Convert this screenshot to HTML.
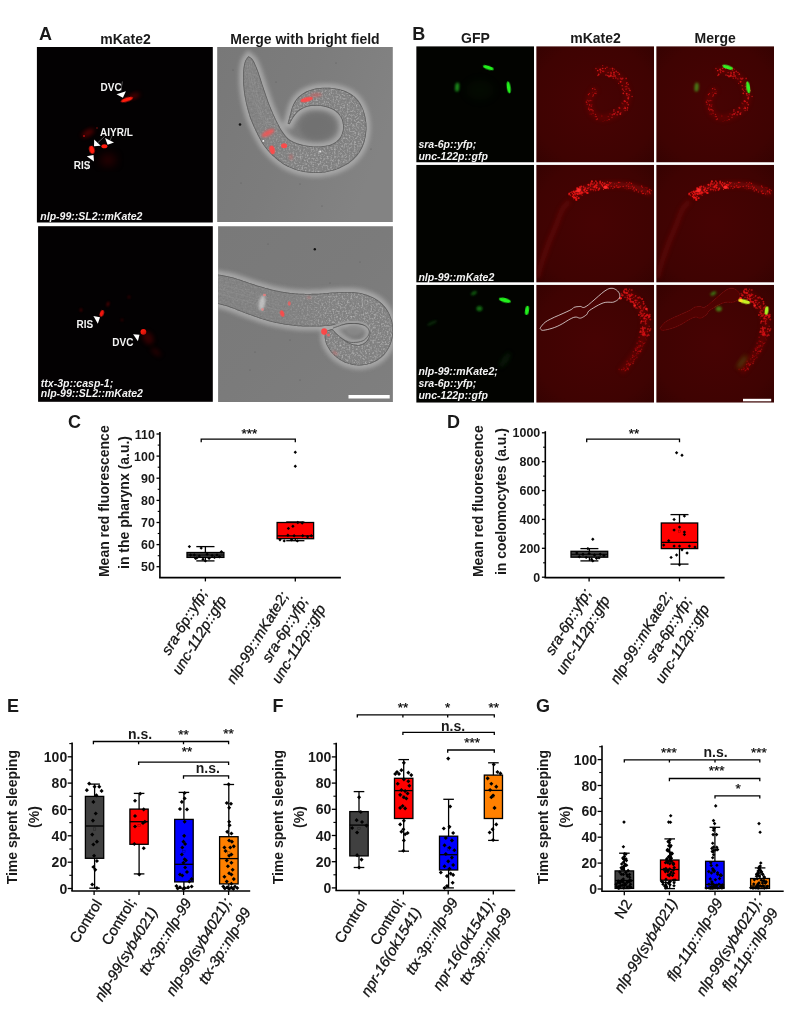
<!DOCTYPE html>
<html><head><meta charset="utf-8"><title>Figure</title>
<style>
html,body{margin:0;padding:0;background:#fff;}
body{width:812px;height:1010px;overflow:hidden;font-family:"Liberation Sans", Arial, sans-serif;}
svg{display:block;font-family:"Liberation Sans", Arial, sans-serif;}
</style></head><body>
<svg width="812" height="1010" viewBox="0 0 812 1010">
<defs>
<filter id="b05" x="-50%" y="-50%" width="200%" height="200%"><feGaussianBlur stdDeviation="0.5"/></filter>
<filter id="b08" x="-50%" y="-50%" width="200%" height="200%"><feGaussianBlur stdDeviation="0.8"/></filter>
<filter id="b1" x="-50%" y="-50%" width="200%" height="200%"><feGaussianBlur stdDeviation="1.1"/></filter>
<filter id="b2" x="-50%" y="-50%" width="200%" height="200%"><feGaussianBlur stdDeviation="2"/></filter>
<filter id="b4" x="-50%" y="-50%" width="200%" height="200%"><feGaussianBlur stdDeviation="4"/></filter>
<filter id="grain" x="0" y="0" width="100%" height="100%">
 <feTurbulence type="fractalNoise" baseFrequency="0.55" numOctaves="2" seed="3" result="n"/>
 <feColorMatrix in="n" type="matrix" values="0 0 0 0 1  0 0 0 0 1  0 0 0 0 1  2.2 0 0 0 -1.0" result="m"/>
 <feGaussianBlur in="m" stdDeviation="0.45"/>
</filter>
<filter id="grainD" x="0" y="0" width="100%" height="100%">
 <feTurbulence type="fractalNoise" baseFrequency="0.5" numOctaves="2" seed="11" result="n"/>
 <feColorMatrix in="n" type="matrix" values="0 0 0 0 0  0 0 0 0 0  0 0 0 0 0  0 2.2 0 0 -1.0" result="m"/>
 <feGaussianBlur in="m" stdDeviation="0.45"/>
</filter>
<linearGradient id="bfA" x1="0" y1="0" x2="1" y2="0.4"><stop offset="0" stop-color="#787878"/><stop offset="0.5" stop-color="#7c7c7c"/><stop offset="1" stop-color="#838383"/></linearGradient>
<linearGradient id="bfB" x1="0" y1="0" x2="1" y2="1"><stop offset="0" stop-color="#797979"/><stop offset="0.5" stop-color="#7b7b7b"/><stop offset="1" stop-color="#7f7f7f"/></linearGradient>
<radialGradient id="redbg" cx="50%" cy="50%" r="75%"><stop offset="0" stop-color="#470303"/><stop offset="0.7" stop-color="#3f0302"/><stop offset="1" stop-color="#330201"/></radialGradient>
<linearGradient id="mg1" gradientUnits="userSpaceOnUse" x1="255" y1="0" x2="300" y2="0"><stop offset="0" stop-color="#fff" stop-opacity="0.3"/><stop offset="1" stop-color="#fff" stop-opacity="1"/></linearGradient>
<mask id="mk1" maskUnits="userSpaceOnUse" x="217" y="47" width="177" height="177"><rect x="217" y="47" width="177" height="177" fill="url(#mg1)"/></mask>
<linearGradient id="mg2" gradientUnits="userSpaceOnUse" x1="285" y1="0" x2="335" y2="0"><stop offset="0" stop-color="#fff" stop-opacity="0.3"/><stop offset="1" stop-color="#fff" stop-opacity="1"/></linearGradient>
<mask id="mk2" maskUnits="userSpaceOnUse" x="217" y="226" width="177" height="177"><rect x="217" y="226" width="177" height="177" fill="url(#mg2)"/></mask>
</defs>
<text x="39.1" y="40.0" font-size="18" font-weight="bold" font-style="normal" text-anchor="start" fill="#1a1a1a" >A</text>
<text x="412.2" y="40.0" font-size="18" font-weight="bold" font-style="normal" text-anchor="start" fill="#1a1a1a" >B</text>
<text x="125.5" y="43.8" font-size="14" font-weight="bold" font-style="normal" text-anchor="middle" fill="#1a1a1a" >mKate2</text>
<text x="305.0" y="43.8" font-size="14" font-weight="bold" font-style="normal" text-anchor="middle" fill="#1a1a1a" >Merge with bright field</text>
<text x="475.5" y="42.8" font-size="14" font-weight="bold" font-style="normal" text-anchor="middle" fill="#1a1a1a" >GFP</text>
<text x="595.5" y="42.8" font-size="14" font-weight="bold" font-style="normal" text-anchor="middle" fill="#1a1a1a" >mKate2</text>
<text x="715.2" y="42.8" font-size="14" font-weight="bold" font-style="normal" text-anchor="middle" fill="#1a1a1a" >Merge</text>
<rect x="36.9" y="47" width="175.9" height="175.5" fill="#030102"/>
<ellipse cx="88.0" cy="133.0" rx="7" ry="3" transform="rotate(-30 88.0 133.0)" fill="#a00000" opacity="0.5" filter="url(#b2)"/>
<ellipse cx="84.0" cy="136.0" rx="1" ry="1" transform="rotate(0 84.0 136.0)" fill="#d01010" opacity="0.8" filter="url(#b05)"/>
<ellipse cx="97.0" cy="128.0" rx="0.8" ry="0.8" transform="rotate(0 97.0 128.0)" fill="#c01010" opacity="0.7" filter="url(#b05)"/>
<ellipse cx="134.0" cy="96.0" rx="6" ry="2.5" transform="rotate(-20 134.0 96.0)" fill="#8a0000" opacity="0.55" filter="url(#b2)"/>
<ellipse cx="108.0" cy="160.0" rx="8" ry="6" transform="rotate(0 108.0 160.0)" fill="#500000" opacity="0.5" filter="url(#b4)"/>
<ellipse cx="126.9" cy="99.6" rx="6.4" ry="2.0" transform="rotate(-18 126.9 99.6)" fill="#ff1a10" opacity="1" filter="url(#b05)"/>
<ellipse cx="104.4" cy="146.3" rx="3.0" ry="2.0" transform="rotate(0 104.4 146.3)" fill="#ff1a10" opacity="1" filter="url(#b05)"/>
<ellipse cx="91.9" cy="149.8" rx="2.6" ry="4.0" transform="rotate(-15 91.9 149.8)" fill="#ff1a10" opacity="1" filter="url(#b05)"/>
<path d="M122.4 81.5L120.9 90.8" stroke="#cfcfcf" stroke-width="0.4" fill="none"/>
<path d="M104.5 136.5L98.0 142.5" stroke="#cfcfcf" stroke-width="0.4" fill="none"/>
<path d="M112.0 136.0L110.0 140.5" stroke="#cfcfcf" stroke-width="0.4" fill="none"/>
<path d="M89.5 161.0L86.5 170.0" stroke="#cfcfcf" stroke-width="0.4" fill="none"/>
<path d="M116.5 94.3L125.9 91.3L122.9 97.8Z" fill="#fff"/>
<path d="M94.2 139.4L100.7 145.8L94.0 146.3Z" fill="#fff"/>
<path d="M105.1 137.9L114.0 142.5L107.6 144.8Z" fill="#fff"/>
<path d="M86.8 156.2L93.5 155.0L94.0 161.6Z" fill="#fff"/>
<text x="100.5" y="90.9" font-size="10" font-weight="bold" font-style="normal" text-anchor="start" fill="#f4f4f4" >DVC</text>
<text x="100.0" y="135.7" font-size="10" font-weight="bold" font-style="normal" text-anchor="start" fill="#f4f4f4" >AIYR/L</text>
<text x="73.7" y="168.9" font-size="10" font-weight="bold" font-style="normal" text-anchor="start" fill="#f4f4f4" >RIS</text>
<text x="40.3" y="220.0" font-size="10.5" font-weight="bold" font-style="italic" text-anchor="start" fill="#f4f4f4" >nlp-99::SL2::mKate2</text>
<rect x="38.1" y="226.2" width="174.7" height="175.6" fill="#030102"/>
<ellipse cx="101.8" cy="313.4" rx="1.9" ry="3.3" transform="rotate(20 101.8 313.4)" fill="#f01810" opacity="1" filter="url(#b05)"/>
<ellipse cx="143.4" cy="331.8" rx="2.9" ry="2.9" transform="rotate(0 143.4 331.8)" fill="#ff1a10" opacity="1" filter="url(#b05)"/>
<ellipse cx="108.0" cy="304.0" rx="1.2" ry="2.5" transform="rotate(20 108.0 304.0)" fill="#700000" opacity="0.8" filter="url(#b08)"/>
<ellipse cx="81.0" cy="310.0" rx="1.2" ry="1.8" transform="rotate(0 81.0 310.0)" fill="#600000" opacity="0.8" filter="url(#b08)"/>
<ellipse cx="129.0" cy="297.0" rx="1.5" ry="1.5" transform="rotate(0 129.0 297.0)" fill="#400000" opacity="0.8" filter="url(#b08)"/>
<ellipse cx="122.0" cy="320.0" rx="1.2" ry="1.2" transform="rotate(0 122.0 320.0)" fill="#500000" opacity="0.8" filter="url(#b08)"/>
<ellipse cx="148.0" cy="338.0" rx="5" ry="7" transform="rotate(-30 148.0 338.0)" fill="#600000" opacity="0.5" filter="url(#b2)"/>
<ellipse cx="156.0" cy="352.0" rx="6" ry="3" transform="rotate(40 156.0 352.0)" fill="#400000" opacity="0.5" filter="url(#b2)"/>
<path d="M93.4 316.1L100.0 317.2L97.8 323.7Z" fill="#fff"/>
<path d="M133.1 334.3L139.5 334.7L137.9 341.3Z" fill="#fff"/>
<text x="76.6" y="327.5" font-size="10" font-weight="bold" font-style="normal" text-anchor="start" fill="#f4f4f4" >RIS</text>
<text x="112.3" y="345.7" font-size="10" font-weight="bold" font-style="normal" text-anchor="start" fill="#f4f4f4" >DVC</text>
<text x="40.8" y="387.3" font-size="10.5" font-weight="bold" font-style="italic" text-anchor="start" fill="#f4f4f4" >ttx-3p::casp-1;</text>
<text x="40.8" y="397.4" font-size="10.5" font-weight="bold" font-style="italic" text-anchor="start" fill="#f4f4f4" >nlp-99::SL2::mKate2</text>
<svg x="217.2" y="47" width="175.6" height="175" viewBox="217.2 47 175.6 175" overflow="hidden">
<rect x="217" y="47" width="176.5" height="176" fill="url(#bfA)"/>
<path d="M248.5 56.1L248.2 56.5L247.8 56.9L247.4 57.4L246.9 58.0L246.4 58.7L246.0 59.4L245.5 60.2L245.1 61.1L244.8 62.0L244.5 63.0L244.3 64.0L244.0 65.1L243.8 66.3L243.6 67.5L243.4 68.9L243.3 70.3L243.2 71.9L243.1 73.6L243.1 75.4L243.0 77.2L243.0 79.2L243.1 81.1L243.2 83.1L243.3 85.1L243.5 87.1L243.7 89.1L243.9 91.2L244.2 93.3L244.5 95.4L244.9 97.5L245.3 99.6L245.7 101.7L246.2 103.8L246.7 105.9L247.2 108.0L247.8 110.2L248.4 112.3L249.0 114.3L249.6 116.4L250.3 118.4L251.0 120.3L251.8 122.2L252.6 124.1L253.4 126.0L254.2 127.8L255.1 129.6L255.9 131.4L256.8 133.1L257.6 134.9L258.5 136.5L259.4 138.2L260.3 139.8L261.2 141.4L262.1 143.0L263.1 144.5L264.2 146.1L265.3 147.6L266.5 149.0L267.7 150.4L268.9 151.8L270.2 153.2L271.5 154.6L272.9 155.9L274.3 157.1L275.8 158.4L277.3 159.7L278.8 160.9L280.4 162.1L282.0 163.3L283.7 164.4L285.5 165.4L287.3 166.4L289.2 167.3L291.2 168.1L293.2 168.9L295.4 169.7L297.5 170.4L299.7 171.0L301.8 171.5L303.9 171.9L306.0 172.3L308.1 172.6L310.1 172.8L312.2 173.0L314.3 173.0L316.4 173.1L318.4 173.0L320.5 172.9L322.6 172.6L324.7 172.4L326.8 172.0L329.0 171.6L331.0 171.1L333.1 170.5L335.2 169.9L337.1 169.2L339.1 168.4L341.1 167.5L343.0 166.6L344.9 165.6L346.8 164.5L348.6 163.4L350.3 162.1L351.9 160.8L353.5 159.5L354.9 158.0L356.3 156.5L357.7 154.9L358.9 153.2L360.1 151.5L361.1 149.7L362.1 147.9L362.9 146.0L363.7 144.0L364.4 141.9L364.9 139.8L365.4 137.7L365.8 135.5L366.1 133.4L366.3 131.3L366.5 129.2L366.5 127.1L366.4 124.9L366.3 122.8L366.0 120.7L365.7 118.6L365.3 116.6L364.9 114.7L364.3 112.8L363.7 110.9L363.0 109.0L362.2 107.2L361.3 105.5L360.4 103.8L359.4 102.3L358.4 100.8L357.3 99.5L356.2 98.2L355.0 97.1L353.7 96.0L352.4 95.1L351.1 94.1L349.7 93.3L348.2 92.5L346.8 91.8L345.2 91.1L343.7 90.5L342.1 90.0L340.4 89.5L338.7 89.1L337.0 88.7L335.3 88.4L333.5 88.2L331.7 88.0L329.8 87.8L327.9 87.7L326.0 87.7L324.1 87.7L322.3 87.7L320.5 87.9L318.8 88.1L317.1 88.3L315.4 88.6L313.7 89.0L312.1 89.5L310.5 89.9L309.0 90.5L307.6 91.0L306.2 91.6L304.9 92.3L303.7 93.0L302.5 93.7L301.4 94.5L300.3 95.4L299.3 96.2L298.4 97.1L297.5 98.0L296.6 99.0L295.9 100.0L295.2 101.1L294.5 102.1L293.9 103.2L293.3 104.3L292.8 105.4L292.3 106.5L291.9 107.7L291.6 108.8L291.2 110.0L290.9 111.2L290.6 112.4L290.4 113.5L290.0 114.7L289.7 115.8L289.4 117.1L289.0 118.4L288.7 119.7L288.3 120.9L288.1 121.9L287.8 122.8L287.6 123.5L289.5 124.3L289.8 123.7L290.2 122.9L290.7 122.0L291.2 121.0L291.8 119.9L292.4 118.9L293.1 117.8L293.7 116.9L294.4 116.0L295.1 115.1L295.9 114.1L296.7 113.2L297.5 112.3L298.3 111.5L299.2 110.7L300.2 110.0L301.2 109.4L302.2 108.8L303.3 108.3L304.4 107.8L305.6 107.3L306.8 106.9L308.1 106.6L309.4 106.3L310.9 106.1L312.5 106.0L314.1 105.9L315.8 105.9L317.5 105.9L319.2 106.0L320.8 106.1L322.4 106.3L323.9 106.6L325.4 106.9L326.8 107.3L328.3 107.7L329.6 108.2L331.0 108.8L332.3 109.4L333.5 110.0L334.6 110.8L335.7 111.6L336.7 112.4L337.7 113.3L338.6 114.3L339.4 115.3L340.2 116.3L340.8 117.4L341.4 118.6L341.9 119.8L342.3 121.0L342.6 122.3L342.8 123.7L343.0 125.0L343.1 126.3L343.1 127.6L343.0 128.9L342.8 130.2L342.5 131.6L342.1 132.9L341.7 134.2L341.2 135.5L340.6 136.7L339.9 137.8L339.2 138.8L338.3 139.7L337.4 140.6L336.4 141.5L335.3 142.3L334.1 143.0L332.9 143.6L331.6 144.2L330.2 144.7L328.7 145.2L327.2 145.5L325.5 145.8L323.9 146.0L322.1 146.2L320.4 146.4L318.7 146.4L316.9 146.5L315.1 146.4L313.2 146.4L311.3 146.2L309.4 146.0L307.5 145.8L305.7 145.5L303.9 145.1L302.2 144.7L300.4 144.3L298.7 143.8L297.0 143.2L295.3 142.6L293.8 142.0L292.3 141.3L291.0 140.5L289.8 139.8L288.7 139.0L287.7 138.1L286.9 137.2L286.0 136.3L285.2 135.3L284.4 134.3L283.6 133.1L282.7 132.0L281.9 130.8L281.1 129.5L280.3 128.2L279.6 126.8L278.8 125.3L278.0 123.7L277.1 122.0L276.2 120.2L275.3 118.3L274.4 116.3L273.4 114.2L272.5 112.0L271.5 109.8L270.6 107.6L269.7 105.4L268.9 103.2L268.0 100.9L267.2 98.5L266.4 96.2L265.6 93.8L264.8 91.5L264.0 89.2L263.3 86.9L262.5 84.7L261.8 82.5L261.1 80.3L260.4 78.1L259.7 76.0L259.0 74.0L258.4 72.1L257.7 70.3L257.1 68.7L256.5 67.2L255.9 65.8L255.3 64.5L254.8 63.2L254.2 62.1L253.7 61.1L253.1 60.2L252.5 59.3L251.8 58.6L251.2 58.0L250.5 57.5L249.9 57.1L249.3 56.7L248.8 56.4L248.5 56.1Z" fill="none" stroke="#acacac" stroke-width="8" filter="url(#b2)" opacity="0.9"/>
<path d="M248.5 56.1L248.2 56.5L247.8 56.9L247.4 57.4L246.9 58.0L246.4 58.7L246.0 59.4L245.5 60.2L245.1 61.1L244.8 62.0L244.5 63.0L244.3 64.0L244.0 65.1L243.8 66.3L243.6 67.5L243.4 68.9L243.3 70.3L243.2 71.9L243.1 73.6L243.1 75.4L243.0 77.2L243.0 79.2L243.1 81.1L243.2 83.1L243.3 85.1L243.5 87.1L243.7 89.1L243.9 91.2L244.2 93.3L244.5 95.4L244.9 97.5L245.3 99.6L245.7 101.7L246.2 103.8L246.7 105.9L247.2 108.0L247.8 110.2L248.4 112.3L249.0 114.3L249.6 116.4L250.3 118.4L251.0 120.3L251.8 122.2L252.6 124.1L253.4 126.0L254.2 127.8L255.1 129.6L255.9 131.4L256.8 133.1L257.6 134.9L258.5 136.5L259.4 138.2L260.3 139.8L261.2 141.4L262.1 143.0L263.1 144.5L264.2 146.1L265.3 147.6L266.5 149.0L267.7 150.4L268.9 151.8L270.2 153.2L271.5 154.6L272.9 155.9L274.3 157.1L275.8 158.4L277.3 159.7L278.8 160.9L280.4 162.1L282.0 163.3L283.7 164.4L285.5 165.4L287.3 166.4L289.2 167.3L291.2 168.1L293.2 168.9L295.4 169.7L297.5 170.4L299.7 171.0L301.8 171.5L303.9 171.9L306.0 172.3L308.1 172.6L310.1 172.8L312.2 173.0L314.3 173.0L316.4 173.1L318.4 173.0L320.5 172.9L322.6 172.6L324.7 172.4L326.8 172.0L329.0 171.6L331.0 171.1L333.1 170.5L335.2 169.9L337.1 169.2L339.1 168.4L341.1 167.5L343.0 166.6L344.9 165.6L346.8 164.5L348.6 163.4L350.3 162.1L351.9 160.8L353.5 159.5L354.9 158.0L356.3 156.5L357.7 154.9L358.9 153.2L360.1 151.5L361.1 149.7L362.1 147.9L362.9 146.0L363.7 144.0L364.4 141.9L364.9 139.8L365.4 137.7L365.8 135.5L366.1 133.4L366.3 131.3L366.5 129.2L366.5 127.1L366.4 124.9L366.3 122.8L366.0 120.7L365.7 118.6L365.3 116.6L364.9 114.7L364.3 112.8L363.7 110.9L363.0 109.0L362.2 107.2L361.3 105.5L360.4 103.8L359.4 102.3L358.4 100.8L357.3 99.5L356.2 98.2L355.0 97.1L353.7 96.0L352.4 95.1L351.1 94.1L349.7 93.3L348.2 92.5L346.8 91.8L345.2 91.1L343.7 90.5L342.1 90.0L340.4 89.5L338.7 89.1L337.0 88.7L335.3 88.4L333.5 88.2L331.7 88.0L329.8 87.8L327.9 87.7L326.0 87.7L324.1 87.7L322.3 87.7L320.5 87.9L318.8 88.1L317.1 88.3L315.4 88.6L313.7 89.0L312.1 89.5L310.5 89.9L309.0 90.5L307.6 91.0L306.2 91.6L304.9 92.3L303.7 93.0L302.5 93.7L301.4 94.5L300.3 95.4L299.3 96.2L298.4 97.1L297.5 98.0L296.6 99.0L295.9 100.0L295.2 101.1L294.5 102.1L293.9 103.2L293.3 104.3L292.8 105.4L292.3 106.5L291.9 107.7L291.6 108.8L291.2 110.0L290.9 111.2L290.6 112.4L290.4 113.5L290.0 114.7L289.7 115.8L289.4 117.1L289.0 118.4L288.7 119.7L288.3 120.9L288.1 121.9L287.8 122.8L287.6 123.5L289.5 124.3L289.8 123.7L290.2 122.9L290.7 122.0L291.2 121.0L291.8 119.9L292.4 118.9L293.1 117.8L293.7 116.9L294.4 116.0L295.1 115.1L295.9 114.1L296.7 113.2L297.5 112.3L298.3 111.5L299.2 110.7L300.2 110.0L301.2 109.4L302.2 108.8L303.3 108.3L304.4 107.8L305.6 107.3L306.8 106.9L308.1 106.6L309.4 106.3L310.9 106.1L312.5 106.0L314.1 105.9L315.8 105.9L317.5 105.9L319.2 106.0L320.8 106.1L322.4 106.3L323.9 106.6L325.4 106.9L326.8 107.3L328.3 107.7L329.6 108.2L331.0 108.8L332.3 109.4L333.5 110.0L334.6 110.8L335.7 111.6L336.7 112.4L337.7 113.3L338.6 114.3L339.4 115.3L340.2 116.3L340.8 117.4L341.4 118.6L341.9 119.8L342.3 121.0L342.6 122.3L342.8 123.7L343.0 125.0L343.1 126.3L343.1 127.6L343.0 128.9L342.8 130.2L342.5 131.6L342.1 132.9L341.7 134.2L341.2 135.5L340.6 136.7L339.9 137.8L339.2 138.8L338.3 139.7L337.4 140.6L336.4 141.5L335.3 142.3L334.1 143.0L332.9 143.6L331.6 144.2L330.2 144.7L328.7 145.2L327.2 145.5L325.5 145.8L323.9 146.0L322.1 146.2L320.4 146.4L318.7 146.4L316.9 146.5L315.1 146.4L313.2 146.4L311.3 146.2L309.4 146.0L307.5 145.8L305.7 145.5L303.9 145.1L302.2 144.7L300.4 144.3L298.7 143.8L297.0 143.2L295.3 142.6L293.8 142.0L292.3 141.3L291.0 140.5L289.8 139.8L288.7 139.0L287.7 138.1L286.9 137.2L286.0 136.3L285.2 135.3L284.4 134.3L283.6 133.1L282.7 132.0L281.9 130.8L281.1 129.5L280.3 128.2L279.6 126.8L278.8 125.3L278.0 123.7L277.1 122.0L276.2 120.2L275.3 118.3L274.4 116.3L273.4 114.2L272.5 112.0L271.5 109.8L270.6 107.6L269.7 105.4L268.9 103.2L268.0 100.9L267.2 98.5L266.4 96.2L265.6 93.8L264.8 91.5L264.0 89.2L263.3 86.9L262.5 84.7L261.8 82.5L261.1 80.3L260.4 78.1L259.7 76.0L259.0 74.0L258.4 72.1L257.7 70.3L257.1 68.7L256.5 67.2L255.9 65.8L255.3 64.5L254.8 63.2L254.2 62.1L253.7 61.1L253.1 60.2L252.5 59.3L251.8 58.6L251.2 58.0L250.5 57.5L249.9 57.1L249.3 56.7L248.8 56.4L248.5 56.1Z" fill="#838383"/>
<clipPath id="cw1"><path d="M248.5 56.1L248.2 56.5L247.8 56.9L247.4 57.4L246.9 58.0L246.4 58.7L246.0 59.4L245.5 60.2L245.1 61.1L244.8 62.0L244.5 63.0L244.3 64.0L244.0 65.1L243.8 66.3L243.6 67.5L243.4 68.9L243.3 70.3L243.2 71.9L243.1 73.6L243.1 75.4L243.0 77.2L243.0 79.2L243.1 81.1L243.2 83.1L243.3 85.1L243.5 87.1L243.7 89.1L243.9 91.2L244.2 93.3L244.5 95.4L244.9 97.5L245.3 99.6L245.7 101.7L246.2 103.8L246.7 105.9L247.2 108.0L247.8 110.2L248.4 112.3L249.0 114.3L249.6 116.4L250.3 118.4L251.0 120.3L251.8 122.2L252.6 124.1L253.4 126.0L254.2 127.8L255.1 129.6L255.9 131.4L256.8 133.1L257.6 134.9L258.5 136.5L259.4 138.2L260.3 139.8L261.2 141.4L262.1 143.0L263.1 144.5L264.2 146.1L265.3 147.6L266.5 149.0L267.7 150.4L268.9 151.8L270.2 153.2L271.5 154.6L272.9 155.9L274.3 157.1L275.8 158.4L277.3 159.7L278.8 160.9L280.4 162.1L282.0 163.3L283.7 164.4L285.5 165.4L287.3 166.4L289.2 167.3L291.2 168.1L293.2 168.9L295.4 169.7L297.5 170.4L299.7 171.0L301.8 171.5L303.9 171.9L306.0 172.3L308.1 172.6L310.1 172.8L312.2 173.0L314.3 173.0L316.4 173.1L318.4 173.0L320.5 172.9L322.6 172.6L324.7 172.4L326.8 172.0L329.0 171.6L331.0 171.1L333.1 170.5L335.2 169.9L337.1 169.2L339.1 168.4L341.1 167.5L343.0 166.6L344.9 165.6L346.8 164.5L348.6 163.4L350.3 162.1L351.9 160.8L353.5 159.5L354.9 158.0L356.3 156.5L357.7 154.9L358.9 153.2L360.1 151.5L361.1 149.7L362.1 147.9L362.9 146.0L363.7 144.0L364.4 141.9L364.9 139.8L365.4 137.7L365.8 135.5L366.1 133.4L366.3 131.3L366.5 129.2L366.5 127.1L366.4 124.9L366.3 122.8L366.0 120.7L365.7 118.6L365.3 116.6L364.9 114.7L364.3 112.8L363.7 110.9L363.0 109.0L362.2 107.2L361.3 105.5L360.4 103.8L359.4 102.3L358.4 100.8L357.3 99.5L356.2 98.2L355.0 97.1L353.7 96.0L352.4 95.1L351.1 94.1L349.7 93.3L348.2 92.5L346.8 91.8L345.2 91.1L343.7 90.5L342.1 90.0L340.4 89.5L338.7 89.1L337.0 88.7L335.3 88.4L333.5 88.2L331.7 88.0L329.8 87.8L327.9 87.7L326.0 87.7L324.1 87.7L322.3 87.7L320.5 87.9L318.8 88.1L317.1 88.3L315.4 88.6L313.7 89.0L312.1 89.5L310.5 89.9L309.0 90.5L307.6 91.0L306.2 91.6L304.9 92.3L303.7 93.0L302.5 93.7L301.4 94.5L300.3 95.4L299.3 96.2L298.4 97.1L297.5 98.0L296.6 99.0L295.9 100.0L295.2 101.1L294.5 102.1L293.9 103.2L293.3 104.3L292.8 105.4L292.3 106.5L291.9 107.7L291.6 108.8L291.2 110.0L290.9 111.2L290.6 112.4L290.4 113.5L290.0 114.7L289.7 115.8L289.4 117.1L289.0 118.4L288.7 119.7L288.3 120.9L288.1 121.9L287.8 122.8L287.6 123.5L289.5 124.3L289.8 123.7L290.2 122.9L290.7 122.0L291.2 121.0L291.8 119.9L292.4 118.9L293.1 117.8L293.7 116.9L294.4 116.0L295.1 115.1L295.9 114.1L296.7 113.2L297.5 112.3L298.3 111.5L299.2 110.7L300.2 110.0L301.2 109.4L302.2 108.8L303.3 108.3L304.4 107.8L305.6 107.3L306.8 106.9L308.1 106.6L309.4 106.3L310.9 106.1L312.5 106.0L314.1 105.9L315.8 105.9L317.5 105.9L319.2 106.0L320.8 106.1L322.4 106.3L323.9 106.6L325.4 106.9L326.8 107.3L328.3 107.7L329.6 108.2L331.0 108.8L332.3 109.4L333.5 110.0L334.6 110.8L335.7 111.6L336.7 112.4L337.7 113.3L338.6 114.3L339.4 115.3L340.2 116.3L340.8 117.4L341.4 118.6L341.9 119.8L342.3 121.0L342.6 122.3L342.8 123.7L343.0 125.0L343.1 126.3L343.1 127.6L343.0 128.9L342.8 130.2L342.5 131.6L342.1 132.9L341.7 134.2L341.2 135.5L340.6 136.7L339.9 137.8L339.2 138.8L338.3 139.7L337.4 140.6L336.4 141.5L335.3 142.3L334.1 143.0L332.9 143.6L331.6 144.2L330.2 144.7L328.7 145.2L327.2 145.5L325.5 145.8L323.9 146.0L322.1 146.2L320.4 146.4L318.7 146.4L316.9 146.5L315.1 146.4L313.2 146.4L311.3 146.2L309.4 146.0L307.5 145.8L305.7 145.5L303.9 145.1L302.2 144.7L300.4 144.3L298.7 143.8L297.0 143.2L295.3 142.6L293.8 142.0L292.3 141.3L291.0 140.5L289.8 139.8L288.7 139.0L287.7 138.1L286.9 137.2L286.0 136.3L285.2 135.3L284.4 134.3L283.6 133.1L282.7 132.0L281.9 130.8L281.1 129.5L280.3 128.2L279.6 126.8L278.8 125.3L278.0 123.7L277.1 122.0L276.2 120.2L275.3 118.3L274.4 116.3L273.4 114.2L272.5 112.0L271.5 109.8L270.6 107.6L269.7 105.4L268.9 103.2L268.0 100.9L267.2 98.5L266.4 96.2L265.6 93.8L264.8 91.5L264.0 89.2L263.3 86.9L262.5 84.7L261.8 82.5L261.1 80.3L260.4 78.1L259.7 76.0L259.0 74.0L258.4 72.1L257.7 70.3L257.1 68.7L256.5 67.2L255.9 65.8L255.3 64.5L254.8 63.2L254.2 62.1L253.7 61.1L253.1 60.2L252.5 59.3L251.8 58.6L251.2 58.0L250.5 57.5L249.9 57.1L249.3 56.7L248.8 56.4L248.5 56.1Z"/></clipPath>
<g clip-path="url(#cw1)">
<g mask="url(#mk1)"><rect x="217.3" y="47" width="175.7" height="175.5" filter="url(#grain)" opacity="0.42"/></g>
<path d="M246.8 61.1L246.9 62.1L247.1 63.3L247.3 64.8L247.5 66.5L247.7 68.3L247.9 70.2L248.2 72.1L248.5 74.0L248.8 75.9L249.2 77.9L249.5 79.9L249.9 82.0L250.3 84.1L250.8 86.3L251.3 88.5L251.8 90.6L252.4 92.9L253.0 95.2L253.7 97.5L254.3 99.9L255.0 102.2L255.8 104.6L256.6 106.9L257.4 109.1L258.2 111.4L259.2 113.8L260.3 116.2L261.4 118.6L262.4 120.8L263.4 122.8L264.2 124.5L264.7 125.7" fill="none" stroke="#9a9a9a" stroke-width="0.7" opacity="0.5" filter="url(#b05)"/>
<path d="M249.0 61.1L249.1 62.1L249.3 63.3L249.5 64.8L249.7 66.5L249.9 68.3L250.1 70.2L250.4 72.1L250.7 74.0L251.0 75.9L251.4 77.9L251.7 79.9L252.1 82.0L252.5 84.1L253.0 86.3L253.5 88.5L254.0 90.6L254.6 92.9L255.2 95.2L255.9 97.5L256.5 99.9L257.2 102.2L258.0 104.6L258.8 106.9L259.6 109.1L260.4 111.4L261.4 113.8L262.5 116.2L263.6 118.6L264.6 120.8L265.6 122.8L266.4 124.5L266.9 125.7" fill="none" stroke="#9a9a9a" stroke-width="0.7" opacity="0.5" filter="url(#b05)"/>
<path d="M251.2 61.1L251.3 62.1L251.5 63.3L251.7 64.8L251.9 66.5L252.1 68.3L252.3 70.2L252.6 72.1L252.9 74.0L253.2 75.9L253.6 77.9L253.9 79.9L254.3 82.0L254.7 84.1L255.2 86.3L255.7 88.5L256.2 90.6L256.8 92.9L257.4 95.2L258.1 97.5L258.7 99.9L259.4 102.2L260.2 104.6L261.0 106.9L261.8 109.1L262.6 111.4L263.6 113.8L264.7 116.2L265.8 118.6L266.8 120.8L267.8 122.8L268.6 124.5L269.1 125.7" fill="none" stroke="#9a9a9a" stroke-width="0.7" opacity="0.5" filter="url(#b05)"/>
<rect x="217.3" y="47" width="175.7" height="175.5" filter="url(#grainD)" opacity="0.07"/>
<path d="M248.5 56.1L248.2 56.5L247.8 56.9L247.4 57.4L246.9 58.0L246.4 58.7L246.0 59.4L245.5 60.2L245.1 61.1L244.8 62.0L244.5 63.0L244.3 64.0L244.0 65.1L243.8 66.3L243.6 67.5L243.4 68.9L243.3 70.3L243.2 71.9L243.1 73.6L243.1 75.4L243.0 77.2L243.0 79.2L243.1 81.1L243.2 83.1L243.3 85.1L243.5 87.1L243.7 89.1L243.9 91.2L244.2 93.3L244.5 95.4L244.9 97.5L245.3 99.6L245.7 101.7L246.2 103.8L246.7 105.9L247.2 108.0L247.8 110.2L248.4 112.3L249.0 114.3L249.6 116.4L250.3 118.4L251.0 120.3L251.8 122.2L252.6 124.1L253.4 126.0L254.2 127.8L255.1 129.6L255.9 131.4L256.8 133.1L257.6 134.9L258.5 136.5L259.4 138.2L260.3 139.8L261.2 141.4L262.1 143.0L263.1 144.5L264.2 146.1L265.3 147.6L266.5 149.0L267.7 150.4L268.9 151.8L270.2 153.2L271.5 154.6L272.9 155.9L274.3 157.1L275.8 158.4L277.3 159.7L278.8 160.9L280.4 162.1L282.0 163.3L283.7 164.4L285.5 165.4L287.3 166.4L289.2 167.3L291.2 168.1L293.2 168.9L295.4 169.7L297.5 170.4L299.7 171.0L301.8 171.5L303.9 171.9L306.0 172.3L308.1 172.6L310.1 172.8L312.2 173.0L314.3 173.0L316.4 173.1L318.4 173.0L320.5 172.9L322.6 172.6L324.7 172.4L326.8 172.0L329.0 171.6L331.0 171.1L333.1 170.5L335.2 169.9L337.1 169.2L339.1 168.4L341.1 167.5L343.0 166.6L344.9 165.6L346.8 164.5L348.6 163.4L350.3 162.1L351.9 160.8L353.5 159.5L354.9 158.0L356.3 156.5L357.7 154.9L358.9 153.2L360.1 151.5L361.1 149.7L362.1 147.9L362.9 146.0L363.7 144.0L364.4 141.9L364.9 139.8L365.4 137.7L365.8 135.5L366.1 133.4L366.3 131.3L366.5 129.2L366.5 127.1L366.4 124.9L366.3 122.8L366.0 120.7L365.7 118.6L365.3 116.6L364.9 114.7L364.3 112.8L363.7 110.9L363.0 109.0L362.2 107.2L361.3 105.5L360.4 103.8L359.4 102.3L358.4 100.8L357.3 99.5L356.2 98.2L355.0 97.1L353.7 96.0L352.4 95.1L351.1 94.1L349.7 93.3L348.2 92.5L346.8 91.8L345.2 91.1L343.7 90.5L342.1 90.0L340.4 89.5L338.7 89.1L337.0 88.7L335.3 88.4L333.5 88.2L331.7 88.0L329.8 87.8L327.9 87.7L326.0 87.7L324.1 87.7L322.3 87.7L320.5 87.9L318.8 88.1L317.1 88.3L315.4 88.6L313.7 89.0L312.1 89.5L310.5 89.9L309.0 90.5L307.6 91.0L306.2 91.6L304.9 92.3L303.7 93.0L302.5 93.7L301.4 94.5L300.3 95.4L299.3 96.2L298.4 97.1L297.5 98.0L296.6 99.0L295.9 100.0L295.2 101.1L294.5 102.1L293.9 103.2L293.3 104.3L292.8 105.4L292.3 106.5L291.9 107.7L291.6 108.8L291.2 110.0L290.9 111.2L290.6 112.4L290.4 113.5L290.0 114.7L289.7 115.8L289.4 117.1L289.0 118.4L288.7 119.7L288.3 120.9L288.1 121.9L287.8 122.8L287.6 123.5L289.5 124.3L289.8 123.7L290.2 122.9L290.7 122.0L291.2 121.0L291.8 119.9L292.4 118.9L293.1 117.8L293.7 116.9L294.4 116.0L295.1 115.1L295.9 114.1L296.7 113.2L297.5 112.3L298.3 111.5L299.2 110.7L300.2 110.0L301.2 109.4L302.2 108.8L303.3 108.3L304.4 107.8L305.6 107.3L306.8 106.9L308.1 106.6L309.4 106.3L310.9 106.1L312.5 106.0L314.1 105.9L315.8 105.9L317.5 105.9L319.2 106.0L320.8 106.1L322.4 106.3L323.9 106.6L325.4 106.9L326.8 107.3L328.3 107.7L329.6 108.2L331.0 108.8L332.3 109.4L333.5 110.0L334.6 110.8L335.7 111.6L336.7 112.4L337.7 113.3L338.6 114.3L339.4 115.3L340.2 116.3L340.8 117.4L341.4 118.6L341.9 119.8L342.3 121.0L342.6 122.3L342.8 123.7L343.0 125.0L343.1 126.3L343.1 127.6L343.0 128.9L342.8 130.2L342.5 131.6L342.1 132.9L341.7 134.2L341.2 135.5L340.6 136.7L339.9 137.8L339.2 138.8L338.3 139.7L337.4 140.6L336.4 141.5L335.3 142.3L334.1 143.0L332.9 143.6L331.6 144.2L330.2 144.7L328.7 145.2L327.2 145.5L325.5 145.8L323.9 146.0L322.1 146.2L320.4 146.4L318.7 146.4L316.9 146.5L315.1 146.4L313.2 146.4L311.3 146.2L309.4 146.0L307.5 145.8L305.7 145.5L303.9 145.1L302.2 144.7L300.4 144.3L298.7 143.8L297.0 143.2L295.3 142.6L293.8 142.0L292.3 141.3L291.0 140.5L289.8 139.8L288.7 139.0L287.7 138.1L286.9 137.2L286.0 136.3L285.2 135.3L284.4 134.3L283.6 133.1L282.7 132.0L281.9 130.8L281.1 129.5L280.3 128.2L279.6 126.8L278.8 125.3L278.0 123.7L277.1 122.0L276.2 120.2L275.3 118.3L274.4 116.3L273.4 114.2L272.5 112.0L271.5 109.8L270.6 107.6L269.7 105.4L268.9 103.2L268.0 100.9L267.2 98.5L266.4 96.2L265.6 93.8L264.8 91.5L264.0 89.2L263.3 86.9L262.5 84.7L261.8 82.5L261.1 80.3L260.4 78.1L259.7 76.0L259.0 74.0L258.4 72.1L257.7 70.3L257.1 68.7L256.5 67.2L255.9 65.8L255.3 64.5L254.8 63.2L254.2 62.1L253.7 61.1L253.1 60.2L252.5 59.3L251.8 58.6L251.2 58.0L250.5 57.5L249.9 57.1L249.3 56.7L248.8 56.4L248.5 56.1Z" fill="none" stroke="#585858" stroke-width="1.5" filter="url(#b05)" opacity="0.85"/>
</g>
<ellipse cx="317.5" cy="126.5" rx="18" ry="14" transform="rotate(0 317.5 126.5)" fill="#6a6a6a" opacity="0.6" filter="url(#b2)"/>
<ellipse cx="306.7" cy="99.5" rx="6.3" ry="2.3" transform="rotate(-14 306.7 99.5)" fill="#ff4a48" opacity="0.95" filter="url(#b05)"/>
<ellipse cx="316.0" cy="95.0" rx="6" ry="2.2" transform="rotate(-5 316.0 95.0)" fill="#d06060" opacity="0.55" filter="url(#b1)"/>
<ellipse cx="268.0" cy="133.0" rx="7" ry="2.8" transform="rotate(-28 268.0 133.0)" fill="#f85555" opacity="0.85" filter="url(#b08)"/>
<ellipse cx="272.1" cy="149.8" rx="2.7" ry="4.4" transform="rotate(-15 272.1 149.8)" fill="#ff4a48" opacity="0.95" filter="url(#b05)"/>
<ellipse cx="284.1" cy="145.7" rx="3.1" ry="2.5" transform="rotate(0 284.1 145.7)" fill="#ff4a48" opacity="0.95" filter="url(#b05)"/>
<ellipse cx="291.0" cy="157.0" rx="2" ry="3" transform="rotate(0 291.0 157.0)" fill="#d06868" opacity="0.45" filter="url(#b08)"/>
<circle cx="263.3" cy="140.9" r="0.9" fill="#f4f4f4"/>
<circle cx="320.2" cy="151.6" r="1.0" fill="#e8e8e8"/>
<circle cx="240" cy="124.5" r="1.3" fill="#141414"/>
<circle cx="336" cy="63" r="0.6" fill="#555" opacity="0.8"/>
<circle cx="276" cy="82" r="0.6" fill="#555" opacity="0.8"/>
<circle cx="352" cy="96" r="0.6" fill="#555" opacity="0.8"/>
<circle cx="300" cy="184" r="0.6" fill="#555" opacity="0.8"/>
<circle cx="241" cy="183" r="0.6" fill="#555" opacity="0.8"/>
<circle cx="371" cy="149" r="0.6" fill="#555" opacity="0.8"/>
<circle cx="233" cy="70" r="0.6" fill="#555" opacity="0.8"/>
<circle cx="322" cy="206" r="0.6" fill="#555" opacity="0.8"/>
</svg>
<svg x="218.1" y="226.2" width="174.8" height="175.8" viewBox="218.1 226.2 174.8 175.8" overflow="hidden">
<rect x="217.9" y="226" width="176" height="177" fill="url(#bfB)"/>
<path d="M204.4 301.4L205.6 301.7L207.0 301.9L208.6 302.2L210.4 302.5L212.3 302.9L214.2 303.3L216.2 303.7L218.2 304.1L220.2 304.5L222.1 304.9L223.9 305.4L225.4 305.8L226.9 306.3L228.5 306.8L230.1 307.4L231.7 308.0L233.4 308.6L235.2 309.3L237.0 310.1L238.9 310.8L240.8 311.6L242.7 312.3L244.7 313.1L246.7 313.8L248.6 314.4L250.4 315.1L252.3 315.8L254.2 316.4L256.1 317.1L258.0 317.8L259.9 318.4L261.9 319.1L263.9 319.7L265.9 320.3L268.0 320.9L270.1 321.5L272.1 322.0L274.1 322.4L276.1 322.9L278.2 323.3L280.2 323.7L282.2 324.1L284.2 324.4L286.2 324.7L288.3 325.0L290.3 325.3L292.3 325.6L294.4 325.8L296.4 326.0L298.5 326.2L300.6 326.3L302.6 326.4L304.6 326.5L306.6 326.6L308.6 326.6L310.6 326.6L312.6 326.6L314.6 326.6L316.5 326.6L318.5 326.5L320.7 326.4L322.8 326.3L324.9 326.1L327.0 325.9L329.0 325.7L331.0 325.5L332.8 325.3L334.6 325.1L336.4 324.9L338.0 324.8L339.5 324.6L341.0 324.5L342.6 324.4L344.3 324.3L345.8 324.1L347.3 324.0L348.7 323.9L349.9 323.8L351.1 323.7L352.1 323.7L353.0 323.6L353.8 323.6L354.6 323.6L355.3 323.6L356.2 323.7L357.1 323.8L358.0 323.9L358.8 324.1L359.6 324.2L360.4 324.4L361.2 324.6L361.8 324.7L362.5 324.9L363.0 325.1L363.5 325.2L363.9 325.3L364.3 325.4L364.7 325.6L365.2 325.8L365.7 326.1L366.2 326.4L366.7 326.7L367.2 327.1L367.6 327.5L368.0 327.8L368.4 328.2L368.7 328.5L368.9 328.8L369.1 329.1L369.3 329.4L369.4 329.8L369.5 330.3L369.6 330.8L369.7 331.5L369.7 332.1L369.7 332.8L369.6 333.4L369.5 334.1L369.5 334.7L369.4 335.2L369.3 335.7L369.1 336.2L368.9 336.8L368.7 337.4L368.5 337.9L368.2 338.5L367.9 339.0L367.6 339.6L367.2 340.0L366.9 340.5L366.6 340.8L366.4 341.2L366.1 341.4L365.8 341.8L365.4 342.1L364.9 342.5L364.4 342.8L363.8 343.2L363.3 343.5L362.7 343.8L362.1 344.1L361.5 344.3L360.9 344.5L360.4 344.6L360.0 344.7L359.6 344.8L359.1 344.9L358.5 344.9L357.9 344.9L357.2 344.9L356.5 344.8L355.8 344.8L355.1 344.6L354.4 344.5L353.7 344.4L353.0 344.2L352.4 344.1L351.9 343.9L351.4 343.8L350.8 343.5L350.2 343.3L349.7 343.0L349.1 342.8L348.5 342.4L347.9 342.1L347.3 341.8L346.6 341.4L346.0 341.0L345.5 340.7L344.9 340.3L344.3 339.9L343.6 339.4L343.0 338.9L342.4 338.4L341.7 337.9L341.1 337.4L340.5 336.8L339.9 336.3L339.3 335.8L338.8 335.4L338.3 335.1L337.8 334.7L337.2 334.1L336.6 333.6L336.0 332.9L335.3 332.3L334.7 331.6L334.2 330.9L333.6 330.3L333.1 329.7L332.7 329.1L332.3 328.7L324.9 331.5L324.9 331.9L324.8 332.5L324.8 333.2L324.7 334.1L324.7 335.0L324.7 336.1L324.7 337.2L324.8 338.3L325.0 339.6L325.2 340.8L325.5 342.1L326.0 343.3L326.4 344.5L326.9 345.5L327.5 346.6L328.1 347.6L328.7 348.6L329.4 349.7L330.1 350.7L330.8 351.7L331.6 352.7L332.5 353.6L333.4 354.6L334.2 355.4L335.1 356.3L336.0 357.1L337.0 357.8L338.0 358.6L339.0 359.3L340.0 359.9L341.1 360.6L342.3 361.2L343.5 361.8L344.7 362.4L346.0 362.9L347.2 363.3L348.4 363.7L349.7 364.1L350.9 364.4L352.2 364.7L353.6 365.0L355.0 365.2L356.4 365.3L357.9 365.4L359.4 365.5L361.0 365.5L362.6 365.3L364.2 365.1L365.7 364.9L367.2 364.5L368.6 364.1L370.1 363.7L371.6 363.2L373.0 362.6L374.4 362.0L375.9 361.2L377.3 360.4L378.6 359.6L380.0 358.6L381.3 357.5L382.5 356.4L383.7 355.2L384.8 354.0L385.8 352.7L386.7 351.4L387.6 350.1L388.4 348.7L389.2 347.3L389.9 345.9L390.5 344.4L391.1 342.9L391.6 341.3L392.0 339.8L392.4 338.2L392.7 336.7L392.9 335.1L393.1 333.4L393.2 331.8L393.2 330.1L393.2 328.3L393.0 326.6L392.8 324.8L392.5 322.9L392.1 321.1L391.5 319.3L391.0 317.7L390.3 316.0L389.6 314.3L388.8 312.7L387.9 311.1L386.9 309.6L385.9 308.1L384.7 306.6L383.5 305.2L382.1 303.8L380.7 302.4L379.1 301.2L377.6 300.1L375.9 299.0L374.3 298.1L372.6 297.2L370.9 296.4L369.2 295.7L367.5 295.1L365.8 294.5L364.0 293.9L362.3 293.5L360.4 293.0L358.5 292.7L356.5 292.4L354.5 292.2L352.7 292.1L350.8 292.0L349.1 292.0L347.4 292.0L345.7 292.0L344.1 292.0L342.5 292.1L341.0 292.1L339.3 292.2L337.4 292.2L335.4 292.4L333.5 292.5L331.5 292.6L329.6 292.8L327.7 293.0L325.9 293.1L324.1 293.3L322.3 293.4L320.6 293.6L319.0 293.7L317.4 293.7L315.7 293.8L314.0 293.8L312.2 293.8L310.5 293.9L308.8 293.9L307.1 293.9L305.5 293.9L303.8 293.8L302.1 293.8L300.5 293.7L298.9 293.7L297.2 293.5L295.6 293.4L293.9 293.3L292.3 293.1L290.6 292.9L288.9 292.7L287.2 292.5L285.6 292.3L283.9 292.0L282.2 291.7L280.5 291.4L278.9 291.1L277.2 290.8L275.6 290.4L273.9 290.1L272.3 289.7L270.6 289.3L268.9 288.8L267.1 288.3L265.4 287.9L263.6 287.3L261.7 286.8L259.9 286.3L258.0 285.7L256.2 285.2L254.5 284.6L252.8 284.1L251.1 283.5L249.3 282.9L247.5 282.2L245.6 281.6L243.6 280.9L241.7 280.2L239.6 279.5L237.5 278.9L235.4 278.2L233.2 277.6L230.9 277.0L228.6 276.5L226.3 276.0L223.9 275.6L221.7 275.1L219.5 274.8L217.3 274.4L215.4 274.1L213.6 273.8L212.1 273.5L210.8 273.3L209.8 273.1Z" fill="none" stroke="#acacac" stroke-width="8" filter="url(#b2)" opacity="0.9"/>
<path d="M204.4 301.4L205.6 301.7L207.0 301.9L208.6 302.2L210.4 302.5L212.3 302.9L214.2 303.3L216.2 303.7L218.2 304.1L220.2 304.5L222.1 304.9L223.9 305.4L225.4 305.8L226.9 306.3L228.5 306.8L230.1 307.4L231.7 308.0L233.4 308.6L235.2 309.3L237.0 310.1L238.9 310.8L240.8 311.6L242.7 312.3L244.7 313.1L246.7 313.8L248.6 314.4L250.4 315.1L252.3 315.8L254.2 316.4L256.1 317.1L258.0 317.8L259.9 318.4L261.9 319.1L263.9 319.7L265.9 320.3L268.0 320.9L270.1 321.5L272.1 322.0L274.1 322.4L276.1 322.9L278.2 323.3L280.2 323.7L282.2 324.1L284.2 324.4L286.2 324.7L288.3 325.0L290.3 325.3L292.3 325.6L294.4 325.8L296.4 326.0L298.5 326.2L300.6 326.3L302.6 326.4L304.6 326.5L306.6 326.6L308.6 326.6L310.6 326.6L312.6 326.6L314.6 326.6L316.5 326.6L318.5 326.5L320.7 326.4L322.8 326.3L324.9 326.1L327.0 325.9L329.0 325.7L331.0 325.5L332.8 325.3L334.6 325.1L336.4 324.9L338.0 324.8L339.5 324.6L341.0 324.5L342.6 324.4L344.3 324.3L345.8 324.1L347.3 324.0L348.7 323.9L349.9 323.8L351.1 323.7L352.1 323.7L353.0 323.6L353.8 323.6L354.6 323.6L355.3 323.6L356.2 323.7L357.1 323.8L358.0 323.9L358.8 324.1L359.6 324.2L360.4 324.4L361.2 324.6L361.8 324.7L362.5 324.9L363.0 325.1L363.5 325.2L363.9 325.3L364.3 325.4L364.7 325.6L365.2 325.8L365.7 326.1L366.2 326.4L366.7 326.7L367.2 327.1L367.6 327.5L368.0 327.8L368.4 328.2L368.7 328.5L368.9 328.8L369.1 329.1L369.3 329.4L369.4 329.8L369.5 330.3L369.6 330.8L369.7 331.5L369.7 332.1L369.7 332.8L369.6 333.4L369.5 334.1L369.5 334.7L369.4 335.2L369.3 335.7L369.1 336.2L368.9 336.8L368.7 337.4L368.5 337.9L368.2 338.5L367.9 339.0L367.6 339.6L367.2 340.0L366.9 340.5L366.6 340.8L366.4 341.2L366.1 341.4L365.8 341.8L365.4 342.1L364.9 342.5L364.4 342.8L363.8 343.2L363.3 343.5L362.7 343.8L362.1 344.1L361.5 344.3L360.9 344.5L360.4 344.6L360.0 344.7L359.6 344.8L359.1 344.9L358.5 344.9L357.9 344.9L357.2 344.9L356.5 344.8L355.8 344.8L355.1 344.6L354.4 344.5L353.7 344.4L353.0 344.2L352.4 344.1L351.9 343.9L351.4 343.8L350.8 343.5L350.2 343.3L349.7 343.0L349.1 342.8L348.5 342.4L347.9 342.1L347.3 341.8L346.6 341.4L346.0 341.0L345.5 340.7L344.9 340.3L344.3 339.9L343.6 339.4L343.0 338.9L342.4 338.4L341.7 337.9L341.1 337.4L340.5 336.8L339.9 336.3L339.3 335.8L338.8 335.4L338.3 335.1L337.8 334.7L337.2 334.1L336.6 333.6L336.0 332.9L335.3 332.3L334.7 331.6L334.2 330.9L333.6 330.3L333.1 329.7L332.7 329.1L332.3 328.7L324.9 331.5L324.9 331.9L324.8 332.5L324.8 333.2L324.7 334.1L324.7 335.0L324.7 336.1L324.7 337.2L324.8 338.3L325.0 339.6L325.2 340.8L325.5 342.1L326.0 343.3L326.4 344.5L326.9 345.5L327.5 346.6L328.1 347.6L328.7 348.6L329.4 349.7L330.1 350.7L330.8 351.7L331.6 352.7L332.5 353.6L333.4 354.6L334.2 355.4L335.1 356.3L336.0 357.1L337.0 357.8L338.0 358.6L339.0 359.3L340.0 359.9L341.1 360.6L342.3 361.2L343.5 361.8L344.7 362.4L346.0 362.9L347.2 363.3L348.4 363.7L349.7 364.1L350.9 364.4L352.2 364.7L353.6 365.0L355.0 365.2L356.4 365.3L357.9 365.4L359.4 365.5L361.0 365.5L362.6 365.3L364.2 365.1L365.7 364.9L367.2 364.5L368.6 364.1L370.1 363.7L371.6 363.2L373.0 362.6L374.4 362.0L375.9 361.2L377.3 360.4L378.6 359.6L380.0 358.6L381.3 357.5L382.5 356.4L383.7 355.2L384.8 354.0L385.8 352.7L386.7 351.4L387.6 350.1L388.4 348.7L389.2 347.3L389.9 345.9L390.5 344.4L391.1 342.9L391.6 341.3L392.0 339.8L392.4 338.2L392.7 336.7L392.9 335.1L393.1 333.4L393.2 331.8L393.2 330.1L393.2 328.3L393.0 326.6L392.8 324.8L392.5 322.9L392.1 321.1L391.5 319.3L391.0 317.7L390.3 316.0L389.6 314.3L388.8 312.7L387.9 311.1L386.9 309.6L385.9 308.1L384.7 306.6L383.5 305.2L382.1 303.8L380.7 302.4L379.1 301.2L377.6 300.1L375.9 299.0L374.3 298.1L372.6 297.2L370.9 296.4L369.2 295.7L367.5 295.1L365.8 294.5L364.0 293.9L362.3 293.5L360.4 293.0L358.5 292.7L356.5 292.4L354.5 292.2L352.7 292.1L350.8 292.0L349.1 292.0L347.4 292.0L345.7 292.0L344.1 292.0L342.5 292.1L341.0 292.1L339.3 292.2L337.4 292.2L335.4 292.4L333.5 292.5L331.5 292.6L329.6 292.8L327.7 293.0L325.9 293.1L324.1 293.3L322.3 293.4L320.6 293.6L319.0 293.7L317.4 293.7L315.7 293.8L314.0 293.8L312.2 293.8L310.5 293.9L308.8 293.9L307.1 293.9L305.5 293.9L303.8 293.8L302.1 293.8L300.5 293.7L298.9 293.7L297.2 293.5L295.6 293.4L293.9 293.3L292.3 293.1L290.6 292.9L288.9 292.7L287.2 292.5L285.6 292.3L283.9 292.0L282.2 291.7L280.5 291.4L278.9 291.1L277.2 290.8L275.6 290.4L273.9 290.1L272.3 289.7L270.6 289.3L268.9 288.8L267.1 288.3L265.4 287.9L263.6 287.3L261.7 286.8L259.9 286.3L258.0 285.7L256.2 285.2L254.5 284.6L252.8 284.1L251.1 283.5L249.3 282.9L247.5 282.2L245.6 281.6L243.6 280.9L241.7 280.2L239.6 279.5L237.5 278.9L235.4 278.2L233.2 277.6L230.9 277.0L228.6 276.5L226.3 276.0L223.9 275.6L221.7 275.1L219.5 274.8L217.3 274.4L215.4 274.1L213.6 273.8L212.1 273.5L210.8 273.3L209.8 273.1Z" fill="#838383"/>
<clipPath id="cw2"><path d="M204.4 301.4L205.6 301.7L207.0 301.9L208.6 302.2L210.4 302.5L212.3 302.9L214.2 303.3L216.2 303.7L218.2 304.1L220.2 304.5L222.1 304.9L223.9 305.4L225.4 305.8L226.9 306.3L228.5 306.8L230.1 307.4L231.7 308.0L233.4 308.6L235.2 309.3L237.0 310.1L238.9 310.8L240.8 311.6L242.7 312.3L244.7 313.1L246.7 313.8L248.6 314.4L250.4 315.1L252.3 315.8L254.2 316.4L256.1 317.1L258.0 317.8L259.9 318.4L261.9 319.1L263.9 319.7L265.9 320.3L268.0 320.9L270.1 321.5L272.1 322.0L274.1 322.4L276.1 322.9L278.2 323.3L280.2 323.7L282.2 324.1L284.2 324.4L286.2 324.7L288.3 325.0L290.3 325.3L292.3 325.6L294.4 325.8L296.4 326.0L298.5 326.2L300.6 326.3L302.6 326.4L304.6 326.5L306.6 326.6L308.6 326.6L310.6 326.6L312.6 326.6L314.6 326.6L316.5 326.6L318.5 326.5L320.7 326.4L322.8 326.3L324.9 326.1L327.0 325.9L329.0 325.7L331.0 325.5L332.8 325.3L334.6 325.1L336.4 324.9L338.0 324.8L339.5 324.6L341.0 324.5L342.6 324.4L344.3 324.3L345.8 324.1L347.3 324.0L348.7 323.9L349.9 323.8L351.1 323.7L352.1 323.7L353.0 323.6L353.8 323.6L354.6 323.6L355.3 323.6L356.2 323.7L357.1 323.8L358.0 323.9L358.8 324.1L359.6 324.2L360.4 324.4L361.2 324.6L361.8 324.7L362.5 324.9L363.0 325.1L363.5 325.2L363.9 325.3L364.3 325.4L364.7 325.6L365.2 325.8L365.7 326.1L366.2 326.4L366.7 326.7L367.2 327.1L367.6 327.5L368.0 327.8L368.4 328.2L368.7 328.5L368.9 328.8L369.1 329.1L369.3 329.4L369.4 329.8L369.5 330.3L369.6 330.8L369.7 331.5L369.7 332.1L369.7 332.8L369.6 333.4L369.5 334.1L369.5 334.7L369.4 335.2L369.3 335.7L369.1 336.2L368.9 336.8L368.7 337.4L368.5 337.9L368.2 338.5L367.9 339.0L367.6 339.6L367.2 340.0L366.9 340.5L366.6 340.8L366.4 341.2L366.1 341.4L365.8 341.8L365.4 342.1L364.9 342.5L364.4 342.8L363.8 343.2L363.3 343.5L362.7 343.8L362.1 344.1L361.5 344.3L360.9 344.5L360.4 344.6L360.0 344.7L359.6 344.8L359.1 344.9L358.5 344.9L357.9 344.9L357.2 344.9L356.5 344.8L355.8 344.8L355.1 344.6L354.4 344.5L353.7 344.4L353.0 344.2L352.4 344.1L351.9 343.9L351.4 343.8L350.8 343.5L350.2 343.3L349.7 343.0L349.1 342.8L348.5 342.4L347.9 342.1L347.3 341.8L346.6 341.4L346.0 341.0L345.5 340.7L344.9 340.3L344.3 339.9L343.6 339.4L343.0 338.9L342.4 338.4L341.7 337.9L341.1 337.4L340.5 336.8L339.9 336.3L339.3 335.8L338.8 335.4L338.3 335.1L337.8 334.7L337.2 334.1L336.6 333.6L336.0 332.9L335.3 332.3L334.7 331.6L334.2 330.9L333.6 330.3L333.1 329.7L332.7 329.1L332.3 328.7L324.9 331.5L324.9 331.9L324.8 332.5L324.8 333.2L324.7 334.1L324.7 335.0L324.7 336.1L324.7 337.2L324.8 338.3L325.0 339.6L325.2 340.8L325.5 342.1L326.0 343.3L326.4 344.5L326.9 345.5L327.5 346.6L328.1 347.6L328.7 348.6L329.4 349.7L330.1 350.7L330.8 351.7L331.6 352.7L332.5 353.6L333.4 354.6L334.2 355.4L335.1 356.3L336.0 357.1L337.0 357.8L338.0 358.6L339.0 359.3L340.0 359.9L341.1 360.6L342.3 361.2L343.5 361.8L344.7 362.4L346.0 362.9L347.2 363.3L348.4 363.7L349.7 364.1L350.9 364.4L352.2 364.7L353.6 365.0L355.0 365.2L356.4 365.3L357.9 365.4L359.4 365.5L361.0 365.5L362.6 365.3L364.2 365.1L365.7 364.9L367.2 364.5L368.6 364.1L370.1 363.7L371.6 363.2L373.0 362.6L374.4 362.0L375.9 361.2L377.3 360.4L378.6 359.6L380.0 358.6L381.3 357.5L382.5 356.4L383.7 355.2L384.8 354.0L385.8 352.7L386.7 351.4L387.6 350.1L388.4 348.7L389.2 347.3L389.9 345.9L390.5 344.4L391.1 342.9L391.6 341.3L392.0 339.8L392.4 338.2L392.7 336.7L392.9 335.1L393.1 333.4L393.2 331.8L393.2 330.1L393.2 328.3L393.0 326.6L392.8 324.8L392.5 322.9L392.1 321.1L391.5 319.3L391.0 317.7L390.3 316.0L389.6 314.3L388.8 312.7L387.9 311.1L386.9 309.6L385.9 308.1L384.7 306.6L383.5 305.2L382.1 303.8L380.7 302.4L379.1 301.2L377.6 300.1L375.9 299.0L374.3 298.1L372.6 297.2L370.9 296.4L369.2 295.7L367.5 295.1L365.8 294.5L364.0 293.9L362.3 293.5L360.4 293.0L358.5 292.7L356.5 292.4L354.5 292.2L352.7 292.1L350.8 292.0L349.1 292.0L347.4 292.0L345.7 292.0L344.1 292.0L342.5 292.1L341.0 292.1L339.3 292.2L337.4 292.2L335.4 292.4L333.5 292.5L331.5 292.6L329.6 292.8L327.7 293.0L325.9 293.1L324.1 293.3L322.3 293.4L320.6 293.6L319.0 293.7L317.4 293.7L315.7 293.8L314.0 293.8L312.2 293.8L310.5 293.9L308.8 293.9L307.1 293.9L305.5 293.9L303.8 293.8L302.1 293.8L300.5 293.7L298.9 293.7L297.2 293.5L295.6 293.4L293.9 293.3L292.3 293.1L290.6 292.9L288.9 292.7L287.2 292.5L285.6 292.3L283.9 292.0L282.2 291.7L280.5 291.4L278.9 291.1L277.2 290.8L275.6 290.4L273.9 290.1L272.3 289.7L270.6 289.3L268.9 288.8L267.1 288.3L265.4 287.9L263.6 287.3L261.7 286.8L259.9 286.3L258.0 285.7L256.2 285.2L254.5 284.6L252.8 284.1L251.1 283.5L249.3 282.9L247.5 282.2L245.6 281.6L243.6 280.9L241.7 280.2L239.6 279.5L237.5 278.9L235.4 278.2L233.2 277.6L230.9 277.0L228.6 276.5L226.3 276.0L223.9 275.6L221.7 275.1L219.5 274.8L217.3 274.4L215.4 274.1L213.6 273.8L212.1 273.5L210.8 273.3L209.8 273.1Z"/></clipPath>
<g clip-path="url(#cw2)">
<g mask="url(#mk2)"><rect x="217.9" y="226" width="175.1" height="176" filter="url(#grain)" opacity="0.42"/></g>
<path d="M216.0 283.4L217.7 283.8L220.0 284.4L222.7 285.0L225.7 285.7L228.9 286.5L232.1 287.3L235.2 288.1L238.2 288.9L240.9 289.7L243.7 290.5L246.5 291.4L249.3 292.3L252.0 293.1L254.8 294.0L257.6 294.8L260.3 295.6L263.3 296.4L266.4 297.2L269.6 298.0L272.8 298.8L275.8 299.5L278.5 300.1L280.8 300.7L282.5 301.1" fill="none" stroke="#9a9a9a" stroke-width="0.7" opacity="0.5" filter="url(#b05)"/>
<path d="M216.0 288.4L217.7 288.8L220.0 289.4L222.7 290.0L225.7 290.7L228.9 291.5L232.1 292.3L235.2 293.1L238.2 293.9L240.9 294.7L243.7 295.5L246.5 296.4L249.3 297.3L252.0 298.1L254.8 299.0L257.6 299.8L260.3 300.6L263.3 301.4L266.4 302.2L269.6 303.0L272.8 303.8L275.8 304.5L278.5 305.1L280.8 305.7L282.5 306.1" fill="none" stroke="#9a9a9a" stroke-width="0.7" opacity="0.5" filter="url(#b05)"/>
<path d="M216.0 293.4L217.7 293.8L220.0 294.4L222.7 295.0L225.7 295.7L228.9 296.5L232.1 297.3L235.2 298.1L238.2 298.9L240.9 299.7L243.7 300.5L246.5 301.4L249.3 302.3L252.0 303.1L254.8 304.0L257.6 304.8L260.3 305.6L263.3 306.4L266.4 307.2L269.6 308.0L272.8 308.8L275.8 309.5L278.5 310.1L280.8 310.7L282.5 311.1" fill="none" stroke="#9a9a9a" stroke-width="0.7" opacity="0.5" filter="url(#b05)"/>
<rect x="217.9" y="226" width="175.1" height="176" filter="url(#grainD)" opacity="0.07"/>
<path d="M204.4 301.4L205.6 301.7L207.0 301.9L208.6 302.2L210.4 302.5L212.3 302.9L214.2 303.3L216.2 303.7L218.2 304.1L220.2 304.5L222.1 304.9L223.9 305.4L225.4 305.8L226.9 306.3L228.5 306.8L230.1 307.4L231.7 308.0L233.4 308.6L235.2 309.3L237.0 310.1L238.9 310.8L240.8 311.6L242.7 312.3L244.7 313.1L246.7 313.8L248.6 314.4L250.4 315.1L252.3 315.8L254.2 316.4L256.1 317.1L258.0 317.8L259.9 318.4L261.9 319.1L263.9 319.7L265.9 320.3L268.0 320.9L270.1 321.5L272.1 322.0L274.1 322.4L276.1 322.9L278.2 323.3L280.2 323.7L282.2 324.1L284.2 324.4L286.2 324.7L288.3 325.0L290.3 325.3L292.3 325.6L294.4 325.8L296.4 326.0L298.5 326.2L300.6 326.3L302.6 326.4L304.6 326.5L306.6 326.6L308.6 326.6L310.6 326.6L312.6 326.6L314.6 326.6L316.5 326.6L318.5 326.5L320.7 326.4L322.8 326.3L324.9 326.1L327.0 325.9L329.0 325.7L331.0 325.5L332.8 325.3L334.6 325.1L336.4 324.9L338.0 324.8L339.5 324.6L341.0 324.5L342.6 324.4L344.3 324.3L345.8 324.1L347.3 324.0L348.7 323.9L349.9 323.8L351.1 323.7L352.1 323.7L353.0 323.6L353.8 323.6L354.6 323.6L355.3 323.6L356.2 323.7L357.1 323.8L358.0 323.9L358.8 324.1L359.6 324.2L360.4 324.4L361.2 324.6L361.8 324.7L362.5 324.9L363.0 325.1L363.5 325.2L363.9 325.3L364.3 325.4L364.7 325.6L365.2 325.8L365.7 326.1L366.2 326.4L366.7 326.7L367.2 327.1L367.6 327.5L368.0 327.8L368.4 328.2L368.7 328.5L368.9 328.8L369.1 329.1L369.3 329.4L369.4 329.8L369.5 330.3L369.6 330.8L369.7 331.5L369.7 332.1L369.7 332.8L369.6 333.4L369.5 334.1L369.5 334.7L369.4 335.2L369.3 335.7L369.1 336.2L368.9 336.8L368.7 337.4L368.5 337.9L368.2 338.5L367.9 339.0L367.6 339.6L367.2 340.0L366.9 340.5L366.6 340.8L366.4 341.2L366.1 341.4L365.8 341.8L365.4 342.1L364.9 342.5L364.4 342.8L363.8 343.2L363.3 343.5L362.7 343.8L362.1 344.1L361.5 344.3L360.9 344.5L360.4 344.6L360.0 344.7L359.6 344.8L359.1 344.9L358.5 344.9L357.9 344.9L357.2 344.9L356.5 344.8L355.8 344.8L355.1 344.6L354.4 344.5L353.7 344.4L353.0 344.2L352.4 344.1L351.9 343.9L351.4 343.8L350.8 343.5L350.2 343.3L349.7 343.0L349.1 342.8L348.5 342.4L347.9 342.1L347.3 341.8L346.6 341.4L346.0 341.0L345.5 340.7L344.9 340.3L344.3 339.9L343.6 339.4L343.0 338.9L342.4 338.4L341.7 337.9L341.1 337.4L340.5 336.8L339.9 336.3L339.3 335.8L338.8 335.4L338.3 335.1L337.8 334.7L337.2 334.1L336.6 333.6L336.0 332.9L335.3 332.3L334.7 331.6L334.2 330.9L333.6 330.3L333.1 329.7L332.7 329.1L332.3 328.7L324.9 331.5L324.9 331.9L324.8 332.5L324.8 333.2L324.7 334.1L324.7 335.0L324.7 336.1L324.7 337.2L324.8 338.3L325.0 339.6L325.2 340.8L325.5 342.1L326.0 343.3L326.4 344.5L326.9 345.5L327.5 346.6L328.1 347.6L328.7 348.6L329.4 349.7L330.1 350.7L330.8 351.7L331.6 352.7L332.5 353.6L333.4 354.6L334.2 355.4L335.1 356.3L336.0 357.1L337.0 357.8L338.0 358.6L339.0 359.3L340.0 359.9L341.1 360.6L342.3 361.2L343.5 361.8L344.7 362.4L346.0 362.9L347.2 363.3L348.4 363.7L349.7 364.1L350.9 364.4L352.2 364.7L353.6 365.0L355.0 365.2L356.4 365.3L357.9 365.4L359.4 365.5L361.0 365.5L362.6 365.3L364.2 365.1L365.7 364.9L367.2 364.5L368.6 364.1L370.1 363.7L371.6 363.2L373.0 362.6L374.4 362.0L375.9 361.2L377.3 360.4L378.6 359.6L380.0 358.6L381.3 357.5L382.5 356.4L383.7 355.2L384.8 354.0L385.8 352.7L386.7 351.4L387.6 350.1L388.4 348.7L389.2 347.3L389.9 345.9L390.5 344.4L391.1 342.9L391.6 341.3L392.0 339.8L392.4 338.2L392.7 336.7L392.9 335.1L393.1 333.4L393.2 331.8L393.2 330.1L393.2 328.3L393.0 326.6L392.8 324.8L392.5 322.9L392.1 321.1L391.5 319.3L391.0 317.7L390.3 316.0L389.6 314.3L388.8 312.7L387.9 311.1L386.9 309.6L385.9 308.1L384.7 306.6L383.5 305.2L382.1 303.8L380.7 302.4L379.1 301.2L377.6 300.1L375.9 299.0L374.3 298.1L372.6 297.2L370.9 296.4L369.2 295.7L367.5 295.1L365.8 294.5L364.0 293.9L362.3 293.5L360.4 293.0L358.5 292.7L356.5 292.4L354.5 292.2L352.7 292.1L350.8 292.0L349.1 292.0L347.4 292.0L345.7 292.0L344.1 292.0L342.5 292.1L341.0 292.1L339.3 292.2L337.4 292.2L335.4 292.4L333.5 292.5L331.5 292.6L329.6 292.8L327.7 293.0L325.9 293.1L324.1 293.3L322.3 293.4L320.6 293.6L319.0 293.7L317.4 293.7L315.7 293.8L314.0 293.8L312.2 293.8L310.5 293.9L308.8 293.9L307.1 293.9L305.5 293.9L303.8 293.8L302.1 293.8L300.5 293.7L298.9 293.7L297.2 293.5L295.6 293.4L293.9 293.3L292.3 293.1L290.6 292.9L288.9 292.7L287.2 292.5L285.6 292.3L283.9 292.0L282.2 291.7L280.5 291.4L278.9 291.1L277.2 290.8L275.6 290.4L273.9 290.1L272.3 289.7L270.6 289.3L268.9 288.8L267.1 288.3L265.4 287.9L263.6 287.3L261.7 286.8L259.9 286.3L258.0 285.7L256.2 285.2L254.5 284.6L252.8 284.1L251.1 283.5L249.3 282.9L247.5 282.2L245.6 281.6L243.6 280.9L241.7 280.2L239.6 279.5L237.5 278.9L235.4 278.2L233.2 277.6L230.9 277.0L228.6 276.5L226.3 276.0L223.9 275.6L221.7 275.1L219.5 274.8L217.3 274.4L215.4 274.1L213.6 273.8L212.1 273.5L210.8 273.3L209.8 273.1Z" fill="none" stroke="#585858" stroke-width="1.5" filter="url(#b05)" opacity="0.85"/>
</g>
<path d="M333.0 326.5L334.2 326.1L335.7 325.6L337.5 324.9L339.5 324.2L341.6 323.5L343.8 322.9L345.9 322.4L347.9 322.1L349.9 321.9L352.0 321.9L354.1 321.9L356.2 322.0L358.3 322.2L360.2 322.5L361.9 322.9L363.4 323.4L364.7 324.0L365.9 324.7L366.9 325.6L367.8 326.5L368.5 327.5L369.0 328.5L369.3 329.5L369.4 330.5L369.3 331.5L368.9 332.7L368.4 333.9L367.6 335.0L366.7 336.2L365.7 337.3L364.6 338.2L363.4 338.9L362.1 339.5L360.5 340.0L358.8 340.4L357.0 340.7L355.2 340.8L353.4 340.9L351.7 340.9L350.1 340.7L348.6 340.3L347.1 339.7L345.5 339.0L344.1 338.2L342.7 337.3L341.5 336.5L340.5 335.8L339.7 335.4" fill="none" stroke="#9c9c9c" stroke-width="2.2" filter="url(#b05)"/>
<path d="M333.0 326.5L334.2 326.1L335.7 325.6L337.5 324.9L339.5 324.2L341.6 323.5L343.8 322.9L345.9 322.4L347.9 322.1L349.9 321.9L352.0 321.9L354.1 321.9L356.2 322.0L358.3 322.2L360.2 322.5L361.9 322.9L363.4 323.4L364.7 324.0L365.9 324.7L366.9 325.6L367.8 326.5L368.5 327.5L369.0 328.5L369.3 329.5L369.4 330.5L369.3 331.5L368.9 332.7L368.4 333.9L367.6 335.0L366.7 336.2L365.7 337.3L364.6 338.2L363.4 338.9L362.1 339.5L360.5 340.0L358.8 340.4L357.0 340.7L355.2 340.8L353.4 340.9L351.7 340.9L350.1 340.7L348.6 340.3L347.1 339.7L345.5 339.0L344.1 338.2L342.7 337.3L341.5 336.5L340.5 335.8L339.7 335.4" fill="none" stroke="#555" stroke-width="0.8" transform="translate(0,1.6)" filter="url(#b05)"/>
<ellipse cx="354.0" cy="330.5" rx="8" ry="5" transform="rotate(0 354.0 330.5)" fill="#8c8c8c" opacity="0.7" filter="url(#b1)"/>
<ellipse cx="282.2" cy="313.6" rx="2.0" ry="3.3" transform="rotate(-20 282.2 313.6)" fill="#ff4a48" opacity="0.95" filter="url(#b05)"/>
<ellipse cx="324.2" cy="331.6" rx="3.0" ry="3.3" transform="rotate(0 324.2 331.6)" fill="#ff4545" opacity="0.95" filter="url(#b05)"/>
<ellipse cx="328.5" cy="335.0" rx="1.6" ry="1.6" transform="rotate(0 328.5 335.0)" fill="#f06060" opacity="0.8" filter="url(#b05)"/>
<ellipse cx="289.3" cy="303.5" rx="1.5" ry="2.2" transform="rotate(0 289.3 303.5)" fill="#f06060" opacity="0.8" filter="url(#b05)"/>
<ellipse cx="262.0" cy="303.0" rx="3.2" ry="7.5" transform="rotate(10 262.0 303.0)" fill="#d0d0d0" opacity="0.75" filter="url(#b1)"/>
<ellipse cx="264.5" cy="295.0" rx="1.6" ry="1.3" transform="rotate(0 264.5 295.0)" fill="#f08080" opacity="0.8" filter="url(#b05)"/>
<ellipse cx="262.5" cy="309.5" rx="1.4" ry="1.4" transform="rotate(0 262.5 309.5)" fill="#f08888" opacity="0.7" filter="url(#b05)"/>
<ellipse cx="309.0" cy="297.5" rx="2" ry="1" transform="rotate(10 309.0 297.5)" fill="#e07878" opacity="0.6" filter="url(#b08)"/>
<ellipse cx="335.0" cy="353.0" rx="3" ry="1.2" transform="rotate(40 335.0 353.0)" fill="#d87070" opacity="0.6" filter="url(#b08)"/>
<circle cx="314.8" cy="249.3" r="1.2" fill="#111"/>
<circle cx="268" cy="244" r="0.6" fill="#555" opacity="0.8"/>
<circle cx="330" cy="283" r="0.6" fill="#555" opacity="0.8"/>
<circle cx="238" cy="310" r="0.6" fill="#555" opacity="0.8"/>
<circle cx="290" cy="340" r="0.6" fill="#555" opacity="0.8"/>
<circle cx="255" cy="352" r="0.6" fill="#555" opacity="0.8"/>
<circle cx="300" cy="380" r="0.6" fill="#555" opacity="0.8"/>
<circle cx="360" cy="262" r="0.6" fill="#555" opacity="0.8"/>
<circle cx="250" cy="370" r="0.6" fill="#555" opacity="0.8"/>
<rect x="348.5" y="395" width="41.2" height="3.5" fill="#fff"/>
</svg>
<svg x="416.2" y="46.2" width="117.8" height="116.3" viewBox="416.2 46.2 117.8 116.3" overflow="hidden">
<rect x="416.2" y="46.2" width="117.8" height="116.3" fill="#020300"/>
<ellipse cx="488.3" cy="67.7" rx="5.6" ry="1.9" transform="rotate(18 488.3 67.7)" fill="#22f01e" opacity="1" filter="url(#b05)"/>
<ellipse cx="508.7" cy="87.4" rx="1.9" ry="6.2" transform="rotate(-8 508.7 87.4)" fill="#22f01e" opacity="1" filter="url(#b05)"/>
<ellipse cx="457.2" cy="87.2" rx="2.2" ry="4.6" transform="rotate(5 457.2 87.2)" fill="#1c9a1c" opacity="0.85" filter="url(#b08)"/>
<ellipse cx="480.0" cy="90.0" rx="14" ry="10" transform="rotate(0 480.0 90.0)" fill="#0a3008" opacity="0.15" filter="url(#b4)"/>
</svg>
<text x="418.4" y="148.2" font-size="10.5" font-weight="bold" font-style="italic" text-anchor="start" fill="#f4f4f4" >sra-6p::yfp;</text>
<text x="418.4" y="159.6" font-size="10.5" font-weight="bold" font-style="italic" text-anchor="start" fill="#f4f4f4" >unc-122p::gfp</text>
<svg x="536.2" y="46.2" width="117.8" height="116.3" viewBox="536.2 46.2 117.8 116.3" overflow="hidden">
<rect x="536.2" y="46.2" width="117.8" height="116.3" fill="url(#redbg)"/>
<path d="M596.6 71.0L597.3 70.9L598.1 70.8L599.2 70.7L600.3 70.6L601.5 70.5L602.7 70.4L603.9 70.4L605.0 70.5L606.0 70.6L607.0 70.8L608.1 71.1L609.1 71.3L610.1 71.7L611.0 72.1L612.0 72.5L613.0 73.0L614.0 73.6L615.0 74.2L616.0 74.9L616.9 75.7L617.9 76.4L618.8 77.3L619.7 78.1L620.5 79.0L621.3 79.9L622.0 80.8L622.7 81.8L623.3 82.8L624.0 83.8L624.5 84.9L625.0 85.9L625.5 87.0L625.9 88.1L626.3 89.2L626.6 90.3L626.9 91.4L627.2 92.6L627.4 93.7L627.5 94.9L627.5 96.0L627.5 97.1L627.4 98.3L627.2 99.5L627.0 100.7L626.7 101.8L626.3 102.9L625.9 104.0L625.5 105.0L625.0 105.9L624.4 106.8L623.8 107.7L623.1 108.5L622.4 109.3L621.6 110.1L620.8 110.8L620.0 111.5L619.1 112.2L618.2 112.8L617.2 113.4L616.2 114.0L615.1 114.6L614.1 115.1L613.0 115.6L612.0 116.0L611.0 116.4L610.0 116.8L609.0 117.1L608.0 117.4L607.0 117.6L606.0 117.8L605.0 117.9L604.0 118.0L603.0 118.0L602.0 118.0L601.1 117.9L600.1 117.8L599.1 117.5L598.2 117.3L597.3 116.9L596.5 116.5L595.7 116.0L594.9 115.4L594.1 114.7L593.4 113.9L592.7 113.1L592.1 112.3L591.5 111.4L591.0 110.5L590.6 109.5L590.2 108.5L589.8 107.4L589.5 106.3L589.3 105.2L589.1 104.1L589.0 103.0L589.0 102.0L589.0 101.0L589.1 100.1L589.3 99.2L589.6 98.4L589.9 97.5L590.2 96.7L590.6 95.8L591.0 95.0L591.5 94.1L592.2 93.2L592.9 92.2L593.6 91.3L594.4 90.4L595.0 89.7L595.6 89.0L596.0 88.5" fill="none" stroke="#8a0606" stroke-width="6" filter="url(#b2)" opacity="0.35"/>
<g filter="url(#b05)">
<circle cx="614.0" cy="72.5" r="0.92" fill="#dc1618" opacity="0.90"/>
<circle cx="623.0" cy="103.8" r="0.62" fill="#dc1618" opacity="0.50"/>
<circle cx="623.3" cy="93.3" r="0.88" fill="#dc1618" opacity="0.87"/>
<circle cx="601.0" cy="70.4" r="0.70" fill="#dc1618" opacity="0.67"/>
<circle cx="626.1" cy="89.1" r="0.97" fill="#dc1618" opacity="0.50"/>
<circle cx="607.0" cy="67.2" r="0.78" fill="#dc1618" opacity="0.63"/>
<circle cx="627.6" cy="108.1" r="0.91" fill="#dc1618" opacity="0.53"/>
<circle cx="619.3" cy="74.2" r="0.88" fill="#dc1618" opacity="0.80"/>
<circle cx="613.9" cy="109.9" r="0.78" fill="#dc1618" opacity="0.65"/>
<circle cx="623.4" cy="90.6" r="0.68" fill="#dc1618" opacity="0.68"/>
<circle cx="629.1" cy="94.7" r="0.92" fill="#dc1618" opacity="0.56"/>
<circle cx="627.2" cy="110.0" r="0.76" fill="#dc1618" opacity="0.73"/>
<circle cx="625.2" cy="86.7" r="0.59" fill="#dc1618" opacity="0.64"/>
<circle cx="627.6" cy="88.0" r="0.55" fill="#dc1618" opacity="0.52"/>
<circle cx="613.0" cy="76.3" r="0.84" fill="#dc1618" opacity="0.86"/>
<circle cx="621.9" cy="79.1" r="0.80" fill="#dc1618" opacity="0.85"/>
<circle cx="624.9" cy="107.1" r="0.62" fill="#dc1618" opacity="0.72"/>
<circle cx="624.5" cy="100.8" r="0.92" fill="#dc1618" opacity="0.52"/>
<circle cx="620.4" cy="81.7" r="0.70" fill="#dc1618" opacity="0.85"/>
<circle cx="610.0" cy="76.2" r="0.63" fill="#dc1618" opacity="0.88"/>
<circle cx="619.3" cy="107.8" r="0.95" fill="#dc1618" opacity="0.64"/>
<circle cx="610.9" cy="75.6" r="0.79" fill="#dc1618" opacity="0.84"/>
<circle cx="628.2" cy="84.3" r="0.86" fill="#dc1618" opacity="0.65"/>
<circle cx="607.8" cy="75.6" r="0.82" fill="#dc1618" opacity="0.84"/>
<circle cx="617.2" cy="114.7" r="0.91" fill="#dc1618" opacity="0.55"/>
<circle cx="612.3" cy="68.2" r="0.72" fill="#dc1618" opacity="0.55"/>
<circle cx="608.1" cy="72.7" r="0.66" fill="#dc1618" opacity="0.70"/>
<circle cx="617.9" cy="78.9" r="0.60" fill="#dc1618" opacity="0.80"/>
<circle cx="600.4" cy="71.9" r="0.53" fill="#dc1618" opacity="0.87"/>
<circle cx="627.1" cy="95.5" r="0.59" fill="#dc1618" opacity="0.78"/>
<circle cx="618.6" cy="83.4" r="0.62" fill="#dc1618" opacity="0.56"/>
<circle cx="622.2" cy="85.8" r="0.79" fill="#dc1618" opacity="0.72"/>
<circle cx="602.6" cy="71.2" r="0.66" fill="#dc1618" opacity="0.78"/>
<circle cx="619.9" cy="108.3" r="0.66" fill="#dc1618" opacity="0.58"/>
<circle cx="603.9" cy="68.2" r="0.54" fill="#dc1618" opacity="0.52"/>
<circle cx="627.1" cy="102.7" r="0.85" fill="#dc1618" opacity="0.69"/>
<circle cx="623.7" cy="108.8" r="0.52" fill="#dc1618" opacity="0.67"/>
<circle cx="622.8" cy="78.3" r="0.71" fill="#dc1618" opacity="0.82"/>
<circle cx="628.5" cy="97.2" r="0.98" fill="#dc1618" opacity="0.53"/>
<circle cx="627.5" cy="107.4" r="0.61" fill="#dc1618" opacity="0.68"/>
<circle cx="612.3" cy="114.7" r="0.84" fill="#dc1618" opacity="0.59"/>
<circle cx="625.2" cy="108.3" r="0.98" fill="#dc1618" opacity="0.90"/>
<circle cx="595.9" cy="68.5" r="0.86" fill="#dc1618" opacity="0.53"/>
<circle cx="616.3" cy="71.4" r="0.87" fill="#dc1618" opacity="0.68"/>
<circle cx="606.0" cy="75.1" r="0.84" fill="#dc1618" opacity="0.65"/>
<circle cx="615.5" cy="112.9" r="0.66" fill="#dc1618" opacity="0.60"/>
<circle cx="610.6" cy="75.4" r="0.84" fill="#dc1618" opacity="0.79"/>
<circle cx="611.0" cy="76.4" r="0.81" fill="#dc1618" opacity="0.61"/>
<circle cx="613.9" cy="74.6" r="0.99" fill="#dc1618" opacity="0.58"/>
<circle cx="624.7" cy="91.6" r="0.51" fill="#dc1618" opacity="0.70"/>
<circle cx="600.1" cy="69.6" r="1.00" fill="#dc1618" opacity="0.88"/>
<circle cx="612.6" cy="68.8" r="0.95" fill="#dc1618" opacity="0.64"/>
<circle cx="611.0" cy="72.4" r="0.92" fill="#dc1618" opacity="0.62"/>
<circle cx="628.2" cy="98.5" r="0.90" fill="#dc1618" opacity="0.84"/>
<circle cx="622.0" cy="103.0" r="0.54" fill="#dc1618" opacity="0.86"/>
<circle cx="618.0" cy="72.6" r="0.77" fill="#dc1618" opacity="0.69"/>
<circle cx="628.9" cy="88.4" r="0.82" fill="#dc1618" opacity="0.50"/>
<circle cx="603.6" cy="71.3" r="0.91" fill="#dc1618" opacity="0.64"/>
<circle cx="630.1" cy="90.5" r="0.84" fill="#dc1618" opacity="0.76"/>
<circle cx="614.6" cy="69.1" r="0.63" fill="#dc1618" opacity="0.58"/>
<circle cx="615.0" cy="76.1" r="0.91" fill="#dc1618" opacity="0.58"/>
<circle cx="600.7" cy="72.8" r="0.82" fill="#dc1618" opacity="0.50"/>
<circle cx="626.8" cy="93.8" r="0.90" fill="#dc1618" opacity="0.86"/>
<circle cx="602.5" cy="68.5" r="0.77" fill="#dc1618" opacity="0.86"/>
<circle cx="626.7" cy="86.4" r="0.90" fill="#dc1618" opacity="0.50"/>
<circle cx="629.4" cy="90.1" r="0.69" fill="#dc1618" opacity="0.80"/>
<circle cx="613.2" cy="78.2" r="0.60" fill="#dc1618" opacity="0.90"/>
<circle cx="620.3" cy="114.0" r="0.98" fill="#dc1618" opacity="0.86"/>
<circle cx="620.7" cy="78.5" r="0.91" fill="#dc1618" opacity="0.64"/>
<circle cx="609.0" cy="76.5" r="0.88" fill="#dc1618" opacity="0.89"/>
<circle cx="615.9" cy="78.0" r="0.69" fill="#dc1618" opacity="0.90"/>
<circle cx="626.9" cy="82.7" r="0.82" fill="#dc1618" opacity="0.81"/>
<circle cx="615.0" cy="76.0" r="0.69" fill="#dc1618" opacity="0.69"/>
<circle cx="626.2" cy="78.4" r="0.89" fill="#dc1618" opacity="0.63"/>
<circle cx="624.5" cy="101.2" r="1.00" fill="#dc1618" opacity="0.65"/>
<circle cx="632.1" cy="96.5" r="0.65" fill="#dc1618" opacity="0.83"/>
<circle cx="628.3" cy="104.6" r="0.91" fill="#dc1618" opacity="0.69"/>
<circle cx="602.7" cy="65.6" r="0.67" fill="#dc1618" opacity="0.64"/>
<circle cx="618.0" cy="111.9" r="0.93" fill="#dc1618" opacity="0.80"/>
<circle cx="626.3" cy="93.4" r="0.56" fill="#dc1618" opacity="0.86"/>
<circle cx="613.9" cy="111.2" r="0.65" fill="#dc1618" opacity="0.75"/>
<circle cx="611.2" cy="73.7" r="0.81" fill="#dc1618" opacity="0.76"/>
<circle cx="625.1" cy="110.6" r="0.61" fill="#dc1618" opacity="0.77"/>
<circle cx="622.6" cy="89.2" r="0.92" fill="#dc1618" opacity="0.61"/>
<circle cx="620.7" cy="81.7" r="0.94" fill="#dc1618" opacity="0.76"/>
<circle cx="597.9" cy="75.6" r="0.74" fill="#dc1618" opacity="0.71"/>
<circle cx="620.9" cy="112.6" r="0.68" fill="#dc1618" opacity="0.64"/>
<circle cx="625.5" cy="101.3" r="0.61" fill="#dc1618" opacity="0.81"/>
<circle cx="598.7" cy="74.5" r="0.89" fill="#dc1618" opacity="0.86"/>
<circle cx="605.5" cy="68.5" r="0.64" fill="#dc1618" opacity="0.78"/>
<circle cx="626.4" cy="83.7" r="0.58" fill="#dc1618" opacity="0.75"/>
<circle cx="612.8" cy="70.4" r="0.56" fill="#dc1618" opacity="0.66"/>
<circle cx="610.1" cy="68.8" r="0.54" fill="#dc1618" opacity="0.59"/>
<circle cx="614.1" cy="114.0" r="0.89" fill="#dc1618" opacity="0.87"/>
<circle cx="597.7" cy="70.5" r="0.84" fill="#dc1618" opacity="0.85"/>
<circle cx="592.8" cy="88.6" r="0.53" fill="#d01416" opacity="0.48"/>
<circle cx="591.9" cy="100.8" r="0.57" fill="#d01416" opacity="0.46"/>
<circle cx="587.1" cy="104.2" r="0.64" fill="#d01416" opacity="0.76"/>
<circle cx="591.9" cy="104.7" r="0.54" fill="#d01416" opacity="0.75"/>
<circle cx="589.7" cy="105.2" r="0.88" fill="#d01416" opacity="0.46"/>
<circle cx="596.5" cy="116.6" r="0.59" fill="#d01416" opacity="0.72"/>
<circle cx="588.8" cy="100.9" r="0.76" fill="#d01416" opacity="0.60"/>
<circle cx="595.3" cy="116.6" r="0.68" fill="#d01416" opacity="0.63"/>
<circle cx="593.0" cy="113.2" r="0.70" fill="#d01416" opacity="0.58"/>
<circle cx="612.0" cy="117.5" r="0.65" fill="#d01416" opacity="0.68"/>
<circle cx="589.0" cy="108.1" r="0.49" fill="#d01416" opacity="0.72"/>
<circle cx="610.0" cy="113.9" r="0.63" fill="#d01416" opacity="0.47"/>
<circle cx="592.6" cy="88.5" r="0.53" fill="#d01416" opacity="0.77"/>
<circle cx="586.3" cy="102.1" r="0.81" fill="#d01416" opacity="0.67"/>
<circle cx="601.9" cy="116.5" r="0.50" fill="#d01416" opacity="0.49"/>
<circle cx="589.5" cy="104.6" r="0.69" fill="#d01416" opacity="0.65"/>
<circle cx="590.7" cy="100.4" r="0.74" fill="#d01416" opacity="0.57"/>
<circle cx="589.2" cy="93.4" r="0.50" fill="#d01416" opacity="0.51"/>
<circle cx="595.5" cy="114.4" r="0.76" fill="#d01416" opacity="0.60"/>
<circle cx="597.3" cy="118.9" r="0.76" fill="#d01416" opacity="0.80"/>
<circle cx="588.8" cy="107.1" r="0.57" fill="#d01416" opacity="0.48"/>
<circle cx="591.5" cy="109.6" r="0.86" fill="#d01416" opacity="0.63"/>
<circle cx="603.0" cy="121.5" r="0.46" fill="#d01416" opacity="0.51"/>
<circle cx="590.8" cy="109.7" r="0.64" fill="#d01416" opacity="0.53"/>
<circle cx="592.5" cy="88.8" r="0.75" fill="#d01416" opacity="0.50"/>
<circle cx="596.2" cy="91.8" r="0.52" fill="#d01416" opacity="0.54"/>
<circle cx="592.3" cy="92.4" r="0.45" fill="#d01416" opacity="0.67"/>
<circle cx="593.3" cy="110.7" r="0.51" fill="#d01416" opacity="0.56"/>
<circle cx="596.3" cy="93.6" r="0.72" fill="#d01416" opacity="0.48"/>
<circle cx="595.2" cy="93.4" r="0.61" fill="#d01416" opacity="0.75"/>
<circle cx="588.5" cy="109.5" r="0.61" fill="#d01416" opacity="0.73"/>
<circle cx="592.3" cy="109.9" r="0.54" fill="#d01416" opacity="0.59"/>
<circle cx="594.9" cy="93.1" r="0.69" fill="#d01416" opacity="0.69"/>
<circle cx="609.1" cy="119.5" r="0.68" fill="#d01416" opacity="0.79"/>
<circle cx="604.8" cy="120.6" r="0.45" fill="#d01416" opacity="0.56"/>
<circle cx="588.5" cy="94.6" r="0.81" fill="#d01416" opacity="0.74"/>
<circle cx="608.1" cy="116.6" r="0.59" fill="#d01416" opacity="0.55"/>
<circle cx="595.0" cy="89.4" r="0.60" fill="#d01416" opacity="0.79"/>
<circle cx="592.9" cy="96.2" r="0.74" fill="#d01416" opacity="0.56"/>
<circle cx="596.3" cy="119.6" r="0.59" fill="#d01416" opacity="0.76"/>
<circle cx="594.2" cy="88.0" r="0.60" fill="#d01416" opacity="0.50"/>
<circle cx="589.6" cy="110.6" r="0.63" fill="#d01416" opacity="0.52"/>
<circle cx="601.9" cy="115.2" r="0.47" fill="#d01416" opacity="0.78"/>
<circle cx="590.0" cy="109.3" r="0.79" fill="#d01416" opacity="0.64"/>
<circle cx="590.1" cy="114.0" r="0.50" fill="#d01416" opacity="0.61"/>
<circle cx="589.4" cy="93.4" r="0.54" fill="#d01416" opacity="0.49"/>
<circle cx="589.6" cy="100.8" r="0.47" fill="#d01416" opacity="0.69"/>
<circle cx="593.3" cy="95.1" r="0.76" fill="#d01416" opacity="0.78"/>
<circle cx="607.1" cy="120.2" r="0.55" fill="#d01416" opacity="0.61"/>
<circle cx="586.9" cy="102.4" r="0.52" fill="#d01416" opacity="0.72"/>
<circle cx="588.4" cy="108.3" r="0.60" fill="#d01416" opacity="0.58"/>
<circle cx="591.3" cy="106.2" r="0.65" fill="#d01416" opacity="0.73"/>
<circle cx="591.6" cy="114.0" r="0.55" fill="#d01416" opacity="0.63"/>
<circle cx="587.2" cy="100.2" r="0.72" fill="#d01416" opacity="0.53"/>
<circle cx="592.9" cy="111.0" r="0.71" fill="#d01416" opacity="0.52"/>
</g>
</svg>
<svg x="656.2" y="46.2" width="117.8" height="116.3" viewBox="656.2 46.2 117.8 116.3" overflow="hidden">
<rect x="656.2" y="46.2" width="117.8" height="116.3" fill="url(#redbg)"/>
<path d="M716.6 71.0L717.3 70.9L718.1 70.8L719.2 70.7L720.3 70.6L721.5 70.5L722.7 70.4L723.9 70.4L725.0 70.5L726.0 70.6L727.0 70.8L728.1 71.1L729.1 71.3L730.1 71.7L731.0 72.1L732.0 72.5L733.0 73.0L734.0 73.6L735.0 74.2L736.0 74.9L736.9 75.7L737.9 76.4L738.8 77.3L739.7 78.1L740.5 79.0L741.3 79.9L742.0 80.8L742.7 81.8L743.3 82.8L744.0 83.8L744.5 84.9L745.0 85.9L745.5 87.0L745.9 88.1L746.3 89.2L746.6 90.3L746.9 91.4L747.2 92.6L747.4 93.7L747.5 94.9L747.5 96.0L747.5 97.1L747.4 98.3L747.2 99.5L747.0 100.7L746.7 101.8L746.3 102.9L745.9 104.0L745.5 105.0L745.0 105.9L744.4 106.8L743.8 107.7L743.1 108.5L742.4 109.3L741.6 110.1L740.8 110.8L740.0 111.5L739.1 112.2L738.2 112.8L737.2 113.4L736.2 114.0L735.1 114.6L734.1 115.1L733.0 115.6L732.0 116.0L731.0 116.4L730.0 116.8L729.0 117.1L728.0 117.4L727.0 117.6L726.0 117.8L725.0 117.9L724.0 118.0L723.0 118.0L722.0 118.0L721.1 117.9L720.1 117.8L719.1 117.5L718.2 117.3L717.3 116.9L716.5 116.5L715.7 116.0L714.9 115.4L714.1 114.7L713.4 113.9L712.7 113.1L712.1 112.3L711.5 111.4L711.0 110.5L710.6 109.5L710.2 108.5L709.8 107.4L709.5 106.3L709.3 105.2L709.1 104.1L709.0 103.0L709.0 102.0L709.0 101.0L709.1 100.1L709.3 99.2L709.6 98.4L709.9 97.5L710.2 96.7L710.6 95.8L711.0 95.0L711.5 94.1L712.2 93.2L712.9 92.2L713.6 91.3L714.4 90.4L715.0 89.7L715.6 89.0L716.0 88.5" fill="none" stroke="#8a0606" stroke-width="6" filter="url(#b2)" opacity="0.35"/>
<g filter="url(#b05)">
<circle cx="734.0" cy="72.5" r="0.92" fill="#dc1618" opacity="0.90"/>
<circle cx="743.0" cy="103.8" r="0.62" fill="#dc1618" opacity="0.50"/>
<circle cx="743.3" cy="93.3" r="0.88" fill="#dc1618" opacity="0.87"/>
<circle cx="721.0" cy="70.4" r="0.70" fill="#dc1618" opacity="0.67"/>
<circle cx="746.1" cy="89.1" r="0.97" fill="#dc1618" opacity="0.50"/>
<circle cx="727.0" cy="67.2" r="0.78" fill="#dc1618" opacity="0.63"/>
<circle cx="747.6" cy="108.1" r="0.91" fill="#dc1618" opacity="0.53"/>
<circle cx="739.3" cy="74.2" r="0.88" fill="#dc1618" opacity="0.80"/>
<circle cx="733.9" cy="109.9" r="0.78" fill="#dc1618" opacity="0.65"/>
<circle cx="743.4" cy="90.6" r="0.68" fill="#dc1618" opacity="0.68"/>
<circle cx="749.1" cy="94.7" r="0.92" fill="#dc1618" opacity="0.56"/>
<circle cx="747.2" cy="110.0" r="0.76" fill="#dc1618" opacity="0.73"/>
<circle cx="745.2" cy="86.7" r="0.59" fill="#dc1618" opacity="0.64"/>
<circle cx="747.6" cy="88.0" r="0.55" fill="#dc1618" opacity="0.52"/>
<circle cx="733.0" cy="76.3" r="0.84" fill="#dc1618" opacity="0.86"/>
<circle cx="741.9" cy="79.1" r="0.80" fill="#dc1618" opacity="0.85"/>
<circle cx="744.9" cy="107.1" r="0.62" fill="#dc1618" opacity="0.72"/>
<circle cx="744.5" cy="100.8" r="0.92" fill="#dc1618" opacity="0.52"/>
<circle cx="740.4" cy="81.7" r="0.70" fill="#dc1618" opacity="0.85"/>
<circle cx="730.0" cy="76.2" r="0.63" fill="#dc1618" opacity="0.88"/>
<circle cx="739.3" cy="107.8" r="0.95" fill="#dc1618" opacity="0.64"/>
<circle cx="730.9" cy="75.6" r="0.79" fill="#dc1618" opacity="0.84"/>
<circle cx="748.2" cy="84.3" r="0.86" fill="#dc1618" opacity="0.65"/>
<circle cx="727.8" cy="75.6" r="0.82" fill="#dc1618" opacity="0.84"/>
<circle cx="737.2" cy="114.7" r="0.91" fill="#dc1618" opacity="0.55"/>
<circle cx="732.3" cy="68.2" r="0.72" fill="#dc1618" opacity="0.55"/>
<circle cx="728.1" cy="72.7" r="0.66" fill="#dc1618" opacity="0.70"/>
<circle cx="737.9" cy="78.9" r="0.60" fill="#dc1618" opacity="0.80"/>
<circle cx="720.4" cy="71.9" r="0.53" fill="#dc1618" opacity="0.87"/>
<circle cx="747.1" cy="95.5" r="0.59" fill="#dc1618" opacity="0.78"/>
<circle cx="738.6" cy="83.4" r="0.62" fill="#dc1618" opacity="0.56"/>
<circle cx="742.2" cy="85.8" r="0.79" fill="#dc1618" opacity="0.72"/>
<circle cx="722.6" cy="71.2" r="0.66" fill="#dc1618" opacity="0.78"/>
<circle cx="739.9" cy="108.3" r="0.66" fill="#dc1618" opacity="0.58"/>
<circle cx="723.9" cy="68.2" r="0.54" fill="#dc1618" opacity="0.52"/>
<circle cx="747.1" cy="102.7" r="0.85" fill="#dc1618" opacity="0.69"/>
<circle cx="743.7" cy="108.8" r="0.52" fill="#dc1618" opacity="0.67"/>
<circle cx="742.8" cy="78.3" r="0.71" fill="#dc1618" opacity="0.82"/>
<circle cx="748.5" cy="97.2" r="0.98" fill="#dc1618" opacity="0.53"/>
<circle cx="747.5" cy="107.4" r="0.61" fill="#dc1618" opacity="0.68"/>
<circle cx="732.3" cy="114.7" r="0.84" fill="#dc1618" opacity="0.59"/>
<circle cx="745.2" cy="108.3" r="0.98" fill="#dc1618" opacity="0.90"/>
<circle cx="715.9" cy="68.5" r="0.86" fill="#dc1618" opacity="0.53"/>
<circle cx="736.3" cy="71.4" r="0.87" fill="#dc1618" opacity="0.68"/>
<circle cx="726.0" cy="75.1" r="0.84" fill="#dc1618" opacity="0.65"/>
<circle cx="735.5" cy="112.9" r="0.66" fill="#dc1618" opacity="0.60"/>
<circle cx="730.6" cy="75.4" r="0.84" fill="#dc1618" opacity="0.79"/>
<circle cx="731.0" cy="76.4" r="0.81" fill="#dc1618" opacity="0.61"/>
<circle cx="733.9" cy="74.6" r="0.99" fill="#dc1618" opacity="0.58"/>
<circle cx="744.7" cy="91.6" r="0.51" fill="#dc1618" opacity="0.70"/>
<circle cx="720.1" cy="69.6" r="1.00" fill="#dc1618" opacity="0.88"/>
<circle cx="732.6" cy="68.8" r="0.95" fill="#dc1618" opacity="0.64"/>
<circle cx="731.0" cy="72.4" r="0.92" fill="#dc1618" opacity="0.62"/>
<circle cx="748.2" cy="98.5" r="0.90" fill="#dc1618" opacity="0.84"/>
<circle cx="742.0" cy="103.0" r="0.54" fill="#dc1618" opacity="0.86"/>
<circle cx="738.0" cy="72.6" r="0.77" fill="#dc1618" opacity="0.69"/>
<circle cx="748.9" cy="88.4" r="0.82" fill="#dc1618" opacity="0.50"/>
<circle cx="723.6" cy="71.3" r="0.91" fill="#dc1618" opacity="0.64"/>
<circle cx="750.1" cy="90.5" r="0.84" fill="#dc1618" opacity="0.76"/>
<circle cx="734.6" cy="69.1" r="0.63" fill="#dc1618" opacity="0.58"/>
<circle cx="735.0" cy="76.1" r="0.91" fill="#dc1618" opacity="0.58"/>
<circle cx="720.7" cy="72.8" r="0.82" fill="#dc1618" opacity="0.50"/>
<circle cx="746.8" cy="93.8" r="0.90" fill="#dc1618" opacity="0.86"/>
<circle cx="722.5" cy="68.5" r="0.77" fill="#dc1618" opacity="0.86"/>
<circle cx="746.7" cy="86.4" r="0.90" fill="#dc1618" opacity="0.50"/>
<circle cx="749.4" cy="90.1" r="0.69" fill="#dc1618" opacity="0.80"/>
<circle cx="733.2" cy="78.2" r="0.60" fill="#dc1618" opacity="0.90"/>
<circle cx="740.3" cy="114.0" r="0.98" fill="#dc1618" opacity="0.86"/>
<circle cx="740.7" cy="78.5" r="0.91" fill="#dc1618" opacity="0.64"/>
<circle cx="729.0" cy="76.5" r="0.88" fill="#dc1618" opacity="0.89"/>
<circle cx="735.9" cy="78.0" r="0.69" fill="#dc1618" opacity="0.90"/>
<circle cx="746.9" cy="82.7" r="0.82" fill="#dc1618" opacity="0.81"/>
<circle cx="735.0" cy="76.0" r="0.69" fill="#dc1618" opacity="0.69"/>
<circle cx="746.2" cy="78.4" r="0.89" fill="#dc1618" opacity="0.63"/>
<circle cx="744.5" cy="101.2" r="1.00" fill="#dc1618" opacity="0.65"/>
<circle cx="752.1" cy="96.5" r="0.65" fill="#dc1618" opacity="0.83"/>
<circle cx="748.3" cy="104.6" r="0.91" fill="#dc1618" opacity="0.69"/>
<circle cx="722.7" cy="65.6" r="0.67" fill="#dc1618" opacity="0.64"/>
<circle cx="738.0" cy="111.9" r="0.93" fill="#dc1618" opacity="0.80"/>
<circle cx="746.3" cy="93.4" r="0.56" fill="#dc1618" opacity="0.86"/>
<circle cx="733.9" cy="111.2" r="0.65" fill="#dc1618" opacity="0.75"/>
<circle cx="731.2" cy="73.7" r="0.81" fill="#dc1618" opacity="0.76"/>
<circle cx="745.1" cy="110.6" r="0.61" fill="#dc1618" opacity="0.77"/>
<circle cx="742.6" cy="89.2" r="0.92" fill="#dc1618" opacity="0.61"/>
<circle cx="740.7" cy="81.7" r="0.94" fill="#dc1618" opacity="0.76"/>
<circle cx="717.9" cy="75.6" r="0.74" fill="#dc1618" opacity="0.71"/>
<circle cx="740.9" cy="112.6" r="0.68" fill="#dc1618" opacity="0.64"/>
<circle cx="745.5" cy="101.3" r="0.61" fill="#dc1618" opacity="0.81"/>
<circle cx="718.7" cy="74.5" r="0.89" fill="#dc1618" opacity="0.86"/>
<circle cx="725.5" cy="68.5" r="0.64" fill="#dc1618" opacity="0.78"/>
<circle cx="746.4" cy="83.7" r="0.58" fill="#dc1618" opacity="0.75"/>
<circle cx="732.8" cy="70.4" r="0.56" fill="#dc1618" opacity="0.66"/>
<circle cx="730.1" cy="68.8" r="0.54" fill="#dc1618" opacity="0.59"/>
<circle cx="734.1" cy="114.0" r="0.89" fill="#dc1618" opacity="0.87"/>
<circle cx="717.7" cy="70.5" r="0.84" fill="#dc1618" opacity="0.85"/>
<circle cx="712.8" cy="88.6" r="0.53" fill="#d01416" opacity="0.48"/>
<circle cx="711.9" cy="100.8" r="0.57" fill="#d01416" opacity="0.46"/>
<circle cx="707.1" cy="104.2" r="0.64" fill="#d01416" opacity="0.76"/>
<circle cx="711.9" cy="104.7" r="0.54" fill="#d01416" opacity="0.75"/>
<circle cx="709.7" cy="105.2" r="0.88" fill="#d01416" opacity="0.46"/>
<circle cx="716.5" cy="116.6" r="0.59" fill="#d01416" opacity="0.72"/>
<circle cx="708.8" cy="100.9" r="0.76" fill="#d01416" opacity="0.60"/>
<circle cx="715.3" cy="116.6" r="0.68" fill="#d01416" opacity="0.63"/>
<circle cx="713.0" cy="113.2" r="0.70" fill="#d01416" opacity="0.58"/>
<circle cx="732.0" cy="117.5" r="0.65" fill="#d01416" opacity="0.68"/>
<circle cx="709.0" cy="108.1" r="0.49" fill="#d01416" opacity="0.72"/>
<circle cx="730.0" cy="113.9" r="0.63" fill="#d01416" opacity="0.47"/>
<circle cx="712.6" cy="88.5" r="0.53" fill="#d01416" opacity="0.77"/>
<circle cx="706.3" cy="102.1" r="0.81" fill="#d01416" opacity="0.67"/>
<circle cx="721.9" cy="116.5" r="0.50" fill="#d01416" opacity="0.49"/>
<circle cx="709.5" cy="104.6" r="0.69" fill="#d01416" opacity="0.65"/>
<circle cx="710.7" cy="100.4" r="0.74" fill="#d01416" opacity="0.57"/>
<circle cx="709.2" cy="93.4" r="0.50" fill="#d01416" opacity="0.51"/>
<circle cx="715.5" cy="114.4" r="0.76" fill="#d01416" opacity="0.60"/>
<circle cx="717.3" cy="118.9" r="0.76" fill="#d01416" opacity="0.80"/>
<circle cx="708.8" cy="107.1" r="0.57" fill="#d01416" opacity="0.48"/>
<circle cx="711.5" cy="109.6" r="0.86" fill="#d01416" opacity="0.63"/>
<circle cx="723.0" cy="121.5" r="0.46" fill="#d01416" opacity="0.51"/>
<circle cx="710.8" cy="109.7" r="0.64" fill="#d01416" opacity="0.53"/>
<circle cx="712.5" cy="88.8" r="0.75" fill="#d01416" opacity="0.50"/>
<circle cx="716.2" cy="91.8" r="0.52" fill="#d01416" opacity="0.54"/>
<circle cx="712.3" cy="92.4" r="0.45" fill="#d01416" opacity="0.67"/>
<circle cx="713.3" cy="110.7" r="0.51" fill="#d01416" opacity="0.56"/>
<circle cx="716.3" cy="93.6" r="0.72" fill="#d01416" opacity="0.48"/>
<circle cx="715.2" cy="93.4" r="0.61" fill="#d01416" opacity="0.75"/>
<circle cx="708.5" cy="109.5" r="0.61" fill="#d01416" opacity="0.73"/>
<circle cx="712.3" cy="109.9" r="0.54" fill="#d01416" opacity="0.59"/>
<circle cx="714.9" cy="93.1" r="0.69" fill="#d01416" opacity="0.69"/>
<circle cx="729.1" cy="119.5" r="0.68" fill="#d01416" opacity="0.79"/>
<circle cx="724.8" cy="120.6" r="0.45" fill="#d01416" opacity="0.56"/>
<circle cx="708.5" cy="94.6" r="0.81" fill="#d01416" opacity="0.74"/>
<circle cx="728.1" cy="116.6" r="0.59" fill="#d01416" opacity="0.55"/>
<circle cx="715.0" cy="89.4" r="0.60" fill="#d01416" opacity="0.79"/>
<circle cx="712.9" cy="96.2" r="0.74" fill="#d01416" opacity="0.56"/>
<circle cx="716.3" cy="119.6" r="0.59" fill="#d01416" opacity="0.76"/>
<circle cx="714.2" cy="88.0" r="0.60" fill="#d01416" opacity="0.50"/>
<circle cx="709.6" cy="110.6" r="0.63" fill="#d01416" opacity="0.52"/>
<circle cx="721.9" cy="115.2" r="0.47" fill="#d01416" opacity="0.78"/>
<circle cx="710.0" cy="109.3" r="0.79" fill="#d01416" opacity="0.64"/>
<circle cx="710.1" cy="114.0" r="0.50" fill="#d01416" opacity="0.61"/>
<circle cx="709.4" cy="93.4" r="0.54" fill="#d01416" opacity="0.49"/>
<circle cx="709.6" cy="100.8" r="0.47" fill="#d01416" opacity="0.69"/>
<circle cx="713.3" cy="95.1" r="0.76" fill="#d01416" opacity="0.78"/>
<circle cx="727.1" cy="120.2" r="0.55" fill="#d01416" opacity="0.61"/>
<circle cx="706.9" cy="102.4" r="0.52" fill="#d01416" opacity="0.72"/>
<circle cx="708.4" cy="108.3" r="0.60" fill="#d01416" opacity="0.58"/>
<circle cx="711.3" cy="106.2" r="0.65" fill="#d01416" opacity="0.73"/>
<circle cx="711.6" cy="114.0" r="0.55" fill="#d01416" opacity="0.63"/>
<circle cx="707.2" cy="100.2" r="0.72" fill="#d01416" opacity="0.53"/>
<circle cx="712.9" cy="111.0" r="0.71" fill="#d01416" opacity="0.52"/>
</g>
<ellipse cx="727.7" cy="67.2" rx="5.4" ry="1.9" transform="rotate(18 727.7 67.2)" fill="#35f020" opacity="1" filter="url(#b05)"/>
<ellipse cx="748.2" cy="87.4" rx="1.9" ry="6.2" transform="rotate(-8 748.2 87.4)" fill="#35f020" opacity="1" filter="url(#b05)"/>
<ellipse cx="696.6" cy="87.2" rx="2.2" ry="4.6" transform="rotate(5 696.6 87.2)" fill="#4a8a18" opacity="0.85" filter="url(#b08)"/>
</svg>
<svg x="416.2" y="164.7" width="117.8" height="117.9" viewBox="416.2 164.7 117.8 117.9" overflow="hidden">
<rect x="416.2" y="164.7" width="117.8" height="117.9" fill="#020300"/>
</svg>
<text x="418.4" y="280.7" font-size="10.5" font-weight="bold" font-style="italic" text-anchor="start" fill="#f4f4f4" >nlp-99::mKate2</text>
<svg x="536.2" y="164.7" width="117.8" height="117.9" viewBox="536.2 164.7 117.8 117.9" overflow="hidden">
<rect x="536.2" y="164.7" width="117.8" height="117.9" fill="url(#redbg)"/>
<path d="M572.2 197.2L572.6 196.8L573.1 196.2L573.8 195.6L574.5 194.8L575.4 194.1L576.3 193.3L577.4 192.5L578.7 191.8L580.2 191.1L581.8 190.4L583.7 189.6L585.6 188.9L587.7 188.2L589.7 187.5L591.7 186.9L593.6 186.4L595.5 186.0L597.3 185.7L599.1 185.4L600.9 185.2L602.7 185.0L604.6 184.8L606.5 184.7L608.5 184.7L610.6 184.6L612.9 184.6L615.2 184.6L617.6 184.6L619.9 184.7L622.2 184.8L624.4 185.0L626.4 185.2L628.3 185.5L630.1 185.9L631.9 186.3L633.5 186.8L635.2 187.3L636.7 187.8L638.3 188.3L639.8 188.8L641.4 189.4L643.0 190.0L644.6 190.7L646.2 191.4L647.6 192.1L648.9 192.7L650.0 193.2L650.8 193.6" fill="none" stroke="#b00a0a" stroke-width="5" filter="url(#b2)" opacity="0.45"/>
<g filter="url(#b05)">
<circle cx="572.3" cy="196.4" r="0.53" fill="#f01818" opacity="0.93"/>
<circle cx="588.4" cy="184.7" r="0.94" fill="#f01818" opacity="0.81"/>
<circle cx="572.3" cy="193.6" r="0.62" fill="#f01818" opacity="0.78"/>
<circle cx="570.6" cy="192.5" r="0.62" fill="#f01818" opacity="0.66"/>
<circle cx="579.9" cy="192.5" r="0.75" fill="#f01818" opacity="0.81"/>
<circle cx="576.2" cy="199.9" r="0.62" fill="#f01818" opacity="0.88"/>
<circle cx="579.6" cy="186.9" r="0.89" fill="#f01818" opacity="0.62"/>
<circle cx="601.7" cy="184.3" r="0.99" fill="#f01818" opacity="0.73"/>
<circle cx="575.6" cy="191.5" r="0.89" fill="#f01818" opacity="0.88"/>
<circle cx="579.0" cy="198.2" r="0.68" fill="#f01818" opacity="0.60"/>
<circle cx="593.7" cy="190.7" r="0.60" fill="#f01818" opacity="0.53"/>
<circle cx="602.4" cy="185.6" r="0.74" fill="#f01818" opacity="0.91"/>
<circle cx="595.0" cy="189.2" r="0.62" fill="#f01818" opacity="0.67"/>
<circle cx="582.4" cy="192.8" r="0.56" fill="#f01818" opacity="0.94"/>
<circle cx="576.2" cy="198.6" r="1.09" fill="#f01818" opacity="0.59"/>
<circle cx="572.9" cy="196.5" r="0.72" fill="#f01818" opacity="0.78"/>
<circle cx="594.4" cy="187.3" r="0.98" fill="#f01818" opacity="0.78"/>
<circle cx="587.7" cy="193.0" r="0.96" fill="#f01818" opacity="0.94"/>
<circle cx="578.2" cy="189.0" r="0.77" fill="#f01818" opacity="0.95"/>
<circle cx="571.8" cy="192.1" r="0.87" fill="#f01818" opacity="0.61"/>
<circle cx="578.7" cy="197.9" r="0.83" fill="#f01818" opacity="0.76"/>
<circle cx="587.9" cy="188.4" r="0.81" fill="#f01818" opacity="0.83"/>
<circle cx="583.9" cy="187.4" r="0.72" fill="#f01818" opacity="0.75"/>
<circle cx="581.6" cy="193.8" r="0.85" fill="#f01818" opacity="0.59"/>
<circle cx="605.6" cy="186.2" r="0.65" fill="#f01818" opacity="0.90"/>
<circle cx="575.0" cy="193.7" r="0.65" fill="#f01818" opacity="0.86"/>
<circle cx="598.4" cy="189.9" r="1.00" fill="#f01818" opacity="0.64"/>
<circle cx="588.4" cy="184.7" r="0.74" fill="#f01818" opacity="0.87"/>
<circle cx="581.6" cy="192.3" r="0.68" fill="#f01818" opacity="0.93"/>
<circle cx="574.7" cy="197.5" r="0.87" fill="#f01818" opacity="0.73"/>
<circle cx="585.7" cy="188.7" r="0.75" fill="#f01818" opacity="0.55"/>
<circle cx="572.4" cy="193.2" r="0.50" fill="#f01818" opacity="0.68"/>
<circle cx="600.6" cy="182.9" r="0.68" fill="#f01818" opacity="0.90"/>
<circle cx="573.8" cy="191.7" r="0.96" fill="#f01818" opacity="0.89"/>
<circle cx="594.8" cy="186.6" r="0.83" fill="#f01818" opacity="0.92"/>
<circle cx="595.8" cy="185.4" r="0.97" fill="#f01818" opacity="0.69"/>
<circle cx="575.1" cy="194.5" r="0.99" fill="#f01818" opacity="0.63"/>
<circle cx="597.0" cy="183.1" r="1.05" fill="#f01818" opacity="0.64"/>
<circle cx="574.9" cy="197.6" r="0.80" fill="#f01818" opacity="0.95"/>
<circle cx="575.5" cy="197.7" r="1.06" fill="#f01818" opacity="0.62"/>
<circle cx="604.6" cy="183.6" r="0.98" fill="#f01818" opacity="0.71"/>
<circle cx="586.8" cy="190.6" r="0.91" fill="#f01818" opacity="0.94"/>
<circle cx="592.7" cy="184.3" r="1.02" fill="#f01818" opacity="0.55"/>
<circle cx="590.7" cy="186.4" r="0.62" fill="#f01818" opacity="0.62"/>
<circle cx="574.3" cy="197.5" r="0.94" fill="#f01818" opacity="0.72"/>
<circle cx="580.4" cy="187.8" r="1.07" fill="#f01818" opacity="0.74"/>
<circle cx="578.5" cy="191.6" r="0.77" fill="#f01818" opacity="0.58"/>
<circle cx="590.3" cy="185.0" r="0.89" fill="#f01818" opacity="0.72"/>
<circle cx="576.5" cy="191.5" r="0.69" fill="#f01818" opacity="0.64"/>
<circle cx="585.1" cy="191.8" r="0.89" fill="#f01818" opacity="0.91"/>
<circle cx="603.5" cy="189.5" r="0.56" fill="#f01818" opacity="0.86"/>
<circle cx="577.6" cy="193.9" r="0.81" fill="#f01818" opacity="0.67"/>
<circle cx="606.5" cy="185.0" r="0.91" fill="#f01818" opacity="0.73"/>
<circle cx="570.5" cy="195.6" r="0.68" fill="#f01818" opacity="0.55"/>
<circle cx="577.3" cy="188.6" r="1.01" fill="#f01818" opacity="0.90"/>
<circle cx="589.0" cy="187.4" r="0.58" fill="#f01818" opacity="0.65"/>
<circle cx="581.6" cy="192.1" r="1.09" fill="#f01818" opacity="0.63"/>
<circle cx="573.5" cy="197.7" r="0.59" fill="#f01818" opacity="0.93"/>
<circle cx="599.5" cy="188.2" r="0.77" fill="#f01818" opacity="0.60"/>
<circle cx="584.4" cy="189.7" r="0.98" fill="#f01818" opacity="0.73"/>
<circle cx="577.0" cy="196.6" r="0.90" fill="#f01818" opacity="0.60"/>
<circle cx="573.5" cy="194.9" r="0.56" fill="#f01818" opacity="0.72"/>
<circle cx="585.6" cy="187.9" r="0.54" fill="#f01818" opacity="0.91"/>
<circle cx="594.3" cy="186.8" r="0.51" fill="#f01818" opacity="0.54"/>
<circle cx="579.7" cy="191.7" r="0.75" fill="#f01818" opacity="0.74"/>
<circle cx="576.6" cy="190.9" r="0.60" fill="#f01818" opacity="0.65"/>
<circle cx="591.9" cy="181.4" r="1.08" fill="#f01818" opacity="0.89"/>
<circle cx="596.6" cy="187.7" r="1.01" fill="#f01818" opacity="0.94"/>
<circle cx="586.9" cy="192.7" r="0.93" fill="#f01818" opacity="0.90"/>
<circle cx="578.1" cy="198.5" r="0.64" fill="#f01818" opacity="0.61"/>
<circle cx="570.1" cy="194.8" r="0.56" fill="#f01818" opacity="0.91"/>
<circle cx="594.2" cy="183.0" r="0.67" fill="#f01818" opacity="0.82"/>
<circle cx="574.3" cy="192.5" r="0.66" fill="#f01818" opacity="0.90"/>
<circle cx="579.5" cy="193.6" r="0.84" fill="#f01818" opacity="0.94"/>
<circle cx="569.2" cy="193.4" r="0.86" fill="#f01818" opacity="0.88"/>
<circle cx="581.1" cy="186.3" r="0.91" fill="#f01818" opacity="0.85"/>
<circle cx="584.1" cy="189.5" r="0.50" fill="#f01818" opacity="0.74"/>
<circle cx="576.5" cy="200.0" r="1.08" fill="#f01818" opacity="0.64"/>
<circle cx="583.1" cy="186.7" r="0.61" fill="#f01818" opacity="0.73"/>
<circle cx="573.9" cy="190.8" r="0.66" fill="#f01818" opacity="0.54"/>
<circle cx="578.1" cy="194.0" r="1.04" fill="#f01818" opacity="0.69"/>
<circle cx="584.1" cy="190.5" r="0.80" fill="#f01818" opacity="0.80"/>
<circle cx="582.9" cy="192.7" r="0.70" fill="#f01818" opacity="0.93"/>
<circle cx="591.2" cy="184.2" r="0.59" fill="#f01818" opacity="0.77"/>
<circle cx="574.1" cy="197.3" r="0.76" fill="#f01818" opacity="0.63"/>
<circle cx="596.3" cy="181.4" r="0.53" fill="#f01818" opacity="0.54"/>
<circle cx="572.3" cy="191.7" r="0.55" fill="#f01818" opacity="0.55"/>
<circle cx="573.1" cy="194.9" r="0.70" fill="#f01818" opacity="0.87"/>
<circle cx="581.9" cy="193.5" r="0.60" fill="#f01818" opacity="0.71"/>
<circle cx="607.1" cy="184.8" r="0.78" fill="#f01818" opacity="0.82"/>
<circle cx="576.5" cy="193.4" r="0.53" fill="#f01818" opacity="0.76"/>
<circle cx="582.1" cy="195.4" r="0.63" fill="#f01818" opacity="0.55"/>
<circle cx="607.4" cy="181.8" r="0.57" fill="#f01818" opacity="0.75"/>
<circle cx="593.2" cy="186.9" r="0.71" fill="#f01818" opacity="0.86"/>
<circle cx="595.9" cy="186.6" r="0.56" fill="#f01818" opacity="0.76"/>
<circle cx="573.5" cy="194.9" r="0.65" fill="#f01818" opacity="0.74"/>
<circle cx="599.2" cy="188.8" r="0.98" fill="#f01818" opacity="0.82"/>
<circle cx="577.1" cy="187.8" r="0.74" fill="#f01818" opacity="0.65"/>
<circle cx="605.0" cy="185.7" r="0.62" fill="#f01818" opacity="0.82"/>
<circle cx="594.8" cy="185.7" r="0.65" fill="#f01818" opacity="0.58"/>
<circle cx="602.6" cy="186.4" r="0.78" fill="#f01818" opacity="0.55"/>
<circle cx="595.8" cy="181.1" r="0.94" fill="#f01818" opacity="0.67"/>
<circle cx="599.8" cy="182.9" r="0.85" fill="#f01818" opacity="0.53"/>
<circle cx="593.0" cy="189.5" r="0.76" fill="#f01818" opacity="0.76"/>
<circle cx="573.3" cy="197.2" r="0.70" fill="#f01818" opacity="0.70"/>
<circle cx="573.5" cy="199.1" r="0.50" fill="#f01818" opacity="0.56"/>
<circle cx="590.8" cy="189.5" r="1.05" fill="#f01818" opacity="0.71"/>
<circle cx="580.3" cy="193.4" r="1.00" fill="#f01818" opacity="0.84"/>
<circle cx="577.3" cy="194.3" r="0.76" fill="#f01818" opacity="0.74"/>
<circle cx="596.5" cy="185.2" r="1.08" fill="#f01818" opacity="0.76"/>
<circle cx="575.3" cy="193.3" r="0.54" fill="#f01818" opacity="0.64"/>
<circle cx="602.6" cy="182.4" r="0.70" fill="#f01818" opacity="0.83"/>
<circle cx="603.6" cy="184.0" r="0.59" fill="#f01818" opacity="0.78"/>
<circle cx="591.0" cy="183.2" r="0.88" fill="#f01818" opacity="0.80"/>
<circle cx="600.1" cy="181.6" r="1.02" fill="#f01818" opacity="0.74"/>
<circle cx="595.7" cy="190.6" r="0.78" fill="#f01818" opacity="0.54"/>
<circle cx="584.7" cy="189.1" r="0.94" fill="#f01818" opacity="0.74"/>
<circle cx="576.2" cy="199.4" r="0.91" fill="#f01818" opacity="0.91"/>
<circle cx="569.1" cy="194.5" r="0.97" fill="#f01818" opacity="0.65"/>
<circle cx="583.8" cy="186.2" r="0.65" fill="#f01818" opacity="0.69"/>
<circle cx="610.5" cy="188.0" r="0.51" fill="#e01616" opacity="0.48"/>
<circle cx="609.7" cy="182.4" r="0.64" fill="#e01616" opacity="0.83"/>
<circle cx="649.6" cy="192.8" r="0.75" fill="#e01616" opacity="0.67"/>
<circle cx="633.6" cy="188.8" r="0.83" fill="#e01616" opacity="0.54"/>
<circle cx="610.3" cy="183.6" r="0.73" fill="#e01616" opacity="0.64"/>
<circle cx="630.9" cy="182.8" r="0.47" fill="#e01616" opacity="0.59"/>
<circle cx="650.3" cy="193.7" r="0.53" fill="#e01616" opacity="0.69"/>
<circle cx="611.1" cy="186.2" r="0.55" fill="#e01616" opacity="0.56"/>
<circle cx="628.6" cy="188.4" r="0.76" fill="#e01616" opacity="0.47"/>
<circle cx="616.9" cy="183.7" r="0.43" fill="#e01616" opacity="0.72"/>
<circle cx="609.1" cy="184.4" r="0.67" fill="#e01616" opacity="0.65"/>
<circle cx="634.2" cy="190.9" r="0.62" fill="#e01616" opacity="0.83"/>
<circle cx="648.9" cy="191.0" r="0.50" fill="#e01616" opacity="0.61"/>
<circle cx="636.4" cy="190.0" r="0.63" fill="#e01616" opacity="0.70"/>
<circle cx="647.6" cy="191.2" r="0.84" fill="#e01616" opacity="0.66"/>
<circle cx="612.8" cy="188.6" r="0.75" fill="#e01616" opacity="0.59"/>
<circle cx="630.1" cy="188.3" r="0.54" fill="#e01616" opacity="0.53"/>
<circle cx="628.8" cy="184.1" r="0.75" fill="#e01616" opacity="0.52"/>
<circle cx="642.1" cy="190.9" r="0.57" fill="#e01616" opacity="0.78"/>
<circle cx="610.1" cy="186.0" r="0.42" fill="#e01616" opacity="0.70"/>
<circle cx="619.1" cy="185.8" r="0.45" fill="#e01616" opacity="0.59"/>
<circle cx="638.3" cy="191.9" r="0.60" fill="#e01616" opacity="0.81"/>
<circle cx="609.0" cy="183.7" r="0.43" fill="#e01616" opacity="0.60"/>
<circle cx="642.6" cy="193.5" r="0.79" fill="#e01616" opacity="0.76"/>
<circle cx="610.6" cy="182.9" r="0.76" fill="#e01616" opacity="0.51"/>
<circle cx="608.1" cy="187.7" r="0.72" fill="#e01616" opacity="0.66"/>
<circle cx="615.9" cy="185.8" r="0.41" fill="#e01616" opacity="0.68"/>
<circle cx="608.0" cy="185.8" r="0.73" fill="#e01616" opacity="0.82"/>
<circle cx="628.6" cy="186.4" r="0.80" fill="#e01616" opacity="0.64"/>
<circle cx="642.7" cy="187.3" r="0.58" fill="#e01616" opacity="0.55"/>
<circle cx="649.7" cy="189.6" r="0.79" fill="#e01616" opacity="0.72"/>
<circle cx="647.1" cy="192.5" r="0.46" fill="#e01616" opacity="0.67"/>
<circle cx="643.6" cy="193.4" r="0.53" fill="#e01616" opacity="0.83"/>
<circle cx="641.1" cy="190.9" r="0.47" fill="#e01616" opacity="0.77"/>
<circle cx="631.4" cy="183.6" r="0.77" fill="#e01616" opacity="0.73"/>
<circle cx="646.9" cy="187.9" r="0.64" fill="#e01616" opacity="0.65"/>
<circle cx="633.5" cy="187.7" r="0.82" fill="#e01616" opacity="0.57"/>
<circle cx="641.7" cy="192.7" r="0.56" fill="#e01616" opacity="0.51"/>
<circle cx="627.6" cy="184.9" r="0.44" fill="#e01616" opacity="0.84"/>
<circle cx="608.6" cy="185.1" r="0.65" fill="#e01616" opacity="0.57"/>
<circle cx="611.6" cy="182.7" r="0.59" fill="#e01616" opacity="0.47"/>
<circle cx="613.3" cy="186.3" r="0.44" fill="#e01616" opacity="0.70"/>
<circle cx="626.9" cy="189.0" r="0.45" fill="#e01616" opacity="0.75"/>
<circle cx="651.2" cy="190.6" r="0.58" fill="#e01616" opacity="0.76"/>
<circle cx="611.5" cy="186.3" r="0.72" fill="#e01616" opacity="0.54"/>
<circle cx="631.0" cy="186.4" r="0.48" fill="#e01616" opacity="0.71"/>
<circle cx="632.6" cy="186.3" r="0.76" fill="#e01616" opacity="0.54"/>
<circle cx="649.5" cy="191.8" r="0.78" fill="#e01616" opacity="0.60"/>
<circle cx="614.5" cy="187.2" r="0.85" fill="#e01616" opacity="0.74"/>
<circle cx="620.5" cy="182.7" r="0.45" fill="#e01616" opacity="0.54"/>
<circle cx="631.5" cy="187.9" r="0.42" fill="#e01616" opacity="0.62"/>
<circle cx="626.8" cy="182.7" r="0.60" fill="#e01616" opacity="0.54"/>
<circle cx="608.2" cy="188.4" r="0.74" fill="#e01616" opacity="0.84"/>
<circle cx="619.0" cy="182.4" r="0.72" fill="#e01616" opacity="0.64"/>
<circle cx="645.6" cy="193.9" r="0.72" fill="#e01616" opacity="0.59"/>
<circle cx="616.3" cy="186.0" r="0.62" fill="#e01616" opacity="0.74"/>
<circle cx="623.2" cy="186.5" r="0.71" fill="#e01616" opacity="0.82"/>
<circle cx="641.6" cy="186.2" r="0.84" fill="#e01616" opacity="0.55"/>
<circle cx="609.5" cy="182.7" r="0.43" fill="#e01616" opacity="0.83"/>
<circle cx="618.1" cy="182.3" r="0.44" fill="#e01616" opacity="0.53"/>
<circle cx="618.7" cy="187.4" r="0.82" fill="#e01616" opacity="0.72"/>
<circle cx="647.5" cy="194.1" r="0.41" fill="#e01616" opacity="0.58"/>
<circle cx="618.7" cy="182.5" r="0.82" fill="#e01616" opacity="0.54"/>
<circle cx="641.4" cy="191.5" r="0.70" fill="#e01616" opacity="0.50"/>
<circle cx="616.8" cy="185.5" r="0.75" fill="#e01616" opacity="0.55"/>
<circle cx="614.7" cy="183.8" r="0.66" fill="#e01616" opacity="0.49"/>
<circle cx="620.1" cy="186.7" r="0.68" fill="#e01616" opacity="0.74"/>
<circle cx="608.7" cy="184.3" r="0.47" fill="#e01616" opacity="0.56"/>
<circle cx="626.3" cy="185.9" r="0.67" fill="#e01616" opacity="0.69"/>
<circle cx="632.3" cy="189.5" r="0.41" fill="#e01616" opacity="0.64"/>
<circle cx="630.0" cy="187.9" r="0.50" fill="#e01616" opacity="0.59"/>
<circle cx="629.5" cy="182.3" r="0.53" fill="#e01616" opacity="0.72"/>
<circle cx="607.9" cy="185.0" r="0.81" fill="#e01616" opacity="0.75"/>
<circle cx="635.8" cy="188.5" r="0.45" fill="#e01616" opacity="0.64"/>
<circle cx="642.0" cy="187.8" r="0.48" fill="#e01616" opacity="0.55"/>
<circle cx="645.2" cy="187.8" r="0.49" fill="#e01616" opacity="0.75"/>
<circle cx="625.0" cy="188.3" r="0.47" fill="#e01616" opacity="0.56"/>
<circle cx="617.3" cy="187.2" r="0.79" fill="#e01616" opacity="0.72"/>
<circle cx="636.2" cy="189.8" r="0.72" fill="#e01616" opacity="0.81"/>
<circle cx="634.5" cy="187.1" r="0.62" fill="#e01616" opacity="0.70"/>
</g>
<ellipse cx="578.7" cy="190.3" rx="2.6" ry="2.0" transform="rotate(-30 578.7 190.3)" fill="#ff2a2a" opacity="1" filter="url(#b05)"/>
<ellipse cx="605.5" cy="187.3" rx="2.4" ry="1.6" transform="rotate(0 605.5 187.3)" fill="#ff2a2a" opacity="1" filter="url(#b05)"/>
<path d="M569.8 200.7L569.2 201.4L568.4 202.2L567.5 203.2L566.4 204.3L565.3 205.5L564.2 206.8L563.2 208.2L562.3 209.7L561.5 211.2L560.8 212.9L560.0 214.7L559.3 216.6L558.6 218.5L557.9 220.5L557.2 222.5L556.4 224.6L555.5 226.7L554.6 228.8L553.7 231.0L552.7 233.2L551.8 235.4L550.8 237.7L549.8 240.1L548.9 242.5L547.9 245.0L547.0 247.6L546.0 250.3L545.0 253.1L544.0 255.8L543.1 258.5L542.2 261.0L541.5 263.3L540.8 265.6L540.1 267.8L539.6 270.0L539.0 272.1L538.6 274.0L538.2 275.7L537.9 277.1L537.6 278.2" fill="none" stroke="#7a0a0a" stroke-width="5" filter="url(#b2)" opacity="0.45"/>
</svg>
<svg x="656.2" y="164.7" width="117.8" height="117.9" viewBox="656.2 164.7 117.8 117.9" overflow="hidden">
<rect x="656.2" y="164.7" width="117.8" height="117.9" fill="url(#redbg)"/>
<path d="M692.2 197.2L692.6 196.8L693.1 196.2L693.8 195.6L694.5 194.8L695.4 194.1L696.3 193.3L697.4 192.5L698.7 191.8L700.2 191.1L701.8 190.4L703.7 189.6L705.6 188.9L707.7 188.2L709.7 187.5L711.7 186.9L713.6 186.4L715.5 186.0L717.3 185.7L719.1 185.4L720.9 185.2L722.7 185.0L724.6 184.8L726.5 184.7L728.5 184.7L730.6 184.6L732.9 184.6L735.2 184.6L737.6 184.6L739.9 184.7L742.2 184.8L744.4 185.0L746.4 185.2L748.3 185.5L750.1 185.9L751.9 186.3L753.5 186.8L755.2 187.3L756.7 187.8L758.3 188.3L759.8 188.8L761.4 189.4L763.0 190.0L764.6 190.7L766.2 191.4L767.6 192.1L768.9 192.7L770.0 193.2L770.8 193.6" fill="none" stroke="#b00a0a" stroke-width="5" filter="url(#b2)" opacity="0.45"/>
<g filter="url(#b05)">
<circle cx="692.3" cy="196.4" r="0.53" fill="#f01818" opacity="0.93"/>
<circle cx="708.4" cy="184.7" r="0.94" fill="#f01818" opacity="0.81"/>
<circle cx="692.3" cy="193.6" r="0.62" fill="#f01818" opacity="0.78"/>
<circle cx="690.6" cy="192.5" r="0.62" fill="#f01818" opacity="0.66"/>
<circle cx="699.9" cy="192.5" r="0.75" fill="#f01818" opacity="0.81"/>
<circle cx="696.2" cy="199.9" r="0.62" fill="#f01818" opacity="0.88"/>
<circle cx="699.6" cy="186.9" r="0.89" fill="#f01818" opacity="0.62"/>
<circle cx="721.7" cy="184.3" r="0.99" fill="#f01818" opacity="0.73"/>
<circle cx="695.6" cy="191.5" r="0.89" fill="#f01818" opacity="0.88"/>
<circle cx="699.0" cy="198.2" r="0.68" fill="#f01818" opacity="0.60"/>
<circle cx="713.7" cy="190.7" r="0.60" fill="#f01818" opacity="0.53"/>
<circle cx="722.4" cy="185.6" r="0.74" fill="#f01818" opacity="0.91"/>
<circle cx="715.0" cy="189.2" r="0.62" fill="#f01818" opacity="0.67"/>
<circle cx="702.4" cy="192.8" r="0.56" fill="#f01818" opacity="0.94"/>
<circle cx="696.2" cy="198.6" r="1.09" fill="#f01818" opacity="0.59"/>
<circle cx="692.9" cy="196.5" r="0.72" fill="#f01818" opacity="0.78"/>
<circle cx="714.4" cy="187.3" r="0.98" fill="#f01818" opacity="0.78"/>
<circle cx="707.7" cy="193.0" r="0.96" fill="#f01818" opacity="0.94"/>
<circle cx="698.2" cy="189.0" r="0.77" fill="#f01818" opacity="0.95"/>
<circle cx="691.8" cy="192.1" r="0.87" fill="#f01818" opacity="0.61"/>
<circle cx="698.7" cy="197.9" r="0.83" fill="#f01818" opacity="0.76"/>
<circle cx="707.9" cy="188.4" r="0.81" fill="#f01818" opacity="0.83"/>
<circle cx="703.9" cy="187.4" r="0.72" fill="#f01818" opacity="0.75"/>
<circle cx="701.6" cy="193.8" r="0.85" fill="#f01818" opacity="0.59"/>
<circle cx="725.6" cy="186.2" r="0.65" fill="#f01818" opacity="0.90"/>
<circle cx="695.0" cy="193.7" r="0.65" fill="#f01818" opacity="0.86"/>
<circle cx="718.4" cy="189.9" r="1.00" fill="#f01818" opacity="0.64"/>
<circle cx="708.4" cy="184.7" r="0.74" fill="#f01818" opacity="0.87"/>
<circle cx="701.6" cy="192.3" r="0.68" fill="#f01818" opacity="0.93"/>
<circle cx="694.7" cy="197.5" r="0.87" fill="#f01818" opacity="0.73"/>
<circle cx="705.7" cy="188.7" r="0.75" fill="#f01818" opacity="0.55"/>
<circle cx="692.4" cy="193.2" r="0.50" fill="#f01818" opacity="0.68"/>
<circle cx="720.6" cy="182.9" r="0.68" fill="#f01818" opacity="0.90"/>
<circle cx="693.8" cy="191.7" r="0.96" fill="#f01818" opacity="0.89"/>
<circle cx="714.8" cy="186.6" r="0.83" fill="#f01818" opacity="0.92"/>
<circle cx="715.8" cy="185.4" r="0.97" fill="#f01818" opacity="0.69"/>
<circle cx="695.1" cy="194.5" r="0.99" fill="#f01818" opacity="0.63"/>
<circle cx="717.0" cy="183.1" r="1.05" fill="#f01818" opacity="0.64"/>
<circle cx="694.9" cy="197.6" r="0.80" fill="#f01818" opacity="0.95"/>
<circle cx="695.5" cy="197.7" r="1.06" fill="#f01818" opacity="0.62"/>
<circle cx="724.6" cy="183.6" r="0.98" fill="#f01818" opacity="0.71"/>
<circle cx="706.8" cy="190.6" r="0.91" fill="#f01818" opacity="0.94"/>
<circle cx="712.7" cy="184.3" r="1.02" fill="#f01818" opacity="0.55"/>
<circle cx="710.7" cy="186.4" r="0.62" fill="#f01818" opacity="0.62"/>
<circle cx="694.3" cy="197.5" r="0.94" fill="#f01818" opacity="0.72"/>
<circle cx="700.4" cy="187.8" r="1.07" fill="#f01818" opacity="0.74"/>
<circle cx="698.5" cy="191.6" r="0.77" fill="#f01818" opacity="0.58"/>
<circle cx="710.3" cy="185.0" r="0.89" fill="#f01818" opacity="0.72"/>
<circle cx="696.5" cy="191.5" r="0.69" fill="#f01818" opacity="0.64"/>
<circle cx="705.1" cy="191.8" r="0.89" fill="#f01818" opacity="0.91"/>
<circle cx="723.5" cy="189.5" r="0.56" fill="#f01818" opacity="0.86"/>
<circle cx="697.6" cy="193.9" r="0.81" fill="#f01818" opacity="0.67"/>
<circle cx="726.5" cy="185.0" r="0.91" fill="#f01818" opacity="0.73"/>
<circle cx="690.5" cy="195.6" r="0.68" fill="#f01818" opacity="0.55"/>
<circle cx="697.3" cy="188.6" r="1.01" fill="#f01818" opacity="0.90"/>
<circle cx="709.0" cy="187.4" r="0.58" fill="#f01818" opacity="0.65"/>
<circle cx="701.6" cy="192.1" r="1.09" fill="#f01818" opacity="0.63"/>
<circle cx="693.5" cy="197.7" r="0.59" fill="#f01818" opacity="0.93"/>
<circle cx="719.5" cy="188.2" r="0.77" fill="#f01818" opacity="0.60"/>
<circle cx="704.4" cy="189.7" r="0.98" fill="#f01818" opacity="0.73"/>
<circle cx="697.0" cy="196.6" r="0.90" fill="#f01818" opacity="0.60"/>
<circle cx="693.5" cy="194.9" r="0.56" fill="#f01818" opacity="0.72"/>
<circle cx="705.6" cy="187.9" r="0.54" fill="#f01818" opacity="0.91"/>
<circle cx="714.3" cy="186.8" r="0.51" fill="#f01818" opacity="0.54"/>
<circle cx="699.7" cy="191.7" r="0.75" fill="#f01818" opacity="0.74"/>
<circle cx="696.6" cy="190.9" r="0.60" fill="#f01818" opacity="0.65"/>
<circle cx="711.9" cy="181.4" r="1.08" fill="#f01818" opacity="0.89"/>
<circle cx="716.6" cy="187.7" r="1.01" fill="#f01818" opacity="0.94"/>
<circle cx="706.9" cy="192.7" r="0.93" fill="#f01818" opacity="0.90"/>
<circle cx="698.1" cy="198.5" r="0.64" fill="#f01818" opacity="0.61"/>
<circle cx="690.1" cy="194.8" r="0.56" fill="#f01818" opacity="0.91"/>
<circle cx="714.2" cy="183.0" r="0.67" fill="#f01818" opacity="0.82"/>
<circle cx="694.3" cy="192.5" r="0.66" fill="#f01818" opacity="0.90"/>
<circle cx="699.5" cy="193.6" r="0.84" fill="#f01818" opacity="0.94"/>
<circle cx="689.2" cy="193.4" r="0.86" fill="#f01818" opacity="0.88"/>
<circle cx="701.1" cy="186.3" r="0.91" fill="#f01818" opacity="0.85"/>
<circle cx="704.1" cy="189.5" r="0.50" fill="#f01818" opacity="0.74"/>
<circle cx="696.5" cy="200.0" r="1.08" fill="#f01818" opacity="0.64"/>
<circle cx="703.1" cy="186.7" r="0.61" fill="#f01818" opacity="0.73"/>
<circle cx="693.9" cy="190.8" r="0.66" fill="#f01818" opacity="0.54"/>
<circle cx="698.1" cy="194.0" r="1.04" fill="#f01818" opacity="0.69"/>
<circle cx="704.1" cy="190.5" r="0.80" fill="#f01818" opacity="0.80"/>
<circle cx="702.9" cy="192.7" r="0.70" fill="#f01818" opacity="0.93"/>
<circle cx="711.2" cy="184.2" r="0.59" fill="#f01818" opacity="0.77"/>
<circle cx="694.1" cy="197.3" r="0.76" fill="#f01818" opacity="0.63"/>
<circle cx="716.3" cy="181.4" r="0.53" fill="#f01818" opacity="0.54"/>
<circle cx="692.3" cy="191.7" r="0.55" fill="#f01818" opacity="0.55"/>
<circle cx="693.1" cy="194.9" r="0.70" fill="#f01818" opacity="0.87"/>
<circle cx="701.9" cy="193.5" r="0.60" fill="#f01818" opacity="0.71"/>
<circle cx="727.1" cy="184.8" r="0.78" fill="#f01818" opacity="0.82"/>
<circle cx="696.5" cy="193.4" r="0.53" fill="#f01818" opacity="0.76"/>
<circle cx="702.1" cy="195.4" r="0.63" fill="#f01818" opacity="0.55"/>
<circle cx="727.4" cy="181.8" r="0.57" fill="#f01818" opacity="0.75"/>
<circle cx="713.2" cy="186.9" r="0.71" fill="#f01818" opacity="0.86"/>
<circle cx="715.9" cy="186.6" r="0.56" fill="#f01818" opacity="0.76"/>
<circle cx="693.5" cy="194.9" r="0.65" fill="#f01818" opacity="0.74"/>
<circle cx="719.2" cy="188.8" r="0.98" fill="#f01818" opacity="0.82"/>
<circle cx="697.1" cy="187.8" r="0.74" fill="#f01818" opacity="0.65"/>
<circle cx="725.0" cy="185.7" r="0.62" fill="#f01818" opacity="0.82"/>
<circle cx="714.8" cy="185.7" r="0.65" fill="#f01818" opacity="0.58"/>
<circle cx="722.6" cy="186.4" r="0.78" fill="#f01818" opacity="0.55"/>
<circle cx="715.8" cy="181.1" r="0.94" fill="#f01818" opacity="0.67"/>
<circle cx="719.8" cy="182.9" r="0.85" fill="#f01818" opacity="0.53"/>
<circle cx="713.0" cy="189.5" r="0.76" fill="#f01818" opacity="0.76"/>
<circle cx="693.3" cy="197.2" r="0.70" fill="#f01818" opacity="0.70"/>
<circle cx="693.5" cy="199.1" r="0.50" fill="#f01818" opacity="0.56"/>
<circle cx="710.8" cy="189.5" r="1.05" fill="#f01818" opacity="0.71"/>
<circle cx="700.3" cy="193.4" r="1.00" fill="#f01818" opacity="0.84"/>
<circle cx="697.3" cy="194.3" r="0.76" fill="#f01818" opacity="0.74"/>
<circle cx="716.5" cy="185.2" r="1.08" fill="#f01818" opacity="0.76"/>
<circle cx="695.3" cy="193.3" r="0.54" fill="#f01818" opacity="0.64"/>
<circle cx="722.6" cy="182.4" r="0.70" fill="#f01818" opacity="0.83"/>
<circle cx="723.6" cy="184.0" r="0.59" fill="#f01818" opacity="0.78"/>
<circle cx="711.0" cy="183.2" r="0.88" fill="#f01818" opacity="0.80"/>
<circle cx="720.1" cy="181.6" r="1.02" fill="#f01818" opacity="0.74"/>
<circle cx="715.7" cy="190.6" r="0.78" fill="#f01818" opacity="0.54"/>
<circle cx="704.7" cy="189.1" r="0.94" fill="#f01818" opacity="0.74"/>
<circle cx="696.2" cy="199.4" r="0.91" fill="#f01818" opacity="0.91"/>
<circle cx="689.1" cy="194.5" r="0.97" fill="#f01818" opacity="0.65"/>
<circle cx="703.8" cy="186.2" r="0.65" fill="#f01818" opacity="0.69"/>
<circle cx="730.5" cy="188.0" r="0.51" fill="#e01616" opacity="0.48"/>
<circle cx="729.7" cy="182.4" r="0.64" fill="#e01616" opacity="0.83"/>
<circle cx="769.6" cy="192.8" r="0.75" fill="#e01616" opacity="0.67"/>
<circle cx="753.6" cy="188.8" r="0.83" fill="#e01616" opacity="0.54"/>
<circle cx="730.3" cy="183.6" r="0.73" fill="#e01616" opacity="0.64"/>
<circle cx="750.9" cy="182.8" r="0.47" fill="#e01616" opacity="0.59"/>
<circle cx="770.3" cy="193.7" r="0.53" fill="#e01616" opacity="0.69"/>
<circle cx="731.1" cy="186.2" r="0.55" fill="#e01616" opacity="0.56"/>
<circle cx="748.6" cy="188.4" r="0.76" fill="#e01616" opacity="0.47"/>
<circle cx="736.9" cy="183.7" r="0.43" fill="#e01616" opacity="0.72"/>
<circle cx="729.1" cy="184.4" r="0.67" fill="#e01616" opacity="0.65"/>
<circle cx="754.2" cy="190.9" r="0.62" fill="#e01616" opacity="0.83"/>
<circle cx="768.9" cy="191.0" r="0.50" fill="#e01616" opacity="0.61"/>
<circle cx="756.4" cy="190.0" r="0.63" fill="#e01616" opacity="0.70"/>
<circle cx="767.6" cy="191.2" r="0.84" fill="#e01616" opacity="0.66"/>
<circle cx="732.8" cy="188.6" r="0.75" fill="#e01616" opacity="0.59"/>
<circle cx="750.1" cy="188.3" r="0.54" fill="#e01616" opacity="0.53"/>
<circle cx="748.8" cy="184.1" r="0.75" fill="#e01616" opacity="0.52"/>
<circle cx="762.1" cy="190.9" r="0.57" fill="#e01616" opacity="0.78"/>
<circle cx="730.1" cy="186.0" r="0.42" fill="#e01616" opacity="0.70"/>
<circle cx="739.1" cy="185.8" r="0.45" fill="#e01616" opacity="0.59"/>
<circle cx="758.3" cy="191.9" r="0.60" fill="#e01616" opacity="0.81"/>
<circle cx="729.0" cy="183.7" r="0.43" fill="#e01616" opacity="0.60"/>
<circle cx="762.6" cy="193.5" r="0.79" fill="#e01616" opacity="0.76"/>
<circle cx="730.6" cy="182.9" r="0.76" fill="#e01616" opacity="0.51"/>
<circle cx="728.1" cy="187.7" r="0.72" fill="#e01616" opacity="0.66"/>
<circle cx="735.9" cy="185.8" r="0.41" fill="#e01616" opacity="0.68"/>
<circle cx="728.0" cy="185.8" r="0.73" fill="#e01616" opacity="0.82"/>
<circle cx="748.6" cy="186.4" r="0.80" fill="#e01616" opacity="0.64"/>
<circle cx="762.7" cy="187.3" r="0.58" fill="#e01616" opacity="0.55"/>
<circle cx="769.7" cy="189.6" r="0.79" fill="#e01616" opacity="0.72"/>
<circle cx="767.1" cy="192.5" r="0.46" fill="#e01616" opacity="0.67"/>
<circle cx="763.6" cy="193.4" r="0.53" fill="#e01616" opacity="0.83"/>
<circle cx="761.1" cy="190.9" r="0.47" fill="#e01616" opacity="0.77"/>
<circle cx="751.4" cy="183.6" r="0.77" fill="#e01616" opacity="0.73"/>
<circle cx="766.9" cy="187.9" r="0.64" fill="#e01616" opacity="0.65"/>
<circle cx="753.5" cy="187.7" r="0.82" fill="#e01616" opacity="0.57"/>
<circle cx="761.7" cy="192.7" r="0.56" fill="#e01616" opacity="0.51"/>
<circle cx="747.6" cy="184.9" r="0.44" fill="#e01616" opacity="0.84"/>
<circle cx="728.6" cy="185.1" r="0.65" fill="#e01616" opacity="0.57"/>
<circle cx="731.6" cy="182.7" r="0.59" fill="#e01616" opacity="0.47"/>
<circle cx="733.3" cy="186.3" r="0.44" fill="#e01616" opacity="0.70"/>
<circle cx="746.9" cy="189.0" r="0.45" fill="#e01616" opacity="0.75"/>
<circle cx="771.2" cy="190.6" r="0.58" fill="#e01616" opacity="0.76"/>
<circle cx="731.5" cy="186.3" r="0.72" fill="#e01616" opacity="0.54"/>
<circle cx="751.0" cy="186.4" r="0.48" fill="#e01616" opacity="0.71"/>
<circle cx="752.6" cy="186.3" r="0.76" fill="#e01616" opacity="0.54"/>
<circle cx="769.5" cy="191.8" r="0.78" fill="#e01616" opacity="0.60"/>
<circle cx="734.5" cy="187.2" r="0.85" fill="#e01616" opacity="0.74"/>
<circle cx="740.5" cy="182.7" r="0.45" fill="#e01616" opacity="0.54"/>
<circle cx="751.5" cy="187.9" r="0.42" fill="#e01616" opacity="0.62"/>
<circle cx="746.8" cy="182.7" r="0.60" fill="#e01616" opacity="0.54"/>
<circle cx="728.2" cy="188.4" r="0.74" fill="#e01616" opacity="0.84"/>
<circle cx="739.0" cy="182.4" r="0.72" fill="#e01616" opacity="0.64"/>
<circle cx="765.6" cy="193.9" r="0.72" fill="#e01616" opacity="0.59"/>
<circle cx="736.3" cy="186.0" r="0.62" fill="#e01616" opacity="0.74"/>
<circle cx="743.2" cy="186.5" r="0.71" fill="#e01616" opacity="0.82"/>
<circle cx="761.6" cy="186.2" r="0.84" fill="#e01616" opacity="0.55"/>
<circle cx="729.5" cy="182.7" r="0.43" fill="#e01616" opacity="0.83"/>
<circle cx="738.1" cy="182.3" r="0.44" fill="#e01616" opacity="0.53"/>
<circle cx="738.7" cy="187.4" r="0.82" fill="#e01616" opacity="0.72"/>
<circle cx="767.5" cy="194.1" r="0.41" fill="#e01616" opacity="0.58"/>
<circle cx="738.7" cy="182.5" r="0.82" fill="#e01616" opacity="0.54"/>
<circle cx="761.4" cy="191.5" r="0.70" fill="#e01616" opacity="0.50"/>
<circle cx="736.8" cy="185.5" r="0.75" fill="#e01616" opacity="0.55"/>
<circle cx="734.7" cy="183.8" r="0.66" fill="#e01616" opacity="0.49"/>
<circle cx="740.1" cy="186.7" r="0.68" fill="#e01616" opacity="0.74"/>
<circle cx="728.7" cy="184.3" r="0.47" fill="#e01616" opacity="0.56"/>
<circle cx="746.3" cy="185.9" r="0.67" fill="#e01616" opacity="0.69"/>
<circle cx="752.3" cy="189.5" r="0.41" fill="#e01616" opacity="0.64"/>
<circle cx="750.0" cy="187.9" r="0.50" fill="#e01616" opacity="0.59"/>
<circle cx="749.5" cy="182.3" r="0.53" fill="#e01616" opacity="0.72"/>
<circle cx="727.9" cy="185.0" r="0.81" fill="#e01616" opacity="0.75"/>
<circle cx="755.8" cy="188.5" r="0.45" fill="#e01616" opacity="0.64"/>
<circle cx="762.0" cy="187.8" r="0.48" fill="#e01616" opacity="0.55"/>
<circle cx="765.2" cy="187.8" r="0.49" fill="#e01616" opacity="0.75"/>
<circle cx="745.0" cy="188.3" r="0.47" fill="#e01616" opacity="0.56"/>
<circle cx="737.3" cy="187.2" r="0.79" fill="#e01616" opacity="0.72"/>
<circle cx="756.2" cy="189.8" r="0.72" fill="#e01616" opacity="0.81"/>
<circle cx="754.5" cy="187.1" r="0.62" fill="#e01616" opacity="0.70"/>
</g>
<ellipse cx="698.7" cy="190.3" rx="2.6" ry="2.0" transform="rotate(-30 698.7 190.3)" fill="#ff2a2a" opacity="1" filter="url(#b05)"/>
<ellipse cx="725.5" cy="187.3" rx="2.4" ry="1.6" transform="rotate(0 725.5 187.3)" fill="#ff2a2a" opacity="1" filter="url(#b05)"/>
<path d="M689.8 200.7L689.2 201.4L688.4 202.2L687.5 203.2L686.4 204.3L685.3 205.5L684.2 206.8L683.2 208.2L682.3 209.7L681.5 211.2L680.8 212.9L680.0 214.7L679.3 216.6L678.6 218.5L677.9 220.5L677.2 222.5L676.4 224.6L675.5 226.7L674.6 228.8L673.7 231.0L672.7 233.2L671.8 235.4L670.8 237.7L669.8 240.1L668.9 242.5L667.9 245.0L667.0 247.6L666.0 250.3L665.0 253.1L664.0 255.8L663.1 258.5L662.2 261.0L661.5 263.3L660.8 265.6L660.1 267.8L659.6 270.0L659.0 272.1L658.6 274.0L658.2 275.7L657.9 277.1L657.6 278.2" fill="none" stroke="#7a0a0a" stroke-width="5" filter="url(#b2)" opacity="0.45"/>
</svg>
<svg x="416.2" y="284.7" width="117.8" height="118.0" viewBox="416.2 284.7 117.8 118.0" overflow="hidden">
<rect x="416.2" y="284.7" width="117.8" height="118.0" fill="#020300"/>
<ellipse cx="504.9" cy="300.2" rx="6.2" ry="2.2" transform="rotate(15 504.9 300.2)" fill="#22f01e" opacity="1" filter="url(#b05)"/>
<ellipse cx="527.0" cy="310.4" rx="1.9" ry="4.6" transform="rotate(8 527.0 310.4)" fill="#22f01e" opacity="1" filter="url(#b05)"/>
<ellipse cx="473.9" cy="293.1" rx="3.2" ry="1.7" transform="rotate(-30 473.9 293.1)" fill="#157a15" opacity="0.8" filter="url(#b08)"/>
<ellipse cx="479.4" cy="308.6" rx="3.0" ry="2.6" transform="rotate(0 479.4 308.6)" fill="#168416" opacity="0.8" filter="url(#b08)"/>
<ellipse cx="432.0" cy="323.0" rx="5" ry="1.5" transform="rotate(-25 432.0 323.0)" fill="#0c3a0c" opacity="0.7" filter="url(#b1)"/>
<ellipse cx="505.0" cy="360.0" rx="3" ry="9" transform="rotate(35 505.0 360.0)" fill="#082808" opacity="0.6" filter="url(#b2)"/>
</svg>
<text x="418.4" y="375.3" font-size="10.5" font-weight="bold" font-style="italic" text-anchor="start" fill="#f4f4f4" >nlp-99::mKate2;</text>
<text x="418.4" y="387.0" font-size="10.5" font-weight="bold" font-style="italic" text-anchor="start" fill="#f4f4f4" >sra-6p::yfp;</text>
<text x="418.4" y="398.6" font-size="10.5" font-weight="bold" font-style="italic" text-anchor="start" fill="#f4f4f4" >unc-122p::gfp</text>
<svg x="536.2" y="284.7" width="117.8" height="118.0" viewBox="536.2 284.7 117.8 118.0" overflow="hidden">
<rect x="536.2" y="284.7" width="117.8" height="118.0" fill="url(#redbg)"/>
<path d="M623.5 291.5L624.3 292.0L625.4 292.5L626.8 293.2L628.2 294.0L629.7 294.9L631.3 295.8L632.7 296.9L634.0 298.0L635.2 299.2L636.4 300.6L637.6 302.1L638.7 303.6L639.8 305.2L640.8 306.8L641.7 308.4L642.5 310.0L643.2 311.6L643.8 313.2L644.2 314.8L644.7 316.5L645.0 318.2L645.2 319.8L645.4 321.4L645.5 323.0L645.5 324.6L645.4 326.1L645.2 327.6L644.9 329.1L644.6 330.6L644.2 332.1L643.9 333.6L643.5 335.0L643.2 336.4L642.8 337.9L642.4 339.3L642.0 340.7L641.6 342.0L641.1 343.4L640.6 344.7L640.0 346.0L639.4 347.3L638.7 348.5L638.0 349.7L637.2 350.8L636.4 352.0L635.6 353.2L634.8 354.3L634.0 355.5L633.2 356.7L632.3 357.9L631.4 359.2L630.5 360.4L629.6 361.6L628.7 362.8L627.8 363.9L627.0 365.0L626.2 366.0L625.3 367.1L624.4 368.1L623.6 369.1L622.8 370.0L622.1 370.8L621.5 371.5L621.0 372.0" fill="none" stroke="#8a0606" stroke-width="7" filter="url(#b2)" opacity="0.35"/>
<g filter="url(#b05)">
<circle cx="646.9" cy="315.3" r="0.75" fill="#d81416" opacity="0.81"/>
<circle cx="640.5" cy="308.1" r="0.87" fill="#d81416" opacity="0.77"/>
<circle cx="623.9" cy="290.8" r="0.97" fill="#d81416" opacity="0.53"/>
<circle cx="642.2" cy="334.2" r="0.78" fill="#d81416" opacity="0.58"/>
<circle cx="640.3" cy="298.2" r="0.86" fill="#d81416" opacity="0.47"/>
<circle cx="627.4" cy="299.3" r="0.53" fill="#d81416" opacity="0.59"/>
<circle cx="648.9" cy="335.3" r="1.02" fill="#d81416" opacity="0.49"/>
<circle cx="648.7" cy="315.5" r="0.93" fill="#d81416" opacity="0.66"/>
<circle cx="646.9" cy="315.2" r="1.11" fill="#d81416" opacity="0.62"/>
<circle cx="642.4" cy="328.5" r="0.93" fill="#d81416" opacity="0.59"/>
<circle cx="630.2" cy="299.3" r="0.94" fill="#d81416" opacity="0.79"/>
<circle cx="627.0" cy="299.9" r="0.77" fill="#d81416" opacity="0.74"/>
<circle cx="627.5" cy="295.6" r="1.13" fill="#d81416" opacity="0.56"/>
<circle cx="646.6" cy="319.3" r="1.01" fill="#d81416" opacity="0.50"/>
<circle cx="640.7" cy="306.0" r="0.75" fill="#d81416" opacity="0.74"/>
<circle cx="645.5" cy="334.9" r="0.98" fill="#d81416" opacity="0.55"/>
<circle cx="635.8" cy="295.7" r="0.66" fill="#d81416" opacity="0.85"/>
<circle cx="643.4" cy="329.4" r="0.65" fill="#d81416" opacity="0.73"/>
<circle cx="628.7" cy="298.8" r="0.63" fill="#d81416" opacity="0.76"/>
<circle cx="640.2" cy="318.1" r="0.52" fill="#d81416" opacity="0.69"/>
<circle cx="632.0" cy="298.5" r="0.62" fill="#d81416" opacity="0.75"/>
<circle cx="629.6" cy="289.2" r="0.64" fill="#d81416" opacity="0.62"/>
<circle cx="643.6" cy="307.5" r="0.65" fill="#d81416" opacity="0.51"/>
<circle cx="639.2" cy="306.7" r="0.82" fill="#d81416" opacity="0.79"/>
<circle cx="629.6" cy="294.3" r="0.62" fill="#d81416" opacity="0.65"/>
<circle cx="628.3" cy="291.0" r="0.74" fill="#d81416" opacity="0.70"/>
<circle cx="650.5" cy="328.9" r="1.02" fill="#d81416" opacity="0.59"/>
<circle cx="643.0" cy="313.4" r="0.61" fill="#d81416" opacity="0.70"/>
<circle cx="648.7" cy="315.7" r="0.52" fill="#d81416" opacity="0.78"/>
<circle cx="639.4" cy="306.9" r="0.66" fill="#d81416" opacity="0.75"/>
<circle cx="625.0" cy="292.8" r="0.82" fill="#d81416" opacity="0.68"/>
<circle cx="626.1" cy="289.2" r="0.99" fill="#d81416" opacity="0.77"/>
<circle cx="650.3" cy="319.6" r="1.02" fill="#d81416" opacity="0.68"/>
<circle cx="641.2" cy="310.6" r="1.02" fill="#d81416" opacity="0.50"/>
<circle cx="644.6" cy="313.4" r="0.67" fill="#d81416" opacity="0.82"/>
<circle cx="625.0" cy="297.3" r="0.70" fill="#d81416" opacity="0.79"/>
<circle cx="639.5" cy="297.3" r="1.04" fill="#d81416" opacity="0.51"/>
<circle cx="622.6" cy="295.5" r="1.05" fill="#d81416" opacity="0.77"/>
<circle cx="638.9" cy="314.9" r="1.00" fill="#d81416" opacity="0.76"/>
<circle cx="644.5" cy="316.7" r="0.85" fill="#d81416" opacity="0.57"/>
<circle cx="630.6" cy="301.7" r="0.99" fill="#d81416" opacity="0.67"/>
<circle cx="632.9" cy="302.1" r="1.10" fill="#d81416" opacity="0.58"/>
<circle cx="645.6" cy="306.0" r="0.70" fill="#d81416" opacity="0.62"/>
<circle cx="644.8" cy="328.2" r="1.12" fill="#d81416" opacity="0.61"/>
<circle cx="644.1" cy="317.9" r="0.64" fill="#d81416" opacity="0.78"/>
<circle cx="626.8" cy="290.3" r="0.77" fill="#d81416" opacity="0.50"/>
<circle cx="643.7" cy="331.4" r="0.53" fill="#d81416" opacity="0.79"/>
<circle cx="629.8" cy="296.1" r="1.08" fill="#d81416" opacity="0.81"/>
<circle cx="627.2" cy="297.7" r="1.00" fill="#d81416" opacity="0.47"/>
<circle cx="647.5" cy="331.5" r="1.08" fill="#d81416" opacity="0.53"/>
<circle cx="642.7" cy="334.4" r="1.01" fill="#d81416" opacity="0.83"/>
<circle cx="645.8" cy="316.0" r="1.12" fill="#d81416" opacity="0.82"/>
<circle cx="642.6" cy="327.0" r="0.63" fill="#d81416" opacity="0.83"/>
<circle cx="637.6" cy="308.2" r="0.66" fill="#d81416" opacity="0.55"/>
<circle cx="621.8" cy="295.5" r="0.67" fill="#d81416" opacity="0.77"/>
<circle cx="634.1" cy="307.2" r="0.60" fill="#d81416" opacity="0.60"/>
<circle cx="621.3" cy="293.6" r="0.96" fill="#d81416" opacity="0.51"/>
<circle cx="641.4" cy="313.8" r="0.74" fill="#d81416" opacity="0.83"/>
<circle cx="629.7" cy="299.8" r="0.54" fill="#d81416" opacity="0.74"/>
<circle cx="638.0" cy="303.4" r="0.55" fill="#d81416" opacity="0.66"/>
<circle cx="644.9" cy="318.4" r="1.01" fill="#d81416" opacity="0.71"/>
<circle cx="644.7" cy="306.9" r="0.69" fill="#d81416" opacity="0.65"/>
<circle cx="630.3" cy="301.5" r="0.65" fill="#d81416" opacity="0.60"/>
<circle cx="630.1" cy="296.4" r="1.14" fill="#d81416" opacity="0.55"/>
<circle cx="624.0" cy="291.7" r="0.99" fill="#d81416" opacity="0.72"/>
<circle cx="644.3" cy="332.8" r="0.80" fill="#d81416" opacity="0.75"/>
<circle cx="644.3" cy="333.9" r="1.12" fill="#d81416" opacity="0.47"/>
<circle cx="643.8" cy="321.2" r="0.72" fill="#d81416" opacity="0.78"/>
<circle cx="637.4" cy="304.6" r="0.76" fill="#d81416" opacity="0.63"/>
<circle cx="644.6" cy="307.7" r="0.89" fill="#d81416" opacity="0.53"/>
<circle cx="642.4" cy="310.7" r="1.06" fill="#d81416" opacity="0.49"/>
<circle cx="644.1" cy="334.1" r="0.94" fill="#d81416" opacity="0.64"/>
<circle cx="645.5" cy="320.8" r="0.83" fill="#d81416" opacity="0.48"/>
<circle cx="638.2" cy="297.7" r="1.02" fill="#d81416" opacity="0.72"/>
<circle cx="643.6" cy="335.0" r="1.12" fill="#d81416" opacity="0.78"/>
<circle cx="643.4" cy="308.8" r="0.87" fill="#d81416" opacity="0.48"/>
<circle cx="643.9" cy="318.6" r="1.12" fill="#d81416" opacity="0.52"/>
<circle cx="643.0" cy="328.2" r="1.14" fill="#d81416" opacity="0.66"/>
<circle cx="649.7" cy="314.8" r="1.13" fill="#d81416" opacity="0.65"/>
<circle cx="635.3" cy="300.4" r="0.96" fill="#d81416" opacity="0.83"/>
<circle cx="641.0" cy="316.3" r="0.62" fill="#d81416" opacity="0.84"/>
<circle cx="624.2" cy="292.4" r="0.86" fill="#d81416" opacity="0.57"/>
<circle cx="643.2" cy="301.8" r="0.79" fill="#d81416" opacity="0.65"/>
<circle cx="646.7" cy="321.0" r="0.54" fill="#d81416" opacity="0.63"/>
<circle cx="640.1" cy="332.4" r="0.63" fill="#d81416" opacity="0.82"/>
<circle cx="647.9" cy="329.2" r="0.92" fill="#d81416" opacity="0.64"/>
<circle cx="630.4" cy="300.2" r="0.79" fill="#d81416" opacity="0.71"/>
<circle cx="633.9" cy="297.4" r="0.54" fill="#d81416" opacity="0.57"/>
<circle cx="636.7" cy="300.4" r="0.94" fill="#d81416" opacity="0.55"/>
<circle cx="624.6" cy="292.5" r="0.92" fill="#d81416" opacity="0.70"/>
<circle cx="641.7" cy="321.2" r="0.99" fill="#d81416" opacity="0.83"/>
<circle cx="649.7" cy="316.5" r="1.02" fill="#d81416" opacity="0.73"/>
<circle cx="643.0" cy="330.0" r="0.94" fill="#d81416" opacity="0.76"/>
<circle cx="643.3" cy="331.4" r="1.06" fill="#d81416" opacity="0.65"/>
<circle cx="640.4" cy="312.4" r="1.08" fill="#d81416" opacity="0.74"/>
<circle cx="647.1" cy="310.3" r="0.62" fill="#d81416" opacity="0.49"/>
<circle cx="630.2" cy="299.1" r="0.99" fill="#d81416" opacity="0.76"/>
<circle cx="646.1" cy="308.8" r="1.09" fill="#d81416" opacity="0.67"/>
<circle cx="648.2" cy="334.5" r="0.97" fill="#d81416" opacity="0.47"/>
<circle cx="642.3" cy="315.9" r="0.96" fill="#d81416" opacity="0.71"/>
<circle cx="644.7" cy="318.4" r="0.55" fill="#d81416" opacity="0.82"/>
<circle cx="649.8" cy="330.5" r="0.91" fill="#d81416" opacity="0.85"/>
<circle cx="636.1" cy="307.8" r="1.11" fill="#d81416" opacity="0.55"/>
<circle cx="645.7" cy="323.6" r="1.09" fill="#d81416" opacity="0.55"/>
<circle cx="639.2" cy="302.6" r="0.75" fill="#d81416" opacity="0.67"/>
<circle cx="628.1" cy="298.7" r="0.64" fill="#d81416" opacity="0.74"/>
<circle cx="627.4" cy="293.0" r="0.96" fill="#d81416" opacity="0.79"/>
<circle cx="640.4" cy="314.1" r="0.53" fill="#d81416" opacity="0.81"/>
<circle cx="634.0" cy="303.6" r="1.08" fill="#d81416" opacity="0.68"/>
<circle cx="633.1" cy="301.8" r="0.87" fill="#d81416" opacity="0.85"/>
<circle cx="642.0" cy="315.4" r="0.78" fill="#d81416" opacity="0.75"/>
<circle cx="624.9" cy="288.7" r="0.56" fill="#d81416" opacity="0.61"/>
<circle cx="641.3" cy="321.5" r="0.75" fill="#d81416" opacity="0.83"/>
<circle cx="642.2" cy="332.5" r="1.02" fill="#d81416" opacity="0.70"/>
<circle cx="640.2" cy="331.9" r="0.96" fill="#d81416" opacity="0.50"/>
<circle cx="634.4" cy="306.5" r="0.77" fill="#d81416" opacity="0.56"/>
<circle cx="631.7" cy="301.4" r="0.79" fill="#d81416" opacity="0.63"/>
<circle cx="648.1" cy="328.6" r="0.51" fill="#d81416" opacity="0.59"/>
<circle cx="648.5" cy="317.6" r="0.94" fill="#d81416" opacity="0.74"/>
<circle cx="642.1" cy="299.0" r="1.01" fill="#d81416" opacity="0.84"/>
<circle cx="649.1" cy="316.7" r="1.02" fill="#d81416" opacity="0.80"/>
<circle cx="631.5" cy="294.2" r="0.89" fill="#d81416" opacity="0.52"/>
<circle cx="640.7" cy="331.3" r="1.10" fill="#d81416" opacity="0.75"/>
<circle cx="631.8" cy="301.9" r="0.95" fill="#d81416" opacity="0.55"/>
<circle cx="645.2" cy="321.1" r="0.76" fill="#d81416" opacity="0.57"/>
<circle cx="644.0" cy="333.7" r="1.14" fill="#d81416" opacity="0.66"/>
<circle cx="645.3" cy="322.0" r="0.80" fill="#d81416" opacity="0.55"/>
<circle cx="627.5" cy="297.3" r="0.58" fill="#d81416" opacity="0.81"/>
<circle cx="645.1" cy="331.9" r="0.58" fill="#d81416" opacity="0.56"/>
<circle cx="640.9" cy="328.5" r="0.95" fill="#d81416" opacity="0.53"/>
<circle cx="632.7" cy="294.7" r="0.74" fill="#d81416" opacity="0.75"/>
<circle cx="640.8" cy="322.9" r="0.92" fill="#d81416" opacity="0.58"/>
<circle cx="635.8" cy="302.5" r="0.92" fill="#d81416" opacity="0.66"/>
<circle cx="643.6" cy="303.7" r="0.95" fill="#d81416" opacity="0.77"/>
<circle cx="643.6" cy="301.7" r="0.85" fill="#d81416" opacity="0.55"/>
<circle cx="624.8" cy="289.5" r="0.67" fill="#d81416" opacity="0.77"/>
<circle cx="629.2" cy="298.0" r="0.63" fill="#d81416" opacity="0.77"/>
<circle cx="649.1" cy="326.2" r="0.72" fill="#d81416" opacity="0.58"/>
<circle cx="622.4" cy="294.8" r="1.03" fill="#d81416" opacity="0.49"/>
<circle cx="626.6" cy="292.9" r="0.74" fill="#d81416" opacity="0.50"/>
<circle cx="647.5" cy="315.3" r="0.94" fill="#d81416" opacity="0.49"/>
<circle cx="647.6" cy="310.9" r="0.53" fill="#d81416" opacity="0.50"/>
<circle cx="643.4" cy="314.9" r="1.05" fill="#d81416" opacity="0.56"/>
<circle cx="631.7" cy="290.1" r="1.11" fill="#d81416" opacity="0.54"/>
<circle cx="626.4" cy="292.9" r="1.12" fill="#d81416" opacity="0.83"/>
<circle cx="647.5" cy="335.8" r="0.72" fill="#d81416" opacity="0.76"/>
<circle cx="631.2" cy="295.3" r="0.98" fill="#d81416" opacity="0.82"/>
<circle cx="635.2" cy="296.3" r="0.60" fill="#d81416" opacity="0.72"/>
<circle cx="628.8" cy="294.8" r="0.78" fill="#d81416" opacity="0.72"/>
<circle cx="647.3" cy="314.3" r="0.75" fill="#d81416" opacity="0.55"/>
<circle cx="644.4" cy="343.2" r="0.82" fill="#c01012" opacity="0.51"/>
<circle cx="626.5" cy="369.6" r="0.56" fill="#c01012" opacity="0.47"/>
<circle cx="643.2" cy="335.8" r="0.66" fill="#c01012" opacity="0.45"/>
<circle cx="633.3" cy="351.8" r="0.80" fill="#c01012" opacity="0.42"/>
<circle cx="642.8" cy="345.1" r="0.64" fill="#c01012" opacity="0.43"/>
<circle cx="632.5" cy="357.3" r="0.72" fill="#c01012" opacity="0.59"/>
<circle cx="633.5" cy="361.5" r="0.89" fill="#c01012" opacity="0.43"/>
<circle cx="637.0" cy="346.8" r="0.59" fill="#c01012" opacity="0.35"/>
<circle cx="635.3" cy="348.4" r="0.87" fill="#c01012" opacity="0.37"/>
<circle cx="634.1" cy="359.4" r="0.77" fill="#c01012" opacity="0.49"/>
<circle cx="639.4" cy="345.8" r="0.58" fill="#c01012" opacity="0.58"/>
<circle cx="624.9" cy="370.9" r="0.48" fill="#c01012" opacity="0.55"/>
<circle cx="634.0" cy="356.5" r="0.73" fill="#c01012" opacity="0.52"/>
<circle cx="637.3" cy="349.0" r="0.68" fill="#c01012" opacity="0.40"/>
<circle cx="635.7" cy="350.2" r="0.66" fill="#c01012" opacity="0.49"/>
<circle cx="634.4" cy="359.7" r="0.50" fill="#c01012" opacity="0.34"/>
<circle cx="643.3" cy="343.5" r="0.75" fill="#c01012" opacity="0.43"/>
<circle cx="619.1" cy="369.3" r="0.88" fill="#c01012" opacity="0.33"/>
<circle cx="640.1" cy="341.7" r="0.77" fill="#c01012" opacity="0.36"/>
<circle cx="630.4" cy="364.2" r="0.81" fill="#c01012" opacity="0.59"/>
<circle cx="638.9" cy="347.2" r="0.87" fill="#c01012" opacity="0.47"/>
<circle cx="641.6" cy="349.3" r="0.84" fill="#c01012" opacity="0.47"/>
<circle cx="642.8" cy="334.2" r="0.63" fill="#c01012" opacity="0.60"/>
<circle cx="635.9" cy="355.8" r="0.49" fill="#c01012" opacity="0.53"/>
<circle cx="639.1" cy="337.2" r="0.78" fill="#c01012" opacity="0.59"/>
<circle cx="642.2" cy="346.6" r="0.56" fill="#c01012" opacity="0.48"/>
<circle cx="637.4" cy="347.5" r="0.64" fill="#c01012" opacity="0.57"/>
<circle cx="630.2" cy="364.7" r="0.74" fill="#c01012" opacity="0.39"/>
<circle cx="641.3" cy="351.2" r="0.48" fill="#c01012" opacity="0.34"/>
<circle cx="635.6" cy="358.6" r="0.56" fill="#c01012" opacity="0.37"/>
<circle cx="622.1" cy="369.4" r="0.65" fill="#c01012" opacity="0.36"/>
<circle cx="629.8" cy="363.5" r="0.48" fill="#c01012" opacity="0.51"/>
<circle cx="645.2" cy="342.6" r="0.50" fill="#c01012" opacity="0.38"/>
<circle cx="624.4" cy="368.2" r="0.57" fill="#c01012" opacity="0.58"/>
<circle cx="627.1" cy="361.3" r="0.78" fill="#c01012" opacity="0.48"/>
<circle cx="640.8" cy="334.5" r="0.53" fill="#c01012" opacity="0.46"/>
<circle cx="636.7" cy="347.0" r="0.45" fill="#c01012" opacity="0.44"/>
<circle cx="629.2" cy="365.5" r="0.84" fill="#c01012" opacity="0.51"/>
<circle cx="628.0" cy="368.2" r="0.74" fill="#c01012" opacity="0.48"/>
<circle cx="636.9" cy="357.4" r="0.88" fill="#c01012" opacity="0.37"/>
<circle cx="627.6" cy="368.8" r="0.79" fill="#c01012" opacity="0.39"/>
<circle cx="638.3" cy="341.6" r="0.47" fill="#c01012" opacity="0.35"/>
<circle cx="621.7" cy="369.8" r="0.78" fill="#c01012" opacity="0.41"/>
<circle cx="637.5" cy="351.9" r="0.61" fill="#c01012" opacity="0.53"/>
<circle cx="646.2" cy="339.8" r="0.50" fill="#c01012" opacity="0.48"/>
<circle cx="627.6" cy="368.4" r="0.89" fill="#c01012" opacity="0.43"/>
<circle cx="640.5" cy="345.9" r="0.94" fill="#c01012" opacity="0.55"/>
<circle cx="628.2" cy="369.6" r="0.78" fill="#c01012" opacity="0.58"/>
<circle cx="643.2" cy="344.7" r="0.53" fill="#c01012" opacity="0.41"/>
<circle cx="636.6" cy="348.3" r="0.58" fill="#c01012" opacity="0.46"/>
<circle cx="645.6" cy="338.0" r="0.45" fill="#c01012" opacity="0.54"/>
<circle cx="638.6" cy="353.5" r="0.73" fill="#c01012" opacity="0.36"/>
<circle cx="640.7" cy="344.9" r="0.52" fill="#c01012" opacity="0.36"/>
<circle cx="636.1" cy="355.8" r="0.47" fill="#c01012" opacity="0.43"/>
<circle cx="636.0" cy="350.2" r="0.89" fill="#c01012" opacity="0.59"/>
<circle cx="637.1" cy="343.2" r="0.85" fill="#c01012" opacity="0.38"/>
<circle cx="633.0" cy="363.3" r="0.92" fill="#c01012" opacity="0.55"/>
<circle cx="639.1" cy="351.2" r="0.89" fill="#c01012" opacity="0.56"/>
<circle cx="640.4" cy="350.9" r="0.86" fill="#c01012" opacity="0.57"/>
<circle cx="640.4" cy="351.6" r="0.88" fill="#c01012" opacity="0.59"/>
<circle cx="636.9" cy="353.6" r="0.87" fill="#c01012" opacity="0.42"/>
<circle cx="646.8" cy="336.0" r="0.93" fill="#c01012" opacity="0.40"/>
<circle cx="640.8" cy="341.4" r="0.67" fill="#c01012" opacity="0.60"/>
<circle cx="642.3" cy="342.4" r="0.80" fill="#c01012" opacity="0.33"/>
<circle cx="623.8" cy="367.8" r="0.55" fill="#c01012" opacity="0.45"/>
<circle cx="632.8" cy="355.4" r="0.90" fill="#c01012" opacity="0.47"/>
<circle cx="631.1" cy="362.2" r="0.55" fill="#c01012" opacity="0.51"/>
<circle cx="630.8" cy="358.8" r="0.60" fill="#c01012" opacity="0.48"/>
<circle cx="644.5" cy="335.8" r="0.75" fill="#c01012" opacity="0.42"/>
<circle cx="628.3" cy="363.5" r="0.90" fill="#c01012" opacity="0.54"/>
<circle cx="638.6" cy="345.7" r="0.76" fill="#c01012" opacity="0.36"/>
<circle cx="635.7" cy="349.7" r="0.46" fill="#c01012" opacity="0.40"/>
<circle cx="626.7" cy="364.4" r="0.89" fill="#c01012" opacity="0.49"/>
<circle cx="630.9" cy="359.7" r="0.45" fill="#c01012" opacity="0.53"/>
<circle cx="639.3" cy="341.0" r="0.80" fill="#c01012" opacity="0.46"/>
<circle cx="625.5" cy="370.3" r="0.85" fill="#c01012" opacity="0.51"/>
<circle cx="623.7" cy="369.2" r="0.76" fill="#c01012" opacity="0.52"/>
<circle cx="626.7" cy="366.9" r="0.53" fill="#c01012" opacity="0.56"/>
<circle cx="629.4" cy="364.6" r="0.83" fill="#c01012" opacity="0.47"/>
<circle cx="638.0" cy="351.5" r="0.59" fill="#c01012" opacity="0.42"/>
</g>
<ellipse cx="620.5" cy="298.3" rx="1.4" ry="1.2" transform="rotate(0 620.5 298.3)" fill="#ff2020" opacity="1" filter="url(#b05)"/>
<ellipse cx="634.7" cy="305.5" rx="1.3" ry="1.3" transform="rotate(0 634.7 305.5)" fill="#f02020" opacity="1" filter="url(#b05)"/>
<ellipse cx="646.5" cy="309.0" rx="1.2" ry="1.2" transform="rotate(0 646.5 309.0)" fill="#f02020" opacity="1" filter="url(#b05)"/>
<path d="M540.0 328.2L540.6 327.4L541.3 326.4L542.3 325.1L543.5 323.7L545.2 322.2L547.4 320.7L550.5 319.1L554.4 317.2L558.8 315.3L563.1 313.4L566.9 311.7L569.8 310.3L571.5 309.4L572.5 308.7L573.0 308.2L573.3 307.9L573.6 307.6L574.2 307.3L575.1 307.1L576.1 306.8L577.1 306.7L578.2 306.6L579.2 306.5L580.2 306.4L581.1 306.6L581.7 306.9L582.4 307.3L583.3 307.5L584.5 307.3L586.2 306.4L588.6 304.7L591.6 302.1L595.0 299.2L598.4 296.2L601.5 293.5L604.0 291.5L606.0 290.2L607.5 289.3L608.8 288.7L609.9 288.4L611.0 288.3L612.1 288.3L613.3 288.4L614.5 288.9L615.7 289.5L616.7 290.2L617.6 291.0L618.4 291.8L618.9 292.7L619.4 293.6L619.7 294.6L619.8 295.6L619.8 296.6L619.5 297.5L619.1 298.4L618.4 299.2L617.5 300.0L616.4 300.8L615.2 301.4L613.9 302.0L612.4 302.3L610.8 302.3L609.0 302.2L607.1 302.2L605.2 302.4L603.2 302.9L601.0 303.8L598.5 305.0L596.0 306.4L593.6 307.8L591.4 309.2L589.7 310.3L588.6 311.2L588.0 312.1L587.6 312.8L587.4 313.5L587.0 314.1L586.5 314.8L585.6 315.4L584.7 316.1L583.7 316.7L582.7 317.3L581.6 317.8L580.5 318.1L579.5 318.1L578.5 317.8L577.6 317.4L576.4 317.1L575.1 317.1L573.3 317.5L571.2 318.5L568.6 319.9L565.7 321.7L562.8 323.5L559.9 325.1L557.2 326.4L554.7 327.4L552.1 328.3L549.6 329.0L547.3 329.6L545.2 330.0L543.5 330.3L542.3 330.3L541.5 330.0L540.9 329.5L540.5 329.0L540.2 328.5L540.0 328.2Z" fill="#5a0505" fill-opacity="0.35" stroke="#f2f2f2" stroke-width="0.75"/>
</svg>
<svg x="656.2" y="284.7" width="117.8" height="118.0" viewBox="656.2 284.7 117.8 118.0" overflow="hidden">
<rect x="656.2" y="284.7" width="117.8" height="118.0" fill="url(#redbg)"/>
<path d="M743.5 291.5L744.3 292.0L745.4 292.5L746.8 293.2L748.2 294.0L749.7 294.9L751.3 295.8L752.7 296.9L754.0 298.0L755.2 299.2L756.4 300.6L757.6 302.1L758.7 303.6L759.8 305.2L760.8 306.8L761.7 308.4L762.5 310.0L763.2 311.6L763.8 313.2L764.2 314.8L764.7 316.5L765.0 318.2L765.2 319.8L765.4 321.4L765.5 323.0L765.5 324.6L765.4 326.1L765.2 327.6L764.9 329.1L764.6 330.6L764.2 332.1L763.9 333.6L763.5 335.0L763.2 336.4L762.8 337.9L762.4 339.3L762.0 340.7L761.6 342.0L761.1 343.4L760.6 344.7L760.0 346.0L759.4 347.3L758.7 348.5L758.0 349.7L757.2 350.8L756.4 352.0L755.6 353.2L754.8 354.3L754.0 355.5L753.2 356.7L752.3 357.9L751.4 359.2L750.5 360.4L749.6 361.6L748.7 362.8L747.8 363.9L747.0 365.0L746.2 366.0L745.3 367.1L744.4 368.1L743.6 369.1L742.8 370.0L742.1 370.8L741.5 371.5L741.0 372.0" fill="none" stroke="#8a0606" stroke-width="7" filter="url(#b2)" opacity="0.35"/>
<g filter="url(#b05)">
<circle cx="766.9" cy="315.3" r="0.75" fill="#d81416" opacity="0.81"/>
<circle cx="760.5" cy="308.1" r="0.87" fill="#d81416" opacity="0.77"/>
<circle cx="743.9" cy="290.8" r="0.97" fill="#d81416" opacity="0.53"/>
<circle cx="762.2" cy="334.2" r="0.78" fill="#d81416" opacity="0.58"/>
<circle cx="760.3" cy="298.2" r="0.86" fill="#d81416" opacity="0.47"/>
<circle cx="747.4" cy="299.3" r="0.53" fill="#d81416" opacity="0.59"/>
<circle cx="768.9" cy="335.3" r="1.02" fill="#d81416" opacity="0.49"/>
<circle cx="768.7" cy="315.5" r="0.93" fill="#d81416" opacity="0.66"/>
<circle cx="766.9" cy="315.2" r="1.11" fill="#d81416" opacity="0.62"/>
<circle cx="762.4" cy="328.5" r="0.93" fill="#d81416" opacity="0.59"/>
<circle cx="750.2" cy="299.3" r="0.94" fill="#d81416" opacity="0.79"/>
<circle cx="747.0" cy="299.9" r="0.77" fill="#d81416" opacity="0.74"/>
<circle cx="747.5" cy="295.6" r="1.13" fill="#d81416" opacity="0.56"/>
<circle cx="766.6" cy="319.3" r="1.01" fill="#d81416" opacity="0.50"/>
<circle cx="760.7" cy="306.0" r="0.75" fill="#d81416" opacity="0.74"/>
<circle cx="765.5" cy="334.9" r="0.98" fill="#d81416" opacity="0.55"/>
<circle cx="755.8" cy="295.7" r="0.66" fill="#d81416" opacity="0.85"/>
<circle cx="763.4" cy="329.4" r="0.65" fill="#d81416" opacity="0.73"/>
<circle cx="748.7" cy="298.8" r="0.63" fill="#d81416" opacity="0.76"/>
<circle cx="760.2" cy="318.1" r="0.52" fill="#d81416" opacity="0.69"/>
<circle cx="752.0" cy="298.5" r="0.62" fill="#d81416" opacity="0.75"/>
<circle cx="749.6" cy="289.2" r="0.64" fill="#d81416" opacity="0.62"/>
<circle cx="763.6" cy="307.5" r="0.65" fill="#d81416" opacity="0.51"/>
<circle cx="759.2" cy="306.7" r="0.82" fill="#d81416" opacity="0.79"/>
<circle cx="749.6" cy="294.3" r="0.62" fill="#d81416" opacity="0.65"/>
<circle cx="748.3" cy="291.0" r="0.74" fill="#d81416" opacity="0.70"/>
<circle cx="770.5" cy="328.9" r="1.02" fill="#d81416" opacity="0.59"/>
<circle cx="763.0" cy="313.4" r="0.61" fill="#d81416" opacity="0.70"/>
<circle cx="768.7" cy="315.7" r="0.52" fill="#d81416" opacity="0.78"/>
<circle cx="759.4" cy="306.9" r="0.66" fill="#d81416" opacity="0.75"/>
<circle cx="745.0" cy="292.8" r="0.82" fill="#d81416" opacity="0.68"/>
<circle cx="746.1" cy="289.2" r="0.99" fill="#d81416" opacity="0.77"/>
<circle cx="770.3" cy="319.6" r="1.02" fill="#d81416" opacity="0.68"/>
<circle cx="761.2" cy="310.6" r="1.02" fill="#d81416" opacity="0.50"/>
<circle cx="764.6" cy="313.4" r="0.67" fill="#d81416" opacity="0.82"/>
<circle cx="745.0" cy="297.3" r="0.70" fill="#d81416" opacity="0.79"/>
<circle cx="759.5" cy="297.3" r="1.04" fill="#d81416" opacity="0.51"/>
<circle cx="742.6" cy="295.5" r="1.05" fill="#d81416" opacity="0.77"/>
<circle cx="758.9" cy="314.9" r="1.00" fill="#d81416" opacity="0.76"/>
<circle cx="764.5" cy="316.7" r="0.85" fill="#d81416" opacity="0.57"/>
<circle cx="750.6" cy="301.7" r="0.99" fill="#d81416" opacity="0.67"/>
<circle cx="752.9" cy="302.1" r="1.10" fill="#d81416" opacity="0.58"/>
<circle cx="765.6" cy="306.0" r="0.70" fill="#d81416" opacity="0.62"/>
<circle cx="764.8" cy="328.2" r="1.12" fill="#d81416" opacity="0.61"/>
<circle cx="764.1" cy="317.9" r="0.64" fill="#d81416" opacity="0.78"/>
<circle cx="746.8" cy="290.3" r="0.77" fill="#d81416" opacity="0.50"/>
<circle cx="763.7" cy="331.4" r="0.53" fill="#d81416" opacity="0.79"/>
<circle cx="749.8" cy="296.1" r="1.08" fill="#d81416" opacity="0.81"/>
<circle cx="747.2" cy="297.7" r="1.00" fill="#d81416" opacity="0.47"/>
<circle cx="767.5" cy="331.5" r="1.08" fill="#d81416" opacity="0.53"/>
<circle cx="762.7" cy="334.4" r="1.01" fill="#d81416" opacity="0.83"/>
<circle cx="765.8" cy="316.0" r="1.12" fill="#d81416" opacity="0.82"/>
<circle cx="762.6" cy="327.0" r="0.63" fill="#d81416" opacity="0.83"/>
<circle cx="757.6" cy="308.2" r="0.66" fill="#d81416" opacity="0.55"/>
<circle cx="741.8" cy="295.5" r="0.67" fill="#d81416" opacity="0.77"/>
<circle cx="754.1" cy="307.2" r="0.60" fill="#d81416" opacity="0.60"/>
<circle cx="741.3" cy="293.6" r="0.96" fill="#d81416" opacity="0.51"/>
<circle cx="761.4" cy="313.8" r="0.74" fill="#d81416" opacity="0.83"/>
<circle cx="749.7" cy="299.8" r="0.54" fill="#d81416" opacity="0.74"/>
<circle cx="758.0" cy="303.4" r="0.55" fill="#d81416" opacity="0.66"/>
<circle cx="764.9" cy="318.4" r="1.01" fill="#d81416" opacity="0.71"/>
<circle cx="764.7" cy="306.9" r="0.69" fill="#d81416" opacity="0.65"/>
<circle cx="750.3" cy="301.5" r="0.65" fill="#d81416" opacity="0.60"/>
<circle cx="750.1" cy="296.4" r="1.14" fill="#d81416" opacity="0.55"/>
<circle cx="744.0" cy="291.7" r="0.99" fill="#d81416" opacity="0.72"/>
<circle cx="764.3" cy="332.8" r="0.80" fill="#d81416" opacity="0.75"/>
<circle cx="764.3" cy="333.9" r="1.12" fill="#d81416" opacity="0.47"/>
<circle cx="763.8" cy="321.2" r="0.72" fill="#d81416" opacity="0.78"/>
<circle cx="757.4" cy="304.6" r="0.76" fill="#d81416" opacity="0.63"/>
<circle cx="764.6" cy="307.7" r="0.89" fill="#d81416" opacity="0.53"/>
<circle cx="762.4" cy="310.7" r="1.06" fill="#d81416" opacity="0.49"/>
<circle cx="764.1" cy="334.1" r="0.94" fill="#d81416" opacity="0.64"/>
<circle cx="765.5" cy="320.8" r="0.83" fill="#d81416" opacity="0.48"/>
<circle cx="758.2" cy="297.7" r="1.02" fill="#d81416" opacity="0.72"/>
<circle cx="763.6" cy="335.0" r="1.12" fill="#d81416" opacity="0.78"/>
<circle cx="763.4" cy="308.8" r="0.87" fill="#d81416" opacity="0.48"/>
<circle cx="763.9" cy="318.6" r="1.12" fill="#d81416" opacity="0.52"/>
<circle cx="763.0" cy="328.2" r="1.14" fill="#d81416" opacity="0.66"/>
<circle cx="769.7" cy="314.8" r="1.13" fill="#d81416" opacity="0.65"/>
<circle cx="755.3" cy="300.4" r="0.96" fill="#d81416" opacity="0.83"/>
<circle cx="761.0" cy="316.3" r="0.62" fill="#d81416" opacity="0.84"/>
<circle cx="744.2" cy="292.4" r="0.86" fill="#d81416" opacity="0.57"/>
<circle cx="763.2" cy="301.8" r="0.79" fill="#d81416" opacity="0.65"/>
<circle cx="766.7" cy="321.0" r="0.54" fill="#d81416" opacity="0.63"/>
<circle cx="760.1" cy="332.4" r="0.63" fill="#d81416" opacity="0.82"/>
<circle cx="767.9" cy="329.2" r="0.92" fill="#d81416" opacity="0.64"/>
<circle cx="750.4" cy="300.2" r="0.79" fill="#d81416" opacity="0.71"/>
<circle cx="753.9" cy="297.4" r="0.54" fill="#d81416" opacity="0.57"/>
<circle cx="756.7" cy="300.4" r="0.94" fill="#d81416" opacity="0.55"/>
<circle cx="744.6" cy="292.5" r="0.92" fill="#d81416" opacity="0.70"/>
<circle cx="761.7" cy="321.2" r="0.99" fill="#d81416" opacity="0.83"/>
<circle cx="769.7" cy="316.5" r="1.02" fill="#d81416" opacity="0.73"/>
<circle cx="763.0" cy="330.0" r="0.94" fill="#d81416" opacity="0.76"/>
<circle cx="763.3" cy="331.4" r="1.06" fill="#d81416" opacity="0.65"/>
<circle cx="760.4" cy="312.4" r="1.08" fill="#d81416" opacity="0.74"/>
<circle cx="767.1" cy="310.3" r="0.62" fill="#d81416" opacity="0.49"/>
<circle cx="750.2" cy="299.1" r="0.99" fill="#d81416" opacity="0.76"/>
<circle cx="766.1" cy="308.8" r="1.09" fill="#d81416" opacity="0.67"/>
<circle cx="768.2" cy="334.5" r="0.97" fill="#d81416" opacity="0.47"/>
<circle cx="762.3" cy="315.9" r="0.96" fill="#d81416" opacity="0.71"/>
<circle cx="764.7" cy="318.4" r="0.55" fill="#d81416" opacity="0.82"/>
<circle cx="769.8" cy="330.5" r="0.91" fill="#d81416" opacity="0.85"/>
<circle cx="756.1" cy="307.8" r="1.11" fill="#d81416" opacity="0.55"/>
<circle cx="765.7" cy="323.6" r="1.09" fill="#d81416" opacity="0.55"/>
<circle cx="759.2" cy="302.6" r="0.75" fill="#d81416" opacity="0.67"/>
<circle cx="748.1" cy="298.7" r="0.64" fill="#d81416" opacity="0.74"/>
<circle cx="747.4" cy="293.0" r="0.96" fill="#d81416" opacity="0.79"/>
<circle cx="760.4" cy="314.1" r="0.53" fill="#d81416" opacity="0.81"/>
<circle cx="754.0" cy="303.6" r="1.08" fill="#d81416" opacity="0.68"/>
<circle cx="753.1" cy="301.8" r="0.87" fill="#d81416" opacity="0.85"/>
<circle cx="762.0" cy="315.4" r="0.78" fill="#d81416" opacity="0.75"/>
<circle cx="744.9" cy="288.7" r="0.56" fill="#d81416" opacity="0.61"/>
<circle cx="761.3" cy="321.5" r="0.75" fill="#d81416" opacity="0.83"/>
<circle cx="762.2" cy="332.5" r="1.02" fill="#d81416" opacity="0.70"/>
<circle cx="760.2" cy="331.9" r="0.96" fill="#d81416" opacity="0.50"/>
<circle cx="754.4" cy="306.5" r="0.77" fill="#d81416" opacity="0.56"/>
<circle cx="751.7" cy="301.4" r="0.79" fill="#d81416" opacity="0.63"/>
<circle cx="768.1" cy="328.6" r="0.51" fill="#d81416" opacity="0.59"/>
<circle cx="768.5" cy="317.6" r="0.94" fill="#d81416" opacity="0.74"/>
<circle cx="762.1" cy="299.0" r="1.01" fill="#d81416" opacity="0.84"/>
<circle cx="769.1" cy="316.7" r="1.02" fill="#d81416" opacity="0.80"/>
<circle cx="751.5" cy="294.2" r="0.89" fill="#d81416" opacity="0.52"/>
<circle cx="760.7" cy="331.3" r="1.10" fill="#d81416" opacity="0.75"/>
<circle cx="751.8" cy="301.9" r="0.95" fill="#d81416" opacity="0.55"/>
<circle cx="765.2" cy="321.1" r="0.76" fill="#d81416" opacity="0.57"/>
<circle cx="764.0" cy="333.7" r="1.14" fill="#d81416" opacity="0.66"/>
<circle cx="765.3" cy="322.0" r="0.80" fill="#d81416" opacity="0.55"/>
<circle cx="747.5" cy="297.3" r="0.58" fill="#d81416" opacity="0.81"/>
<circle cx="765.1" cy="331.9" r="0.58" fill="#d81416" opacity="0.56"/>
<circle cx="760.9" cy="328.5" r="0.95" fill="#d81416" opacity="0.53"/>
<circle cx="752.7" cy="294.7" r="0.74" fill="#d81416" opacity="0.75"/>
<circle cx="760.8" cy="322.9" r="0.92" fill="#d81416" opacity="0.58"/>
<circle cx="755.8" cy="302.5" r="0.92" fill="#d81416" opacity="0.66"/>
<circle cx="763.6" cy="303.7" r="0.95" fill="#d81416" opacity="0.77"/>
<circle cx="763.6" cy="301.7" r="0.85" fill="#d81416" opacity="0.55"/>
<circle cx="744.8" cy="289.5" r="0.67" fill="#d81416" opacity="0.77"/>
<circle cx="749.2" cy="298.0" r="0.63" fill="#d81416" opacity="0.77"/>
<circle cx="769.1" cy="326.2" r="0.72" fill="#d81416" opacity="0.58"/>
<circle cx="742.4" cy="294.8" r="1.03" fill="#d81416" opacity="0.49"/>
<circle cx="746.6" cy="292.9" r="0.74" fill="#d81416" opacity="0.50"/>
<circle cx="767.5" cy="315.3" r="0.94" fill="#d81416" opacity="0.49"/>
<circle cx="767.6" cy="310.9" r="0.53" fill="#d81416" opacity="0.50"/>
<circle cx="763.4" cy="314.9" r="1.05" fill="#d81416" opacity="0.56"/>
<circle cx="751.7" cy="290.1" r="1.11" fill="#d81416" opacity="0.54"/>
<circle cx="746.4" cy="292.9" r="1.12" fill="#d81416" opacity="0.83"/>
<circle cx="767.5" cy="335.8" r="0.72" fill="#d81416" opacity="0.76"/>
<circle cx="751.2" cy="295.3" r="0.98" fill="#d81416" opacity="0.82"/>
<circle cx="755.2" cy="296.3" r="0.60" fill="#d81416" opacity="0.72"/>
<circle cx="748.8" cy="294.8" r="0.78" fill="#d81416" opacity="0.72"/>
<circle cx="767.3" cy="314.3" r="0.75" fill="#d81416" opacity="0.55"/>
<circle cx="764.4" cy="343.2" r="0.82" fill="#c01012" opacity="0.51"/>
<circle cx="746.5" cy="369.6" r="0.56" fill="#c01012" opacity="0.47"/>
<circle cx="763.2" cy="335.8" r="0.66" fill="#c01012" opacity="0.45"/>
<circle cx="753.3" cy="351.8" r="0.80" fill="#c01012" opacity="0.42"/>
<circle cx="762.8" cy="345.1" r="0.64" fill="#c01012" opacity="0.43"/>
<circle cx="752.5" cy="357.3" r="0.72" fill="#c01012" opacity="0.59"/>
<circle cx="753.5" cy="361.5" r="0.89" fill="#c01012" opacity="0.43"/>
<circle cx="757.0" cy="346.8" r="0.59" fill="#c01012" opacity="0.35"/>
<circle cx="755.3" cy="348.4" r="0.87" fill="#c01012" opacity="0.37"/>
<circle cx="754.1" cy="359.4" r="0.77" fill="#c01012" opacity="0.49"/>
<circle cx="759.4" cy="345.8" r="0.58" fill="#c01012" opacity="0.58"/>
<circle cx="744.9" cy="370.9" r="0.48" fill="#c01012" opacity="0.55"/>
<circle cx="754.0" cy="356.5" r="0.73" fill="#c01012" opacity="0.52"/>
<circle cx="757.3" cy="349.0" r="0.68" fill="#c01012" opacity="0.40"/>
<circle cx="755.7" cy="350.2" r="0.66" fill="#c01012" opacity="0.49"/>
<circle cx="754.4" cy="359.7" r="0.50" fill="#c01012" opacity="0.34"/>
<circle cx="763.3" cy="343.5" r="0.75" fill="#c01012" opacity="0.43"/>
<circle cx="739.1" cy="369.3" r="0.88" fill="#c01012" opacity="0.33"/>
<circle cx="760.1" cy="341.7" r="0.77" fill="#c01012" opacity="0.36"/>
<circle cx="750.4" cy="364.2" r="0.81" fill="#c01012" opacity="0.59"/>
<circle cx="758.9" cy="347.2" r="0.87" fill="#c01012" opacity="0.47"/>
<circle cx="761.6" cy="349.3" r="0.84" fill="#c01012" opacity="0.47"/>
<circle cx="762.8" cy="334.2" r="0.63" fill="#c01012" opacity="0.60"/>
<circle cx="755.9" cy="355.8" r="0.49" fill="#c01012" opacity="0.53"/>
<circle cx="759.1" cy="337.2" r="0.78" fill="#c01012" opacity="0.59"/>
<circle cx="762.2" cy="346.6" r="0.56" fill="#c01012" opacity="0.48"/>
<circle cx="757.4" cy="347.5" r="0.64" fill="#c01012" opacity="0.57"/>
<circle cx="750.2" cy="364.7" r="0.74" fill="#c01012" opacity="0.39"/>
<circle cx="761.3" cy="351.2" r="0.48" fill="#c01012" opacity="0.34"/>
<circle cx="755.6" cy="358.6" r="0.56" fill="#c01012" opacity="0.37"/>
<circle cx="742.1" cy="369.4" r="0.65" fill="#c01012" opacity="0.36"/>
<circle cx="749.8" cy="363.5" r="0.48" fill="#c01012" opacity="0.51"/>
<circle cx="765.2" cy="342.6" r="0.50" fill="#c01012" opacity="0.38"/>
<circle cx="744.4" cy="368.2" r="0.57" fill="#c01012" opacity="0.58"/>
<circle cx="747.1" cy="361.3" r="0.78" fill="#c01012" opacity="0.48"/>
<circle cx="760.8" cy="334.5" r="0.53" fill="#c01012" opacity="0.46"/>
<circle cx="756.7" cy="347.0" r="0.45" fill="#c01012" opacity="0.44"/>
<circle cx="749.2" cy="365.5" r="0.84" fill="#c01012" opacity="0.51"/>
<circle cx="748.0" cy="368.2" r="0.74" fill="#c01012" opacity="0.48"/>
<circle cx="756.9" cy="357.4" r="0.88" fill="#c01012" opacity="0.37"/>
<circle cx="747.6" cy="368.8" r="0.79" fill="#c01012" opacity="0.39"/>
<circle cx="758.3" cy="341.6" r="0.47" fill="#c01012" opacity="0.35"/>
<circle cx="741.7" cy="369.8" r="0.78" fill="#c01012" opacity="0.41"/>
<circle cx="757.5" cy="351.9" r="0.61" fill="#c01012" opacity="0.53"/>
<circle cx="766.2" cy="339.8" r="0.50" fill="#c01012" opacity="0.48"/>
<circle cx="747.6" cy="368.4" r="0.89" fill="#c01012" opacity="0.43"/>
<circle cx="760.5" cy="345.9" r="0.94" fill="#c01012" opacity="0.55"/>
<circle cx="748.2" cy="369.6" r="0.78" fill="#c01012" opacity="0.58"/>
<circle cx="763.2" cy="344.7" r="0.53" fill="#c01012" opacity="0.41"/>
<circle cx="756.6" cy="348.3" r="0.58" fill="#c01012" opacity="0.46"/>
<circle cx="765.6" cy="338.0" r="0.45" fill="#c01012" opacity="0.54"/>
<circle cx="758.6" cy="353.5" r="0.73" fill="#c01012" opacity="0.36"/>
<circle cx="760.7" cy="344.9" r="0.52" fill="#c01012" opacity="0.36"/>
<circle cx="756.1" cy="355.8" r="0.47" fill="#c01012" opacity="0.43"/>
<circle cx="756.0" cy="350.2" r="0.89" fill="#c01012" opacity="0.59"/>
<circle cx="757.1" cy="343.2" r="0.85" fill="#c01012" opacity="0.38"/>
<circle cx="753.0" cy="363.3" r="0.92" fill="#c01012" opacity="0.55"/>
<circle cx="759.1" cy="351.2" r="0.89" fill="#c01012" opacity="0.56"/>
<circle cx="760.4" cy="350.9" r="0.86" fill="#c01012" opacity="0.57"/>
<circle cx="760.4" cy="351.6" r="0.88" fill="#c01012" opacity="0.59"/>
<circle cx="756.9" cy="353.6" r="0.87" fill="#c01012" opacity="0.42"/>
<circle cx="766.8" cy="336.0" r="0.93" fill="#c01012" opacity="0.40"/>
<circle cx="760.8" cy="341.4" r="0.67" fill="#c01012" opacity="0.60"/>
<circle cx="762.3" cy="342.4" r="0.80" fill="#c01012" opacity="0.33"/>
<circle cx="743.8" cy="367.8" r="0.55" fill="#c01012" opacity="0.45"/>
<circle cx="752.8" cy="355.4" r="0.90" fill="#c01012" opacity="0.47"/>
<circle cx="751.1" cy="362.2" r="0.55" fill="#c01012" opacity="0.51"/>
<circle cx="750.8" cy="358.8" r="0.60" fill="#c01012" opacity="0.48"/>
<circle cx="764.5" cy="335.8" r="0.75" fill="#c01012" opacity="0.42"/>
<circle cx="748.3" cy="363.5" r="0.90" fill="#c01012" opacity="0.54"/>
<circle cx="758.6" cy="345.7" r="0.76" fill="#c01012" opacity="0.36"/>
<circle cx="755.7" cy="349.7" r="0.46" fill="#c01012" opacity="0.40"/>
<circle cx="746.7" cy="364.4" r="0.89" fill="#c01012" opacity="0.49"/>
<circle cx="750.9" cy="359.7" r="0.45" fill="#c01012" opacity="0.53"/>
<circle cx="759.3" cy="341.0" r="0.80" fill="#c01012" opacity="0.46"/>
<circle cx="745.5" cy="370.3" r="0.85" fill="#c01012" opacity="0.51"/>
<circle cx="743.7" cy="369.2" r="0.76" fill="#c01012" opacity="0.52"/>
<circle cx="746.7" cy="366.9" r="0.53" fill="#c01012" opacity="0.56"/>
<circle cx="749.4" cy="364.6" r="0.83" fill="#c01012" opacity="0.47"/>
<circle cx="758.0" cy="351.5" r="0.59" fill="#c01012" opacity="0.42"/>
</g>
<ellipse cx="740.5" cy="298.3" rx="1.4" ry="1.2" transform="rotate(0 740.5 298.3)" fill="#ff2020" opacity="1" filter="url(#b05)"/>
<ellipse cx="754.7" cy="305.5" rx="1.3" ry="1.3" transform="rotate(0 754.7 305.5)" fill="#f02020" opacity="1" filter="url(#b05)"/>
<ellipse cx="766.5" cy="309.0" rx="1.2" ry="1.2" transform="rotate(0 766.5 309.0)" fill="#f02020" opacity="1" filter="url(#b05)"/>
<path d="M660.0 328.2L660.6 327.4L661.3 326.4L662.3 325.1L663.5 323.7L665.2 322.2L667.4 320.7L670.5 319.1L674.4 317.2L678.8 315.3L683.1 313.4L686.9 311.7L689.8 310.3L691.5 309.4L692.5 308.7L693.0 308.2L693.3 307.9L693.6 307.6L694.2 307.3L695.1 307.1L696.1 306.8L697.1 306.7L698.2 306.6L699.2 306.5L700.2 306.4L701.1 306.6L701.7 306.9L702.4 307.3L703.3 307.5L704.5 307.3L706.2 306.4L708.6 304.7L711.6 302.1L715.0 299.2L718.4 296.2L721.5 293.5L724.0 291.5L726.0 290.2L727.5 289.3L728.8 288.7L729.9 288.4L731.0 288.3L732.1 288.3L733.3 288.4L734.5 288.9L735.7 289.5L736.7 290.2L737.6 291.0L738.4 291.8L738.9 292.7L739.4 293.6L739.7 294.6L739.8 295.6L739.8 296.6L739.5 297.5L739.1 298.4L738.4 299.2L737.5 300.0L736.4 300.8L735.2 301.4L733.9 302.0L732.4 302.3L730.8 302.3L729.0 302.2L727.1 302.2L725.2 302.4L723.2 302.9L721.0 303.8L718.5 305.0L716.0 306.4L713.6 307.8L711.4 309.2L709.7 310.3L708.6 311.2L708.0 312.1L707.6 312.8L707.4 313.5L707.0 314.1L706.5 314.8L705.6 315.4L704.7 316.1L703.7 316.7L702.7 317.3L701.6 317.8L700.5 318.1L699.5 318.1L698.5 317.8L697.6 317.4L696.4 317.1L695.1 317.1L693.3 317.5L691.2 318.5L688.6 319.9L685.7 321.7L682.8 323.5L679.9 325.1L677.2 326.4L674.7 327.4L672.1 328.3L669.6 329.0L667.3 329.6L665.2 330.0L663.5 330.3L662.3 330.3L661.5 330.0L660.9 329.5L660.5 329.0L660.2 328.5L660.0 328.2Z" fill="#6a0808" fill-opacity="0.3" stroke="#8a1212" stroke-width="0.7" filter="url(#b05)" stroke-opacity="0.8"/>
<ellipse cx="744.6" cy="301.5" rx="5.8" ry="2.1" transform="rotate(15 744.6 301.5)" fill="#c8f020" opacity="1" filter="url(#b05)"/>
<ellipse cx="740.5" cy="300.5" rx="2.5" ry="1.6" transform="rotate(15 740.5 300.5)" fill="#ffe020" opacity="0.9" filter="url(#b05)"/>
<ellipse cx="766.6" cy="310.6" rx="1.9" ry="4.4" transform="rotate(8 766.6 310.6)" fill="#a8f020" opacity="1" filter="url(#b05)"/>
<ellipse cx="713.3" cy="293.5" rx="3.2" ry="1.7" transform="rotate(-30 713.3 293.5)" fill="#3a8a14" opacity="0.85" filter="url(#b08)"/>
<ellipse cx="718.8" cy="308.8" rx="3.0" ry="2.6" transform="rotate(0 718.8 308.8)" fill="#4a8a14" opacity="0.85" filter="url(#b08)"/>
<ellipse cx="742.0" cy="362.0" rx="2.5" ry="8" transform="rotate(35 742.0 362.0)" fill="#5a5a08" opacity="0.6" filter="url(#b2)"/>
<rect x="743" y="398.8" width="28.2" height="2.5" fill="#fff"/>
</svg>
<text x="68.1" y="427.9" font-size="18" font-weight="bold" font-style="normal" text-anchor="start" fill="#1a1a1a" >C</text>
<text transform="translate(108.6,501.2) rotate(-90)" font-size="14" font-weight="bold" text-anchor="middle" fill="#1a1a1a">Mean red fluorescence</text>
<text transform="translate(129.0,502.5) rotate(-90)" font-size="14" font-weight="bold" text-anchor="middle" fill="#1a1a1a">in the pharynx (a.u.)</text>
<path d="M159.9 432.0L159.9 577.6" stroke="#000" stroke-width="1.6" fill="none"/>
<path d="M156.5 434.0L159.9 434.0" stroke="#000" stroke-width="1.3" fill="none"/>
<text x="154.8" y="438.5" font-size="12.4" font-weight="bold" font-style="normal" text-anchor="end" fill="#1a1a1a" >110</text>
<path d="M156.5 456.1L159.9 456.1" stroke="#000" stroke-width="1.3" fill="none"/>
<text x="154.8" y="460.6" font-size="12.4" font-weight="bold" font-style="normal" text-anchor="end" fill="#1a1a1a" >100</text>
<path d="M156.5 478.2L159.9 478.2" stroke="#000" stroke-width="1.3" fill="none"/>
<text x="154.8" y="482.7" font-size="12.4" font-weight="bold" font-style="normal" text-anchor="end" fill="#1a1a1a" >90</text>
<path d="M156.5 500.4L159.9 500.4" stroke="#000" stroke-width="1.3" fill="none"/>
<text x="154.8" y="504.8" font-size="12.4" font-weight="bold" font-style="normal" text-anchor="end" fill="#1a1a1a" >80</text>
<path d="M156.5 522.5L159.9 522.5" stroke="#000" stroke-width="1.3" fill="none"/>
<text x="154.8" y="526.9" font-size="12.4" font-weight="bold" font-style="normal" text-anchor="end" fill="#1a1a1a" >70</text>
<path d="M156.5 544.6L159.9 544.6" stroke="#000" stroke-width="1.3" fill="none"/>
<text x="154.8" y="549.1" font-size="12.4" font-weight="bold" font-style="normal" text-anchor="end" fill="#1a1a1a" >60</text>
<path d="M156.5 566.7L159.9 566.7" stroke="#000" stroke-width="1.3" fill="none"/>
<text x="154.8" y="571.2" font-size="12.4" font-weight="bold" font-style="normal" text-anchor="end" fill="#1a1a1a" >50</text>
<path d="M157.7 445.1L159.9 445.1" stroke="#000" stroke-width="1.1" fill="none"/>
<path d="M157.7 467.2L159.9 467.2" stroke="#000" stroke-width="1.1" fill="none"/>
<path d="M157.7 489.3L159.9 489.3" stroke="#000" stroke-width="1.1" fill="none"/>
<path d="M157.7 511.4L159.9 511.4" stroke="#000" stroke-width="1.1" fill="none"/>
<path d="M157.7 533.5L159.9 533.5" stroke="#000" stroke-width="1.1" fill="none"/>
<path d="M157.7 555.7L159.9 555.7" stroke="#000" stroke-width="1.1" fill="none"/>
<path d="M159.1 577.6L340.9 577.6" stroke="#000" stroke-width="1.6" fill="none"/>
<path d="M205.4 577.6L205.4 581.4" stroke="#000" stroke-width="1.3" fill="none"/>
<path d="M295.3 577.6L295.3 581.4" stroke="#000" stroke-width="1.3" fill="none"/>
<path d="M201.2 442.2L201.2 439.2L295.3 439.2L295.3 442.2" stroke="#000" stroke-width="1.3" fill="none"/>
<text x="249.4" y="438.1" font-size="13.5" font-weight="normal" font-style="normal" text-anchor="middle" fill="#0a0a0a" stroke="#0a0a0a" stroke-width="0.25">***</text>
<path d="M205.4 546.6L205.4 560.9" stroke="#000" stroke-width="1.3" fill="none"/>
<path d="M196.3 546.6L214.5 546.6" stroke="#000" stroke-width="1.3" fill="none"/>
<path d="M196.3 560.9L214.5 560.9" stroke="#000" stroke-width="1.3" fill="none"/>
<rect x="187.0" y="552.5" width="36.9" height="4.9" fill="#404040" stroke="#000" stroke-width="1.3"/>
<path d="M187.0 555.0L223.9 555.0" stroke="#000" stroke-width="1.0" fill="none"/>
<path d="M189.4 544.9L191.1 546.6L189.4 548.3L187.7 546.6Z" fill="#000"/>
<path d="M201.2 546.4L202.9 548.1L201.2 549.8L199.5 548.1Z" fill="#000"/>
<path d="M221.4 550.1L223.1 551.8L221.4 553.5L219.7 551.8Z" fill="#000"/>
<path d="M194.3 553.3L196.0 555.0L194.3 556.7L192.6 555.0Z" fill="#000"/>
<path d="M199.3 554.3L201.0 556.0L199.3 557.7L197.6 556.0Z" fill="#000"/>
<path d="M207.1 552.5L208.8 554.2L207.1 555.9L205.4 554.2Z" fill="#000"/>
<path d="M212.1 553.8L213.8 555.5L212.1 557.2L210.4 555.5Z" fill="#000"/>
<path d="M217.0 553.3L218.7 555.0L217.0 556.7L215.3 555.0Z" fill="#000"/>
<path d="M196.8 556.2L198.5 557.9L196.8 559.6L195.1 557.9Z" fill="#000"/>
<path d="M203.0 557.5L204.7 559.2L203.0 560.9L201.3 559.2Z" fill="#000"/>
<path d="M209.1 556.7L210.8 558.4L209.1 560.1L207.4 558.4Z" fill="#000"/>
<path d="M214.5 555.7L216.2 557.4L214.5 559.1L212.8 557.4Z" fill="#000"/>
<path d="M205.4 559.2L207.1 560.9L205.4 562.6L203.7 560.9Z" fill="#000"/>
<path d="M195.6 556.7L197.3 558.4L195.6 560.1L193.9 558.4Z" fill="#000"/>
<path d="M219.5 555.0L221.2 556.7L219.5 558.4L217.8 556.7Z" fill="#000"/>
<path d="M190.6 553.3L192.3 555.0L190.6 556.7L188.9 555.0Z" fill="#000"/>
<path d="M295.3 522.0L295.3 540.7" stroke="#000" stroke-width="1.3" fill="none"/>
<path d="M286.2 522.0L304.4 522.0" stroke="#000" stroke-width="1.3" fill="none"/>
<path d="M286.2 540.7L304.4 540.7" stroke="#000" stroke-width="1.3" fill="none"/>
<rect x="277.1" y="522.5" width="36.5" height="16.2" fill="#ff0000" stroke="#000" stroke-width="1.3"/>
<path d="M277.1 535.8L313.6 535.8" stroke="#000" stroke-width="1.3" fill="none"/>
<path d="M295.3 450.6L297.0 452.3L295.3 454.0L293.6 452.3Z" fill="#000"/>
<path d="M295.3 464.6L297.0 466.3L295.3 468.0L293.6 466.3Z" fill="#000"/>
<path d="M288.4 526.7L290.1 528.4L288.4 530.1L286.7 528.4Z" fill="#000"/>
<path d="M292.9 524.5L294.6 526.2L292.9 527.9L291.2 526.2Z" fill="#000"/>
<path d="M284.2 539.2L285.9 540.9L284.2 542.6L282.5 540.9Z" fill="#000"/>
<path d="M297.3 539.2L299.0 540.9L297.3 542.6L295.6 540.9Z" fill="#000"/>
<path d="M297.8 520.8L299.5 522.5L297.8 524.2L296.1 522.5Z" fill="#000"/>
<path d="M302.2 521.3L303.9 523.0L302.2 524.7L300.5 523.0Z" fill="#000"/>
<path d="M287.9 533.6L289.6 535.3L287.9 537.0L286.2 535.3Z" fill="#000"/>
<path d="M294.1 534.1L295.8 535.8L294.1 537.5L292.4 535.8Z" fill="#000"/>
<path d="M302.7 534.1L304.4 535.8L302.7 537.5L301.0 535.8Z" fill="#000"/>
<path d="M307.6 535.0L309.3 536.7L307.6 538.4L305.9 536.7Z" fill="#000"/>
<path d="M311.3 534.1L313.0 535.8L311.3 537.5L309.6 535.8Z" fill="#000"/>
<path d="M280.0 538.0L281.7 539.7L280.0 541.4L278.3 539.7Z" fill="#000"/>
<path d="M291.6 538.0L293.3 539.7L291.6 541.4L289.9 539.7Z" fill="#000"/>
<g transform="translate(208.5,592.0) rotate(-58.5)">
<text x="-1.0" y="0.0" font-size="14.8" font-weight="normal" font-style="italic" text-anchor="end" fill="#111" stroke="#111" stroke-width="0.3">sra-6p::yfp;</text>
<text x="3.0" y="19.5" font-size="14.8" font-weight="normal" font-style="italic" text-anchor="end" fill="#111" stroke="#111" stroke-width="0.3">unc-112p::gfp</text>
</g>
<g transform="translate(290.5,593.0) rotate(-58.5)">
<text x="-3.2" y="0.0" font-size="14.8" font-weight="normal" font-style="italic" text-anchor="end" fill="#111" stroke="#111" stroke-width="0.3">nlp-99::mKate2;</text>
<text x="3.0" y="19.2" font-size="14.8" font-weight="normal" font-style="italic" text-anchor="end" fill="#111" stroke="#111" stroke-width="0.3">sra-6p::yfp;</text>
<text x="5.5" y="38.4" font-size="14.8" font-weight="normal" font-style="italic" text-anchor="end" fill="#111" stroke="#111" stroke-width="0.3">unc-112p::gfp</text>
</g>
<text x="446.9" y="427.9" font-size="18" font-weight="bold" font-style="normal" text-anchor="start" fill="#1a1a1a" >D</text>
<text transform="translate(483.2,501.2) rotate(-90)" font-size="14" font-weight="bold" text-anchor="middle" fill="#1a1a1a">Mean red fluorescence</text>
<text transform="translate(505.5,501.6) rotate(-90)" font-size="14" font-weight="bold" text-anchor="middle" fill="#1a1a1a">in coelomocytes (a.u.)</text>
<path d="M545.3 431.2L545.3 577.6" stroke="#000" stroke-width="1.6" fill="none"/>
<path d="M541.9 432.8L545.3 432.8" stroke="#000" stroke-width="1.3" fill="none"/>
<text x="540.2" y="437.3" font-size="12.4" font-weight="bold" font-style="normal" text-anchor="end" fill="#1a1a1a" >1000</text>
<path d="M541.9 461.7L545.3 461.7" stroke="#000" stroke-width="1.3" fill="none"/>
<text x="540.2" y="466.1" font-size="12.4" font-weight="bold" font-style="normal" text-anchor="end" fill="#1a1a1a" >800</text>
<path d="M541.9 490.6L545.3 490.6" stroke="#000" stroke-width="1.3" fill="none"/>
<text x="540.2" y="495.0" font-size="12.4" font-weight="bold" font-style="normal" text-anchor="end" fill="#1a1a1a" >600</text>
<path d="M541.9 519.4L545.3 519.4" stroke="#000" stroke-width="1.3" fill="none"/>
<text x="540.2" y="523.9" font-size="12.4" font-weight="bold" font-style="normal" text-anchor="end" fill="#1a1a1a" >400</text>
<path d="M541.9 548.3L545.3 548.3" stroke="#000" stroke-width="1.3" fill="none"/>
<text x="540.2" y="552.8" font-size="12.4" font-weight="bold" font-style="normal" text-anchor="end" fill="#1a1a1a" >200</text>
<path d="M541.9 577.2L545.3 577.2" stroke="#000" stroke-width="1.3" fill="none"/>
<text x="540.2" y="581.7" font-size="12.4" font-weight="bold" font-style="normal" text-anchor="end" fill="#1a1a1a" >0</text>
<path d="M543.1 447.2L545.3 447.2" stroke="#000" stroke-width="1.1" fill="none"/>
<path d="M543.1 476.1L545.3 476.1" stroke="#000" stroke-width="1.1" fill="none"/>
<path d="M543.1 505.0L545.3 505.0" stroke="#000" stroke-width="1.1" fill="none"/>
<path d="M543.1 533.9L545.3 533.9" stroke="#000" stroke-width="1.1" fill="none"/>
<path d="M543.1 562.8L545.3 562.8" stroke="#000" stroke-width="1.1" fill="none"/>
<path d="M544.5 577.6L724.6 577.6" stroke="#000" stroke-width="1.6" fill="none"/>
<path d="M589.1 577.6L589.1 581.4" stroke="#000" stroke-width="1.3" fill="none"/>
<path d="M679.5 577.6L679.5 581.4" stroke="#000" stroke-width="1.3" fill="none"/>
<path d="M586.7 442.2L586.7 439.2L679.5 439.2L679.5 442.2" stroke="#000" stroke-width="1.3" fill="none"/>
<text x="634.0" y="438.1" font-size="13.5" font-weight="normal" font-style="normal" text-anchor="middle" fill="#0a0a0a" stroke="#0a0a0a" stroke-width="0.25">**</text>
<path d="M589.4 548.6L589.4 560.9" stroke="#000" stroke-width="1.3" fill="none"/>
<path d="M580.4 548.6L598.4 548.6" stroke="#000" stroke-width="1.3" fill="none"/>
<path d="M580.4 560.9L598.4 560.9" stroke="#000" stroke-width="1.3" fill="none"/>
<rect x="571.0" y="551.3" width="36.7" height="5.9" fill="#404040" stroke="#000" stroke-width="1.3"/>
<path d="M571.1 554.3L607.8 554.3" stroke="#000" stroke-width="1.0" fill="none"/>
<path d="M592.8 537.5L594.5 539.2L592.8 540.9L591.1 539.2Z" fill="#000"/>
<path d="M587.9 546.9L589.6 548.6L587.9 550.3L586.2 548.6Z" fill="#000"/>
<path d="M576.8 551.3L578.5 553.0L576.8 554.7L575.1 553.0Z" fill="#000"/>
<path d="M583.0 552.5L584.7 554.2L583.0 555.9L581.3 554.2Z" fill="#000"/>
<path d="M589.1 551.8L590.8 553.5L589.1 555.2L587.4 553.5Z" fill="#000"/>
<path d="M594.5 553.3L596.2 555.0L594.5 556.7L592.8 555.0Z" fill="#000"/>
<path d="M600.2 552.5L601.9 554.2L600.2 555.9L598.5 554.2Z" fill="#000"/>
<path d="M603.9 553.8L605.6 555.5L603.9 557.2L602.2 555.5Z" fill="#000"/>
<path d="M579.3 555.0L581.0 556.7L579.3 558.4L577.6 556.7Z" fill="#000"/>
<path d="M586.2 555.7L587.9 557.4L586.2 559.1L584.5 557.4Z" fill="#000"/>
<path d="M591.6 557.5L593.3 559.2L591.6 560.9L589.9 559.2Z" fill="#000"/>
<path d="M596.5 556.7L598.2 558.4L596.5 560.1L594.8 558.4Z" fill="#000"/>
<path d="M592.8 559.2L594.5 560.9L592.8 562.6L591.1 560.9Z" fill="#000"/>
<path d="M599.0 556.2L600.7 557.9L599.0 559.6L597.3 557.9Z" fill="#000"/>
<path d="M679.5 514.6L679.5 564.1" stroke="#000" stroke-width="1.3" fill="none"/>
<path d="M670.5 514.6L688.5 514.6" stroke="#000" stroke-width="1.3" fill="none"/>
<path d="M670.5 564.1L688.5 564.1" stroke="#000" stroke-width="1.3" fill="none"/>
<rect x="661.3" y="523.0" width="36.4" height="25.6" fill="#ff0000" stroke="#000" stroke-width="1.3"/>
<path d="M661.3 542.4L697.7 542.4" stroke="#000" stroke-width="1.3" fill="none"/>
<rect x="678.3" y="530.1" width="2.4" height="2.4" fill="none" stroke="#000" stroke-opacity="0.45" stroke-width="0.5"/>
<path d="M676.6 451.1L678.3 452.8L676.6 454.5L674.9 452.8Z" fill="#000"/>
<path d="M682.0 453.5L683.7 455.2L682.0 456.9L680.3 455.2Z" fill="#000"/>
<path d="M674.1 517.8L675.8 519.5L674.1 521.2L672.4 519.5Z" fill="#000"/>
<path d="M684.4 514.4L686.1 516.1L684.4 517.8L682.7 516.1Z" fill="#000"/>
<path d="M674.1 528.4L675.8 530.1L674.1 531.8L672.4 530.1Z" fill="#000"/>
<path d="M679.5 525.4L681.2 527.1L679.5 528.8L677.8 527.1Z" fill="#000"/>
<path d="M684.4 530.4L686.1 532.1L684.4 533.8L682.7 532.1Z" fill="#000"/>
<path d="M684.4 532.8L686.1 534.5L684.4 536.2L682.7 534.5Z" fill="#000"/>
<path d="M668.7 539.0L670.4 540.7L668.7 542.4L667.0 540.7Z" fill="#000"/>
<path d="M663.7 543.4L665.4 545.1L663.7 546.8L662.0 545.1Z" fill="#000"/>
<path d="M674.1 544.4L675.8 546.1L674.1 547.8L672.4 546.1Z" fill="#000"/>
<path d="M679.5 544.4L681.2 546.1L679.5 547.8L677.8 546.1Z" fill="#000"/>
<path d="M689.4 544.4L691.1 546.1L689.4 547.8L687.7 546.1Z" fill="#000"/>
<path d="M695.0 545.4L696.7 547.1L695.0 548.8L693.3 547.1Z" fill="#000"/>
<path d="M682.0 548.1L683.7 549.8L682.0 551.5L680.3 549.8Z" fill="#000"/>
<path d="M687.1 551.3L688.8 553.0L687.1 554.7L685.4 553.0Z" fill="#000"/>
<path d="M676.6 553.3L678.3 555.0L676.6 556.7L674.9 555.0Z" fill="#000"/>
<path d="M671.1 555.7L672.8 557.4L671.1 559.1L669.4 557.4Z" fill="#000"/>
<path d="M679.5 563.1L681.2 564.8L679.5 566.5L677.8 564.8Z" fill="#000"/>
<g transform="translate(592.2,592.0) rotate(-58.5)">
<text x="-1.0" y="0.0" font-size="14.8" font-weight="normal" font-style="italic" text-anchor="end" fill="#111" stroke="#111" stroke-width="0.3">sra-6p::yfp;</text>
<text x="3.0" y="19.5" font-size="14.8" font-weight="normal" font-style="italic" text-anchor="end" fill="#111" stroke="#111" stroke-width="0.3">unc-112p::gfp</text>
</g>
<g transform="translate(674.2,593.0) rotate(-58.5)">
<text x="-3.2" y="0.0" font-size="14.8" font-weight="normal" font-style="italic" text-anchor="end" fill="#111" stroke="#111" stroke-width="0.3">nlp-99::mKate2;</text>
<text x="3.0" y="19.2" font-size="14.8" font-weight="normal" font-style="italic" text-anchor="end" fill="#111" stroke="#111" stroke-width="0.3">sra-6p::yfp;</text>
<text x="5.5" y="38.4" font-size="14.8" font-weight="normal" font-style="italic" text-anchor="end" fill="#111" stroke="#111" stroke-width="0.3">unc-112p::gfp</text>
</g>
<text x="7.1" y="711.9" font-size="18" font-weight="bold" font-style="normal" text-anchor="start" fill="#1a1a1a" >E</text>
<text transform="translate(17.0,817.2) rotate(-90)" font-size="14" font-weight="bold" text-anchor="middle" fill="#1a1a1a">Time spent sleeping</text>
<text transform="translate(39.4,817.0) rotate(-90)" font-size="14" font-weight="bold" text-anchor="middle" fill="#1a1a1a">(%)</text>
<path d="M72.1 742.4L72.1 891.0" stroke="#000" stroke-width="1.6" fill="none"/>
<path d="M67.7 756.8L72.1 756.8" stroke="#000" stroke-width="1.3" fill="none"/>
<text x="67.2" y="761.8" font-size="14" font-weight="bold" font-style="normal" text-anchor="end" fill="#1a1a1a" >100</text>
<path d="M67.7 783.1L72.1 783.1" stroke="#000" stroke-width="1.3" fill="none"/>
<text x="67.2" y="788.2" font-size="14" font-weight="bold" font-style="normal" text-anchor="end" fill="#1a1a1a" >80</text>
<path d="M67.7 809.5L72.1 809.5" stroke="#000" stroke-width="1.3" fill="none"/>
<text x="67.2" y="814.5" font-size="14" font-weight="bold" font-style="normal" text-anchor="end" fill="#1a1a1a" >60</text>
<path d="M67.7 835.8L72.1 835.8" stroke="#000" stroke-width="1.3" fill="none"/>
<text x="67.2" y="840.9" font-size="14" font-weight="bold" font-style="normal" text-anchor="end" fill="#1a1a1a" >40</text>
<path d="M67.7 862.2L72.1 862.2" stroke="#000" stroke-width="1.3" fill="none"/>
<text x="67.2" y="867.2" font-size="14" font-weight="bold" font-style="normal" text-anchor="end" fill="#1a1a1a" >20</text>
<path d="M67.7 888.5L72.1 888.5" stroke="#000" stroke-width="1.3" fill="none"/>
<text x="67.2" y="893.5" font-size="14" font-weight="bold" font-style="normal" text-anchor="end" fill="#1a1a1a" >0</text>
<path d="M69.3 743.6L72.1 743.6" stroke="#000" stroke-width="1.1" fill="none"/>
<path d="M69.3 770.0L72.1 770.0" stroke="#000" stroke-width="1.1" fill="none"/>
<path d="M69.3 796.3L72.1 796.3" stroke="#000" stroke-width="1.1" fill="none"/>
<path d="M69.3 822.6L72.1 822.6" stroke="#000" stroke-width="1.1" fill="none"/>
<path d="M69.3 849.0L72.1 849.0" stroke="#000" stroke-width="1.1" fill="none"/>
<path d="M69.3 875.3L72.1 875.3" stroke="#000" stroke-width="1.1" fill="none"/>
<path d="M71.3 891.0L250.2 891.0" stroke="#000" stroke-width="1.6" fill="none"/>
<path d="M94.1 891.0L94.1 895.0" stroke="#000" stroke-width="1.3" fill="none"/>
<path d="M139.0 891.0L139.0 895.0" stroke="#000" stroke-width="1.3" fill="none"/>
<path d="M183.6 891.0L183.6 895.0" stroke="#000" stroke-width="1.3" fill="none"/>
<path d="M228.6 891.0L228.6 895.0" stroke="#000" stroke-width="1.3" fill="none"/>
<path d="M93.4 744.3L93.4 741.5L228.6 741.5L228.6 744.3M138.6 741.5L138.6 744.3M183.5 741.5L183.5 744.3" stroke="#000" stroke-width="1.3" fill="none"/>
<path d="M138.6 764.9L138.6 762.1L228.6 762.1L228.6 764.9" stroke="#000" stroke-width="1.3" fill="none"/>
<path d="M183.5 778.7L183.5 775.9L228.6 775.9L228.6 778.7" stroke="#000" stroke-width="1.3" fill="none"/>
<text x="140.0" y="738.6" font-size="14" font-weight="bold" font-style="normal" text-anchor="middle" fill="#1a1a1a" >n.s.</text>
<text x="183.5" y="738.7" font-size="13.5" font-weight="normal" font-style="normal" text-anchor="middle" fill="#0a0a0a" stroke="#0a0a0a" stroke-width="0.25">**</text>
<text x="228.6" y="738.3" font-size="13.5" font-weight="normal" font-style="normal" text-anchor="middle" fill="#0a0a0a" stroke="#0a0a0a" stroke-width="0.25">**</text>
<text x="187.0" y="756.3" font-size="13.5" font-weight="normal" font-style="normal" text-anchor="middle" fill="#0a0a0a" stroke="#0a0a0a" stroke-width="0.25">**</text>
<text x="207.8" y="773.3" font-size="14" font-weight="bold" font-style="normal" text-anchor="middle" fill="#1a1a1a" >n.s.</text>
<path d="M94.6 784.1L94.6 888.2" stroke="#000" stroke-width="1.3" fill="none"/>
<path d="M89.3 784.1L99.9 784.1" stroke="#000" stroke-width="1.3" fill="none"/>
<path d="M89.3 888.2L99.9 888.2" stroke="#000" stroke-width="1.3" fill="none"/>
<rect x="85.4" y="796.4" width="18.3" height="61.9" fill="#404040" stroke="#000" stroke-width="1.3"/>
<path d="M85.4 826.0L103.8 826.0" stroke="#000" stroke-width="1.3" fill="none"/>
<rect x="93.4" y="827.8" width="2.4" height="2.4" fill="none" stroke="#000" stroke-opacity="0.45" stroke-width="0.5"/>
<path d="M139.1 793.4L139.1 873.9" stroke="#000" stroke-width="1.3" fill="none"/>
<path d="M133.8 793.4L144.4 793.4" stroke="#000" stroke-width="1.3" fill="none"/>
<path d="M133.8 873.9L144.4 873.9" stroke="#000" stroke-width="1.3" fill="none"/>
<rect x="129.9" y="809.1" width="18.3" height="35.2" fill="#ff0000" stroke="#000" stroke-width="1.3"/>
<path d="M129.9 821.7L148.2 821.7" stroke="#000" stroke-width="1.3" fill="none"/>
<rect x="137.9" y="824.3" width="2.4" height="2.4" fill="none" stroke="#000" stroke-opacity="0.45" stroke-width="0.5"/>
<path d="M183.9 792.4L183.9 888.2" stroke="#000" stroke-width="1.3" fill="none"/>
<path d="M178.6 792.4L189.2 792.4" stroke="#000" stroke-width="1.3" fill="none"/>
<path d="M178.6 888.2L189.2 888.2" stroke="#000" stroke-width="1.3" fill="none"/>
<rect x="174.7" y="819.4" width="18.5" height="62.5" fill="#0000ff" stroke="#000" stroke-width="1.3"/>
<path d="M174.7 864.3L193.2 864.3" stroke="#000" stroke-width="1.3" fill="none"/>
<rect x="182.7" y="850.3" width="2.4" height="2.4" fill="none" stroke="#000" stroke-opacity="0.45" stroke-width="0.5"/>
<path d="M228.8 784.5L228.8 888.2" stroke="#000" stroke-width="1.3" fill="none"/>
<path d="M223.5 784.5L234.1 784.5" stroke="#000" stroke-width="1.3" fill="none"/>
<path d="M223.5 888.2L234.1 888.2" stroke="#000" stroke-width="1.3" fill="none"/>
<rect x="219.6" y="836.7" width="18.5" height="47.2" fill="#ff8000" stroke="#000" stroke-width="1.3"/>
<path d="M219.6 858.6L238.1 858.6" stroke="#000" stroke-width="1.3" fill="none"/>
<rect x="227.6" y="851.8" width="2.4" height="2.4" fill="none" stroke="#000" stroke-opacity="0.45" stroke-width="0.5"/>
<path d="M89.2 781.6L91.2 783.6L89.2 785.7L87.1 783.6Z" fill="#000"/>
<path d="M94.6 784.6L96.6 786.7L94.6 788.7L92.5 786.7Z" fill="#000"/>
<path d="M99.2 784.6L101.3 786.7L99.2 788.7L97.2 786.7Z" fill="#000"/>
<path d="M86.8 788.1L88.9 790.2L86.8 792.2L84.8 790.2Z" fill="#000"/>
<path d="M101.6 788.8L103.6 790.9L101.6 792.9L99.5 790.9Z" fill="#000"/>
<path d="M96.4 793.3L98.5 795.3L96.4 797.4L94.4 795.3Z" fill="#000"/>
<path d="M93.4 799.8L95.4 801.9L93.4 803.9L91.3 801.9Z" fill="#000"/>
<path d="M95.7 811.5L97.8 813.6L95.7 815.6L93.7 813.6Z" fill="#000"/>
<path d="M92.9 818.6L95.0 820.6L92.9 822.7L90.9 820.6Z" fill="#000"/>
<path d="M92.2 832.6L94.3 834.6L92.2 836.7L90.2 834.6Z" fill="#000"/>
<path d="M96.9 839.6L99.0 841.7L96.9 843.7L94.9 841.7Z" fill="#000"/>
<path d="M93.4 842.4L95.4 844.5L93.4 846.5L91.3 844.5Z" fill="#000"/>
<path d="M94.1 853.7L96.1 855.7L94.1 857.8L92.0 855.7Z" fill="#000"/>
<path d="M96.9 859.0L99.0 861.1L96.9 863.1L94.9 861.1Z" fill="#000"/>
<path d="M93.4 864.9L95.4 866.9L93.4 869.0L91.3 866.9Z" fill="#000"/>
<path d="M95.3 867.7L97.3 869.7L95.3 871.8L93.2 869.7Z" fill="#000"/>
<path d="M92.2 882.4L94.3 884.5L92.2 886.5L90.2 884.5Z" fill="#000"/>
<path d="M96.9 885.9L99.0 888.0L96.9 890.0L94.9 888.0Z" fill="#000"/>
<path d="M135.0 798.7L137.1 800.7L135.0 802.8L133.0 800.7Z" fill="#000"/>
<path d="M143.7 807.3L145.8 809.4L143.7 811.4L141.7 809.4Z" fill="#000"/>
<path d="M135.0 813.9L137.1 815.9L135.0 818.0L133.0 815.9Z" fill="#000"/>
<path d="M144.9 819.7L146.9 821.8L144.9 823.8L142.8 821.8Z" fill="#000"/>
<path d="M143.0 820.9L145.0 822.9L143.0 825.0L140.9 822.9Z" fill="#000"/>
<path d="M135.0 824.4L137.1 826.5L135.0 828.5L133.0 826.5Z" fill="#000"/>
<path d="M143.7 846.2L145.8 848.2L143.7 850.3L141.7 848.2Z" fill="#000"/>
<path d="M134.3 842.0L136.4 844.0L134.3 846.1L132.3 844.0Z" fill="#000"/>
<path d="M140.2 791.7L142.2 793.7L140.2 795.8L138.1 793.7Z" fill="#000"/>
<path d="M139.3 872.4L141.3 874.4L139.3 876.5L137.2 874.4Z" fill="#000"/>
<path d="M184.6 790.9L186.7 793.0L184.6 795.0L182.6 793.0Z" fill="#000"/>
<path d="M184.6 796.3L186.7 798.4L184.6 800.4L182.6 798.4Z" fill="#000"/>
<path d="M181.8 799.8L183.9 801.9L181.8 803.9L179.8 801.9Z" fill="#000"/>
<path d="M180.0 806.9L182.0 808.9L180.0 811.0L177.9 808.9Z" fill="#000"/>
<path d="M187.0 807.3L189.0 809.4L187.0 811.4L184.9 809.4Z" fill="#000"/>
<path d="M184.6 819.7L186.7 821.8L184.6 823.8L182.6 821.8Z" fill="#000"/>
<path d="M184.2 833.8L186.2 835.8L184.2 837.9L182.1 835.8Z" fill="#000"/>
<path d="M183.5 839.6L185.5 841.7L183.5 843.7L181.4 841.7Z" fill="#000"/>
<path d="M185.1 842.0L187.2 844.0L185.1 846.1L183.1 844.0Z" fill="#000"/>
<path d="M182.3 845.5L184.4 847.5L182.3 849.6L180.3 847.5Z" fill="#000"/>
<path d="M184.6 857.2L186.7 859.2L184.6 861.3L182.6 859.2Z" fill="#000"/>
<path d="M183.5 860.7L185.5 862.7L183.5 864.8L181.4 862.7Z" fill="#000"/>
<path d="M185.1 865.4L187.2 867.4L185.1 869.5L183.1 867.4Z" fill="#000"/>
<path d="M180.0 872.4L182.0 874.4L180.0 876.5L177.9 874.4Z" fill="#000"/>
<path d="M187.0 870.0L189.0 872.1L187.0 874.1L184.9 872.1Z" fill="#000"/>
<path d="M182.3 873.5L184.4 875.6L182.3 877.6L180.3 875.6Z" fill="#000"/>
<path d="M191.7 877.1L193.7 879.1L191.7 881.2L189.6 879.1Z" fill="#000"/>
<path d="M189.3 879.4L191.4 881.4L189.3 883.5L187.3 881.4Z" fill="#000"/>
<path d="M176.5 884.1L178.5 886.1L176.5 888.2L174.4 886.1Z" fill="#000"/>
<path d="M180.0 885.2L182.0 887.3L180.0 889.3L177.9 887.3Z" fill="#000"/>
<path d="M184.6 885.9L186.7 888.0L184.6 890.0L182.6 888.0Z" fill="#000"/>
<path d="M188.2 885.2L190.2 887.3L188.2 889.3L186.1 887.3Z" fill="#000"/>
<path d="M191.7 884.5L193.7 886.6L191.7 888.6L189.6 886.6Z" fill="#000"/>
<path d="M177.6 886.4L179.7 888.5L177.6 890.5L175.6 888.5Z" fill="#000"/>
<path d="M183.5 886.9L185.5 888.9L183.5 891.0L181.4 888.9Z" fill="#000"/>
<path d="M185.8 858.3L187.9 860.4L185.8 862.4L183.8 860.4Z" fill="#000"/>
<path d="M181.8 852.5L183.9 854.5L181.8 856.6L179.8 854.5Z" fill="#000"/>
<path d="M226.8 801.0L228.8 803.1L226.8 805.1L224.7 803.1Z" fill="#000"/>
<path d="M231.0 801.7L233.0 803.8L231.0 805.8L228.9 803.8Z" fill="#000"/>
<path d="M229.1 805.7L231.2 807.7L229.1 809.8L227.1 807.7Z" fill="#000"/>
<path d="M229.1 819.7L231.2 821.8L229.1 823.8L227.1 821.8Z" fill="#000"/>
<path d="M229.6 823.2L231.6 825.3L229.6 827.3L227.5 825.3Z" fill="#000"/>
<path d="M227.2 829.8L229.3 831.8L227.2 833.9L225.2 831.8Z" fill="#000"/>
<path d="M231.4 831.4L233.5 833.5L231.4 835.5L229.4 833.5Z" fill="#000"/>
<path d="M229.1 838.4L231.2 840.5L229.1 842.5L227.1 840.5Z" fill="#000"/>
<path d="M231.9 839.6L234.0 841.7L231.9 843.7L229.9 841.7Z" fill="#000"/>
<path d="M224.4 845.5L226.5 847.5L224.4 849.6L222.4 847.5Z" fill="#000"/>
<path d="M230.3 845.5L232.3 847.5L230.3 849.6L228.2 847.5Z" fill="#000"/>
<path d="M233.8 844.3L235.8 846.3L233.8 848.4L231.7 846.3Z" fill="#000"/>
<path d="M225.6 849.0L227.6 851.0L225.6 853.1L223.5 851.0Z" fill="#000"/>
<path d="M231.4 852.5L233.5 854.5L231.4 856.6L229.4 854.5Z" fill="#000"/>
<path d="M229.1 853.7L231.2 855.7L229.1 857.8L227.1 855.7Z" fill="#000"/>
<path d="M226.8 858.3L228.8 860.4L226.8 862.4L224.7 860.4Z" fill="#000"/>
<path d="M231.4 860.7L233.5 862.7L231.4 864.8L229.4 862.7Z" fill="#000"/>
<path d="M227.9 864.2L230.0 866.2L227.9 868.3L225.9 866.2Z" fill="#000"/>
<path d="M232.6 867.7L234.7 869.7L232.6 871.8L230.6 869.7Z" fill="#000"/>
<path d="M229.1 871.2L231.2 873.3L229.1 875.3L227.1 873.3Z" fill="#000"/>
<path d="M231.4 872.4L233.5 874.4L231.4 876.5L229.4 874.4Z" fill="#000"/>
<path d="M224.4 874.7L226.5 876.8L224.4 878.8L222.4 876.8Z" fill="#000"/>
<path d="M233.8 877.1L235.8 879.1L233.8 881.2L231.7 879.1Z" fill="#000"/>
<path d="M226.8 879.4L228.8 881.4L226.8 883.5L224.7 881.4Z" fill="#000"/>
<path d="M231.4 881.7L233.5 883.8L231.4 885.8L229.4 883.8Z" fill="#000"/>
<path d="M223.3 884.5L225.3 886.6L223.3 888.6L221.2 886.6Z" fill="#000"/>
<path d="M227.2 885.2L229.3 887.3L227.2 889.3L225.2 887.3Z" fill="#000"/>
<path d="M231.4 885.5L233.5 887.5L231.4 889.6L229.4 887.5Z" fill="#000"/>
<path d="M235.0 884.5L237.0 886.6L235.0 888.6L232.9 886.6Z" fill="#000"/>
<path d="M237.3 885.9L239.3 888.0L237.3 890.0L235.2 888.0Z" fill="#000"/>
<path d="M224.9 886.4L226.9 888.5L224.9 890.5L222.8 888.5Z" fill="#000"/>
<path d="M229.1 886.9L231.2 888.9L229.1 891.0L227.1 888.9Z" fill="#000"/>
<path d="M233.3 886.9L235.4 888.9L233.3 891.0L231.3 888.9Z" fill="#000"/>
<path d="M228.6 782.3L230.7 784.3L228.6 786.4L226.6 784.3Z" fill="#000"/>
<g transform="translate(102.5,903.5) rotate(-58.5)">
<text x="0.0" y="0.0" font-size="14.8" font-weight="normal" font-style="normal" text-anchor="end" fill="#111" stroke="#111" stroke-width="0.3">Control</text>
</g>
<g transform="translate(136.5,902.0) rotate(-58.5)">
<text x="0.0" y="0.0" font-size="14.8" font-weight="normal" font-style="normal" text-anchor="end" fill="#111" stroke="#111" stroke-width="0.3">Control;</text>
<text x="3.5" y="23.3" font-size="14.8" font-weight="normal" font-style="italic" text-anchor="end" fill="#111" stroke="#111" stroke-width="0.3">nlp-99(syb4021)</text>
</g>
<g transform="translate(192.0,902.5) rotate(-58.5)">
<text x="0.0" y="0.0" font-size="14.8" font-weight="normal" font-style="italic" text-anchor="end" fill="#111" stroke="#111" stroke-width="0.3">ttx-3p::nlp-99</text>
</g>
<g transform="translate(231.8,902.0) rotate(-58.5)">
<text x="0.0" y="0.0" font-size="14.8" font-weight="normal" font-style="italic" text-anchor="end" fill="#111" stroke="#111" stroke-width="0.3">nlp-99(syb4021);</text>
<text x="2.0" y="21.8" font-size="14.8" font-weight="normal" font-style="italic" text-anchor="end" fill="#111" stroke="#111" stroke-width="0.3">ttx-3p::nlp-99</text>
</g>
<text x="272.4" y="711.9" font-size="18" font-weight="bold" font-style="normal" text-anchor="start" fill="#1a1a1a" >F</text>
<text transform="translate(282.8,817.2) rotate(-90)" font-size="14" font-weight="bold" text-anchor="middle" fill="#1a1a1a">Time spent sleeping</text>
<text transform="translate(304.4,817.0) rotate(-90)" font-size="14" font-weight="bold" text-anchor="middle" fill="#1a1a1a">(%)</text>
<path d="M336.2 742.8L336.2 890.5" stroke="#000" stroke-width="1.6" fill="none"/>
<path d="M331.8 756.9L336.2 756.9" stroke="#000" stroke-width="1.3" fill="none"/>
<text x="331.3" y="761.9" font-size="14" font-weight="bold" font-style="normal" text-anchor="end" fill="#1a1a1a" >100</text>
<path d="M331.8 783.1L336.2 783.1" stroke="#000" stroke-width="1.3" fill="none"/>
<text x="331.3" y="788.1" font-size="14" font-weight="bold" font-style="normal" text-anchor="end" fill="#1a1a1a" >80</text>
<path d="M331.8 809.3L336.2 809.3" stroke="#000" stroke-width="1.3" fill="none"/>
<text x="331.3" y="814.3" font-size="14" font-weight="bold" font-style="normal" text-anchor="end" fill="#1a1a1a" >60</text>
<path d="M331.8 835.5L336.2 835.5" stroke="#000" stroke-width="1.3" fill="none"/>
<text x="331.3" y="840.5" font-size="14" font-weight="bold" font-style="normal" text-anchor="end" fill="#1a1a1a" >40</text>
<path d="M331.8 861.7L336.2 861.7" stroke="#000" stroke-width="1.3" fill="none"/>
<text x="331.3" y="866.7" font-size="14" font-weight="bold" font-style="normal" text-anchor="end" fill="#1a1a1a" >20</text>
<path d="M331.8 887.9L336.2 887.9" stroke="#000" stroke-width="1.3" fill="none"/>
<text x="331.3" y="892.9" font-size="14" font-weight="bold" font-style="normal" text-anchor="end" fill="#1a1a1a" >0</text>
<path d="M333.4 743.8L336.2 743.8" stroke="#000" stroke-width="1.1" fill="none"/>
<path d="M333.4 770.0L336.2 770.0" stroke="#000" stroke-width="1.1" fill="none"/>
<path d="M333.4 796.2L336.2 796.2" stroke="#000" stroke-width="1.1" fill="none"/>
<path d="M333.4 822.4L336.2 822.4" stroke="#000" stroke-width="1.1" fill="none"/>
<path d="M333.4 848.6L336.2 848.6" stroke="#000" stroke-width="1.1" fill="none"/>
<path d="M333.4 874.8L336.2 874.8" stroke="#000" stroke-width="1.1" fill="none"/>
<path d="M335.4 890.5L515.2 890.5" stroke="#000" stroke-width="1.6" fill="none"/>
<path d="M359.1 890.5L359.1 894.5" stroke="#000" stroke-width="1.3" fill="none"/>
<path d="M403.4 890.5L403.4 894.5" stroke="#000" stroke-width="1.3" fill="none"/>
<path d="M448.2 890.5L448.2 894.5" stroke="#000" stroke-width="1.3" fill="none"/>
<path d="M493.3 890.5L493.3 894.5" stroke="#000" stroke-width="1.3" fill="none"/>
<path d="M357.3 717.6L357.3 714.8L494.3 714.8L494.3 717.6M402.9 714.8L402.9 717.6M447.7 714.8L447.7 717.6" stroke="#000" stroke-width="1.3" fill="none"/>
<path d="M402.9 735.1L402.9 732.3L494.3 732.3L494.3 735.1" stroke="#000" stroke-width="1.3" fill="none"/>
<path d="M447.7 752.8L447.7 750.0L494.3 750.0L494.3 752.8" stroke="#000" stroke-width="1.3" fill="none"/>
<text x="402.9" y="711.9" font-size="13.5" font-weight="normal" font-style="normal" text-anchor="middle" fill="#0a0a0a" stroke="#0a0a0a" stroke-width="0.25">**</text>
<text x="447.7" y="711.9" font-size="13.5" font-weight="normal" font-style="normal" text-anchor="middle" fill="#0a0a0a" stroke="#0a0a0a" stroke-width="0.25">*</text>
<text x="493.8" y="711.9" font-size="13.5" font-weight="normal" font-style="normal" text-anchor="middle" fill="#0a0a0a" stroke="#0a0a0a" stroke-width="0.25">**</text>
<text x="453.0" y="730.8" font-size="14" font-weight="bold" font-style="normal" text-anchor="middle" fill="#1a1a1a" >n.s.</text>
<text x="472.1" y="746.6" font-size="13.5" font-weight="normal" font-style="normal" text-anchor="middle" fill="#0a0a0a" stroke="#0a0a0a" stroke-width="0.25">***</text>
<path d="M359.0 791.6L359.0 867.5" stroke="#000" stroke-width="1.3" fill="none"/>
<path d="M353.7 791.6L364.3 791.6" stroke="#000" stroke-width="1.3" fill="none"/>
<path d="M353.7 867.5L364.3 867.5" stroke="#000" stroke-width="1.3" fill="none"/>
<rect x="349.8" y="811.6" width="18.4" height="44.3" fill="#404040" stroke="#000" stroke-width="1.3"/>
<path d="M349.8 825.1L368.2 825.1" stroke="#000" stroke-width="1.3" fill="none"/>
<rect x="357.8" y="827.3" width="2.4" height="2.4" fill="none" stroke="#000" stroke-opacity="0.45" stroke-width="0.5"/>
<path d="M403.7 759.6L403.7 851.2" stroke="#000" stroke-width="1.3" fill="none"/>
<path d="M398.4 759.6L409.0 759.6" stroke="#000" stroke-width="1.3" fill="none"/>
<path d="M398.4 851.2L409.0 851.2" stroke="#000" stroke-width="1.3" fill="none"/>
<rect x="394.5" y="778.3" width="18.4" height="40.2" fill="#ff0000" stroke="#000" stroke-width="1.3"/>
<path d="M394.5 790.6L412.9 790.6" stroke="#000" stroke-width="1.3" fill="none"/>
<rect x="402.5" y="795.8" width="2.4" height="2.4" fill="none" stroke="#000" stroke-opacity="0.45" stroke-width="0.5"/>
<path d="M448.6 799.3L448.6 887.9" stroke="#000" stroke-width="1.3" fill="none"/>
<path d="M443.3 799.3L453.9 799.3" stroke="#000" stroke-width="1.3" fill="none"/>
<path d="M443.3 887.9L453.9 887.9" stroke="#000" stroke-width="1.3" fill="none"/>
<rect x="439.5" y="836.2" width="18.2" height="33.8" fill="#0000ff" stroke="#000" stroke-width="1.3"/>
<path d="M439.5 854.7L457.7 854.7" stroke="#000" stroke-width="1.3" fill="none"/>
<rect x="447.4" y="847.8" width="2.4" height="2.4" fill="none" stroke="#000" stroke-opacity="0.45" stroke-width="0.5"/>
<path d="M493.4 762.8L493.4 840.4" stroke="#000" stroke-width="1.3" fill="none"/>
<path d="M488.1 762.8L498.7 762.8" stroke="#000" stroke-width="1.3" fill="none"/>
<path d="M488.1 840.4L498.7 840.4" stroke="#000" stroke-width="1.3" fill="none"/>
<rect x="484.3" y="775.1" width="18.2" height="43.4" fill="#ff8000" stroke="#000" stroke-width="1.3"/>
<path d="M484.3 790.4L502.5 790.4" stroke="#000" stroke-width="1.3" fill="none"/>
<rect x="492.2" y="794.8" width="2.4" height="2.4" fill="none" stroke="#000" stroke-opacity="0.45" stroke-width="0.5"/>
<path d="M359.1 795.2L361.1 797.3L359.1 799.3L357.0 797.3Z" fill="#000"/>
<path d="M360.8 810.0L362.8 812.1L360.8 814.1L358.7 812.1Z" fill="#000"/>
<path d="M356.6 818.1L358.7 820.2L356.6 822.2L354.6 820.2Z" fill="#000"/>
<path d="M362.0 819.9L364.1 821.9L362.0 824.0L360.0 821.9Z" fill="#000"/>
<path d="M352.2 826.0L354.2 828.1L352.2 830.1L350.1 828.1Z" fill="#000"/>
<path d="M366.5 823.6L368.5 825.6L366.5 827.7L364.4 825.6Z" fill="#000"/>
<path d="M357.1 830.5L359.1 832.5L357.1 834.6L355.0 832.5Z" fill="#000"/>
<path d="M357.1 853.1L359.1 855.2L357.1 857.2L355.0 855.2Z" fill="#000"/>
<path d="M361.5 857.6L363.6 859.6L361.5 861.7L359.5 859.6Z" fill="#000"/>
<path d="M359.1 865.4L361.1 867.5L359.1 869.5L357.0 867.5Z" fill="#000"/>
<path d="M403.9 760.8L405.9 762.8L403.9 764.9L401.8 762.8Z" fill="#000"/>
<path d="M401.4 768.1L403.5 770.2L401.4 772.2L399.4 770.2Z" fill="#000"/>
<path d="M397.0 769.9L399.0 771.9L397.0 774.0L394.9 771.9Z" fill="#000"/>
<path d="M408.3 770.6L410.4 772.7L408.3 774.7L406.3 772.7Z" fill="#000"/>
<path d="M395.3 771.8L397.3 773.9L395.3 775.9L393.2 773.9Z" fill="#000"/>
<path d="M411.3 773.1L413.3 775.1L411.3 777.2L409.2 775.1Z" fill="#000"/>
<path d="M399.0 771.8L401.0 773.9L399.0 775.9L396.9 773.9Z" fill="#000"/>
<path d="M403.9 777.3L405.9 779.3L403.9 781.4L401.8 779.3Z" fill="#000"/>
<path d="M408.3 779.2L410.4 781.3L408.3 783.3L406.3 781.3Z" fill="#000"/>
<path d="M397.7 781.7L399.8 783.7L397.7 785.8L395.7 783.7Z" fill="#000"/>
<path d="M409.3 783.7L411.4 785.7L409.3 787.8L407.3 785.7Z" fill="#000"/>
<path d="M401.4 787.9L403.5 789.9L401.4 792.0L399.4 789.9Z" fill="#000"/>
<path d="M405.1 789.1L407.2 791.1L405.1 793.2L403.1 791.1Z" fill="#000"/>
<path d="M407.6 791.5L409.6 793.6L407.6 795.6L405.5 793.6Z" fill="#000"/>
<path d="M400.2 792.8L402.2 794.8L400.2 796.9L398.1 794.8Z" fill="#000"/>
<path d="M403.9 795.2L405.9 797.3L403.9 799.3L401.8 797.3Z" fill="#000"/>
<path d="M406.4 796.5L408.4 798.5L406.4 800.6L404.3 798.5Z" fill="#000"/>
<path d="M402.7 803.9L404.7 805.9L402.7 808.0L400.6 805.9Z" fill="#000"/>
<path d="M400.2 805.8L402.2 807.9L400.2 809.9L398.1 807.9Z" fill="#000"/>
<path d="M405.1 806.3L407.2 808.4L405.1 810.4L403.1 808.4Z" fill="#000"/>
<path d="M403.9 818.6L405.9 820.7L403.9 822.7L401.8 820.7Z" fill="#000"/>
<path d="M400.2 822.3L402.2 824.4L400.2 826.4L398.1 824.4Z" fill="#000"/>
<path d="M403.4 827.3L405.4 829.3L403.4 831.4L401.3 829.3Z" fill="#000"/>
<path d="M401.4 829.7L403.5 831.8L401.4 833.8L399.4 831.8Z" fill="#000"/>
<path d="M407.6 831.0L409.6 833.0L407.6 835.1L405.5 833.0Z" fill="#000"/>
<path d="M405.1 832.2L407.2 834.2L405.1 836.3L403.1 834.2Z" fill="#000"/>
<path d="M403.9 838.3L405.9 840.4L403.9 842.4L401.8 840.4Z" fill="#000"/>
<path d="M403.4 848.7L405.4 850.7L403.4 852.8L401.3 850.7Z" fill="#000"/>
<path d="M448.2 756.6L450.3 758.6L448.2 760.7L446.2 758.6Z" fill="#000"/>
<path d="M450.2 804.4L452.2 806.4L450.2 808.5L448.1 806.4Z" fill="#000"/>
<path d="M443.8 826.5L445.8 828.6L443.8 830.6L441.7 828.6Z" fill="#000"/>
<path d="M449.5 824.8L451.5 826.8L449.5 828.9L447.4 826.8Z" fill="#000"/>
<path d="M453.2 831.0L455.2 833.0L453.2 835.1L451.1 833.0Z" fill="#000"/>
<path d="M445.8 835.9L447.8 837.9L445.8 840.0L443.7 837.9Z" fill="#000"/>
<path d="M451.9 838.3L454.0 840.4L451.9 842.4L449.9 840.4Z" fill="#000"/>
<path d="M444.5 843.3L446.6 845.3L444.5 847.4L442.5 845.3Z" fill="#000"/>
<path d="M449.5 845.7L451.5 847.8L449.5 849.8L447.4 847.8Z" fill="#000"/>
<path d="M454.4 848.2L456.4 850.2L454.4 852.3L452.3 850.2Z" fill="#000"/>
<path d="M445.8 851.9L447.8 853.9L445.8 856.0L443.7 853.9Z" fill="#000"/>
<path d="M451.9 855.6L454.0 857.6L451.9 859.7L449.9 857.6Z" fill="#000"/>
<path d="M448.2 859.3L450.3 861.3L448.2 863.4L446.2 861.3Z" fill="#000"/>
<path d="M444.5 864.2L446.6 866.3L444.5 868.3L442.5 866.3Z" fill="#000"/>
<path d="M453.2 863.0L455.2 865.0L453.2 867.1L451.1 865.0Z" fill="#000"/>
<path d="M449.5 866.7L451.5 868.7L449.5 870.8L447.4 868.7Z" fill="#000"/>
<path d="M440.8 870.4L442.9 872.4L440.8 874.5L438.8 872.4Z" fill="#000"/>
<path d="M450.7 871.6L452.7 873.6L450.7 875.7L448.6 873.6Z" fill="#000"/>
<path d="M447.0 874.1L449.0 876.1L447.0 878.2L444.9 876.1Z" fill="#000"/>
<path d="M453.2 872.8L455.2 874.9L453.2 876.9L451.1 874.9Z" fill="#000"/>
<path d="M452.7 880.7L454.7 882.8L452.7 884.8L450.6 882.8Z" fill="#000"/>
<path d="M447.0 883.9L449.0 886.0L447.0 888.0L444.9 886.0Z" fill="#000"/>
<path d="M444.5 885.9L446.6 887.9L444.5 890.0L442.5 887.9Z" fill="#000"/>
<path d="M493.8 762.5L495.8 764.5L493.8 766.6L491.7 764.5Z" fill="#000"/>
<path d="M497.5 769.9L499.5 771.9L497.5 774.0L495.4 771.9Z" fill="#000"/>
<path d="M500.4 771.3L502.5 773.4L500.4 775.4L498.4 773.4Z" fill="#000"/>
<path d="M487.6 776.3L489.7 778.3L487.6 780.4L485.6 778.3Z" fill="#000"/>
<path d="M491.3 781.7L493.4 783.7L491.3 785.8L489.3 783.7Z" fill="#000"/>
<path d="M496.3 784.6L498.3 786.7L496.3 788.7L494.2 786.7Z" fill="#000"/>
<path d="M490.1 787.9L492.1 789.9L490.1 792.0L488.0 789.9Z" fill="#000"/>
<path d="M493.1 793.5L495.1 795.6L493.1 797.6L491.0 795.6Z" fill="#000"/>
<path d="M491.3 795.2L493.4 797.3L491.3 799.3L489.3 797.3Z" fill="#000"/>
<path d="M494.5 805.8L496.6 807.9L494.5 809.9L492.5 807.9Z" fill="#000"/>
<path d="M496.3 822.3L498.3 824.4L496.3 826.4L494.2 824.4Z" fill="#000"/>
<path d="M492.6 827.3L494.6 829.3L492.6 831.4L490.5 829.3Z" fill="#000"/>
<path d="M489.6 830.5L491.7 832.5L489.6 834.6L487.6 832.5Z" fill="#000"/>
<path d="M493.1 837.9L495.1 839.9L493.1 842.0L491.0 839.9Z" fill="#000"/>
<g transform="translate(367.5,903.5) rotate(-58.5)">
<text x="0.0" y="0.0" font-size="14.8" font-weight="normal" font-style="normal" text-anchor="end" fill="#111" stroke="#111" stroke-width="0.3">Control</text>
</g>
<g transform="translate(405.0,902.0) rotate(-58.5)">
<text x="0.0" y="0.0" font-size="14.8" font-weight="normal" font-style="normal" text-anchor="end" fill="#111" stroke="#111" stroke-width="0.3">Control;</text>
<text x="0.5" y="19.0" font-size="14.8" font-weight="normal" font-style="italic" text-anchor="end" fill="#111" stroke="#111" stroke-width="0.3">npr-16(ok1541)</text>
</g>
<g transform="translate(458.5,902.0) rotate(-58.5)">
<text x="0.0" y="0.0" font-size="14.8" font-weight="normal" font-style="italic" text-anchor="end" fill="#111" stroke="#111" stroke-width="0.3">ttx-3p::nlp-99</text>
</g>
<g transform="translate(495.5,902.0) rotate(-58.5)">
<text x="0.0" y="0.0" font-size="14.8" font-weight="normal" font-style="italic" text-anchor="end" fill="#111" stroke="#111" stroke-width="0.3">npr-16(ok1541);</text>
<text x="0.0" y="19.5" font-size="14.8" font-weight="normal" font-style="italic" text-anchor="end" fill="#111" stroke="#111" stroke-width="0.3">ttx-3p::nlp-99</text>
</g>
<text x="535.9" y="711.9" font-size="18" font-weight="bold" font-style="normal" text-anchor="start" fill="#1a1a1a" >G</text>
<text transform="translate(548.2,817.2) rotate(-90)" font-size="14" font-weight="bold" text-anchor="middle" fill="#1a1a1a">Time spent sleeping</text>
<text transform="translate(569.6,817.0) rotate(-90)" font-size="14" font-weight="bold" text-anchor="middle" fill="#1a1a1a">(%)</text>
<path d="M602.0 745.5L602.0 891.2" stroke="#000" stroke-width="1.6" fill="none"/>
<path d="M597.6 759.6L602.0 759.6" stroke="#000" stroke-width="1.3" fill="none"/>
<text x="597.1" y="764.6" font-size="14" font-weight="bold" font-style="normal" text-anchor="end" fill="#1a1a1a" >100</text>
<path d="M597.6 785.5L602.0 785.5" stroke="#000" stroke-width="1.3" fill="none"/>
<text x="597.1" y="790.5" font-size="14" font-weight="bold" font-style="normal" text-anchor="end" fill="#1a1a1a" >80</text>
<path d="M597.6 811.4L602.0 811.4" stroke="#000" stroke-width="1.3" fill="none"/>
<text x="597.1" y="816.4" font-size="14" font-weight="bold" font-style="normal" text-anchor="end" fill="#1a1a1a" >60</text>
<path d="M597.6 837.2L602.0 837.2" stroke="#000" stroke-width="1.3" fill="none"/>
<text x="597.1" y="842.3" font-size="14" font-weight="bold" font-style="normal" text-anchor="end" fill="#1a1a1a" >40</text>
<path d="M597.6 863.1L602.0 863.1" stroke="#000" stroke-width="1.3" fill="none"/>
<text x="597.1" y="868.2" font-size="14" font-weight="bold" font-style="normal" text-anchor="end" fill="#1a1a1a" >20</text>
<path d="M597.6 889.0L602.0 889.0" stroke="#000" stroke-width="1.3" fill="none"/>
<text x="597.1" y="894.0" font-size="14" font-weight="bold" font-style="normal" text-anchor="end" fill="#1a1a1a" >0</text>
<path d="M599.2 746.7L602.0 746.7" stroke="#000" stroke-width="1.1" fill="none"/>
<path d="M599.2 772.5L602.0 772.5" stroke="#000" stroke-width="1.1" fill="none"/>
<path d="M599.2 798.4L602.0 798.4" stroke="#000" stroke-width="1.1" fill="none"/>
<path d="M599.2 824.3L602.0 824.3" stroke="#000" stroke-width="1.1" fill="none"/>
<path d="M599.2 850.2L602.0 850.2" stroke="#000" stroke-width="1.1" fill="none"/>
<path d="M599.2 876.1L602.0 876.1" stroke="#000" stroke-width="1.1" fill="none"/>
<path d="M601.2 891.2L783.7 891.2" stroke="#000" stroke-width="1.6" fill="none"/>
<path d="M624.3 891.2L624.3 895.2" stroke="#000" stroke-width="1.3" fill="none"/>
<path d="M669.4 891.2L669.4 895.2" stroke="#000" stroke-width="1.3" fill="none"/>
<path d="M715.0 891.2L715.0 895.2" stroke="#000" stroke-width="1.3" fill="none"/>
<path d="M759.8 891.2L759.8 895.2" stroke="#000" stroke-width="1.3" fill="none"/>
<path d="M624.3 762.6L624.3 759.8L759.8 759.8L759.8 762.6M669.4 759.8L669.4 762.6M715.0 759.8L715.0 762.6" stroke="#000" stroke-width="1.3" fill="none"/>
<path d="M669.4 781.3L669.4 778.5L759.8 778.5L759.8 781.3" stroke="#000" stroke-width="1.3" fill="none"/>
<path d="M715.0 798.6L715.0 795.8L759.8 795.8L759.8 798.6" stroke="#000" stroke-width="1.3" fill="none"/>
<text x="668.9" y="756.7" font-size="13.5" font-weight="normal" font-style="normal" text-anchor="middle" fill="#0a0a0a" stroke="#0a0a0a" stroke-width="0.25">***</text>
<text x="715.5" y="757.1" font-size="14" font-weight="bold" font-style="normal" text-anchor="middle" fill="#1a1a1a" >n.s.</text>
<text x="759.0" y="756.7" font-size="13.5" font-weight="normal" font-style="normal" text-anchor="middle" fill="#0a0a0a" stroke="#0a0a0a" stroke-width="0.25">***</text>
<text x="716.7" y="775.2" font-size="13.5" font-weight="normal" font-style="normal" text-anchor="middle" fill="#0a0a0a" stroke="#0a0a0a" stroke-width="0.25">***</text>
<text x="738.1" y="792.7" font-size="13.5" font-weight="normal" font-style="normal" text-anchor="middle" fill="#0a0a0a" stroke="#0a0a0a" stroke-width="0.25">*</text>
<path d="M624.4 853.2L624.4 888.6" stroke="#000" stroke-width="1.3" fill="none"/>
<path d="M619.1 853.2L629.7 853.2" stroke="#000" stroke-width="1.3" fill="none"/>
<path d="M619.1 888.6L629.7 888.6" stroke="#000" stroke-width="1.3" fill="none"/>
<rect x="615.1" y="870.9" width="18.5" height="17.5" fill="#404040" stroke="#000" stroke-width="1.3"/>
<path d="M615.1 880.5L633.6 880.5" stroke="#000" stroke-width="1.3" fill="none"/>
<path d="M669.7 838.9L669.7 888.6" stroke="#000" stroke-width="1.3" fill="none"/>
<path d="M664.4 838.9L675.0 838.9" stroke="#000" stroke-width="1.3" fill="none"/>
<path d="M664.4 888.6L675.0 888.6" stroke="#000" stroke-width="1.3" fill="none"/>
<rect x="660.5" y="860.0" width="18.5" height="20.2" fill="#ff0000" stroke="#000" stroke-width="1.3"/>
<path d="M660.5 869.5L679.0 869.5" stroke="#000" stroke-width="1.3" fill="none"/>
<path d="M714.9 827.3L714.9 888.6" stroke="#000" stroke-width="1.3" fill="none"/>
<path d="M709.6 827.3L720.2 827.3" stroke="#000" stroke-width="1.3" fill="none"/>
<path d="M709.6 888.6L720.2 888.6" stroke="#000" stroke-width="1.3" fill="none"/>
<rect x="705.6" y="861.3" width="18.5" height="27.1" fill="#0000ff" stroke="#000" stroke-width="1.3"/>
<path d="M705.6 884.5L724.1 884.5" stroke="#000" stroke-width="1.3" fill="none"/>
<path d="M760.1 867.9L760.1 888.6" stroke="#000" stroke-width="1.3" fill="none"/>
<path d="M754.8 867.9L765.4 867.9" stroke="#000" stroke-width="1.3" fill="none"/>
<path d="M754.8 888.6L765.4 888.6" stroke="#000" stroke-width="1.3" fill="none"/>
<rect x="750.6" y="878.5" width="18.9" height="9.9" fill="#ff8000" stroke="#000" stroke-width="1.3"/>
<path d="M750.6 886.0L769.6 886.0" stroke="#000" stroke-width="1.3" fill="none"/>
<path d="M624.0 820.3L625.8 822.1L624.0 823.9L622.2 822.1Z" fill="#000"/>
<path d="M623.4 844.9L625.2 846.7L623.4 848.5L621.6 846.7Z" fill="#000"/>
<path d="M619.7 884.9L621.5 886.7L619.7 888.5L617.9 886.7Z" fill="#000"/>
<path d="M622.4 865.4L624.2 867.2L622.4 869.0L620.6 867.2Z" fill="#000"/>
<path d="M627.1 880.5L628.9 882.3L627.1 884.1L625.3 882.3Z" fill="#000"/>
<path d="M629.7 875.4L631.5 877.2L629.7 879.0L627.9 877.2Z" fill="#000"/>
<path d="M623.3 877.2L625.1 879.0L623.3 880.8L621.5 879.0Z" fill="#000"/>
<path d="M621.3 872.4L623.1 874.2L621.3 876.0L619.5 874.2Z" fill="#000"/>
<path d="M623.7 857.4L625.5 859.2L623.7 861.0L621.9 859.2Z" fill="#000"/>
<path d="M627.1 880.4L628.9 882.2L627.1 884.0L625.3 882.2Z" fill="#000"/>
<path d="M627.2 885.2L629.0 887.0L627.2 888.8L625.4 887.0Z" fill="#000"/>
<path d="M623.4 860.5L625.2 862.3L623.4 864.1L621.6 862.3Z" fill="#000"/>
<path d="M624.4 854.6L626.2 856.4L624.4 858.2L622.6 856.4Z" fill="#000"/>
<path d="M624.1 864.7L625.9 866.5L624.1 868.3L622.3 866.5Z" fill="#000"/>
<path d="M620.8 880.0L622.6 881.8L620.8 883.6L619.0 881.8Z" fill="#000"/>
<path d="M618.7 886.2L620.5 888.0L618.7 889.8L616.9 888.0Z" fill="#000"/>
<path d="M624.4 851.9L626.2 853.7L624.4 855.5L622.6 853.7Z" fill="#000"/>
<path d="M629.9 878.1L631.7 879.9L629.9 881.7L628.1 879.9Z" fill="#000"/>
<path d="M629.5 872.7L631.3 874.5L629.5 876.3L627.7 874.5Z" fill="#000"/>
<path d="M619.8 881.2L621.6 883.0L619.8 884.8L618.0 883.0Z" fill="#000"/>
<path d="M622.8 856.3L624.6 858.1L622.8 859.9L621.0 858.1Z" fill="#000"/>
<path d="M624.9 863.7L626.7 865.5L624.9 867.3L623.1 865.5Z" fill="#000"/>
<path d="M625.9 852.3L627.7 854.1L625.9 855.9L624.1 854.1Z" fill="#000"/>
<path d="M619.8 870.3L621.6 872.1L619.8 873.9L618.0 872.1Z" fill="#000"/>
<path d="M623.8 886.2L625.6 888.0L623.8 889.8L622.0 888.0Z" fill="#000"/>
<path d="M621.7 862.2L623.5 864.0L621.7 865.8L619.9 864.0Z" fill="#000"/>
<path d="M618.2 879.3L620.0 881.1L618.2 882.9L616.4 881.1Z" fill="#000"/>
<path d="M616.1 882.4L617.9 884.2L616.1 886.0L614.3 884.2Z" fill="#000"/>
<path d="M624.7 881.9L626.5 883.7L624.7 885.5L622.9 883.7Z" fill="#000"/>
<path d="M629.4 884.5L631.2 886.3L629.4 888.1L627.6 886.3Z" fill="#000"/>
<path d="M618.8 886.1L620.6 887.9L618.8 889.7L617.0 887.9Z" fill="#000"/>
<path d="M622.6 883.5L624.4 885.3L622.6 887.1L620.8 885.3Z" fill="#000"/>
<path d="M623.2 865.2L625.0 867.0L623.2 868.8L621.4 867.0Z" fill="#000"/>
<path d="M628.1 868.7L629.9 870.5L628.1 872.3L626.3 870.5Z" fill="#000"/>
<path d="M631.0 885.5L632.8 887.3L631.0 889.1L629.2 887.3Z" fill="#000"/>
<path d="M627.0 873.0L628.8 874.8L627.0 876.6L625.2 874.8Z" fill="#000"/>
<path d="M623.3 872.6L625.1 874.4L623.3 876.2L621.5 874.4Z" fill="#000"/>
<path d="M617.6 885.8L619.4 887.6L617.6 889.4L615.8 887.6Z" fill="#000"/>
<path d="M618.4 884.9L620.2 886.7L618.4 888.5L616.6 886.7Z" fill="#000"/>
<path d="M618.9 885.3L620.7 887.1L618.9 888.9L617.1 887.1Z" fill="#000"/>
<path d="M627.5 874.5L629.3 876.3L627.5 878.1L625.7 876.3Z" fill="#000"/>
<path d="M626.6 863.4L628.4 865.2L626.6 867.0L624.8 865.2Z" fill="#000"/>
<path d="M630.3 885.6L632.1 887.4L630.3 889.2L628.5 887.4Z" fill="#000"/>
<path d="M616.6 884.8L618.4 886.6L616.6 888.4L614.8 886.6Z" fill="#000"/>
<path d="M625.7 882.9L627.5 884.7L625.7 886.5L623.9 884.7Z" fill="#000"/>
<path d="M618.9 886.1L620.7 887.9L618.9 889.7L617.1 887.9Z" fill="#000"/>
<path d="M629.2 880.1L631.0 881.9L629.2 883.7L627.4 881.9Z" fill="#000"/>
<path d="M623.0 880.1L624.8 881.9L623.0 883.7L621.2 881.9Z" fill="#000"/>
<path d="M618.0 880.9L619.8 882.7L618.0 884.5L616.2 882.7Z" fill="#000"/>
<path d="M626.4 858.8L628.2 860.6L626.4 862.4L624.6 860.6Z" fill="#000"/>
<path d="M623.5 867.4L625.3 869.2L623.5 871.0L621.7 869.2Z" fill="#000"/>
<path d="M621.6 878.7L623.4 880.5L621.6 882.3L619.8 880.5Z" fill="#000"/>
<path d="M625.8 870.6L627.6 872.4L625.8 874.2L624.0 872.4Z" fill="#000"/>
<path d="M630.5 882.4L632.3 884.2L630.5 886.0L628.7 884.2Z" fill="#000"/>
<path d="M622.0 867.4L623.8 869.2L622.0 871.0L620.2 869.2Z" fill="#000"/>
<path d="M625.4 862.8L627.2 864.6L625.4 866.4L623.6 864.6Z" fill="#000"/>
<path d="M620.8 883.7L622.6 885.5L620.8 887.3L619.0 885.5Z" fill="#000"/>
<path d="M621.1 865.9L622.9 867.7L621.1 869.5L619.3 867.7Z" fill="#000"/>
<path d="M631.0 878.9L632.8 880.7L631.0 882.5L629.2 880.7Z" fill="#000"/>
<path d="M624.4 883.6L626.2 885.4L624.4 887.2L622.6 885.4Z" fill="#000"/>
<path d="M626.0 857.1L627.8 858.9L626.0 860.7L624.2 858.9Z" fill="#000"/>
<path d="M624.5 863.9L626.3 865.7L624.5 867.5L622.7 865.7Z" fill="#000"/>
<path d="M670.7 813.9L672.5 815.7L670.7 817.5L668.9 815.7Z" fill="#000"/>
<path d="M668.7 820.3L670.5 822.1L668.7 823.9L666.9 822.1Z" fill="#000"/>
<path d="M670.5 820.5L672.3 822.3L670.5 824.1L668.7 822.3Z" fill="#000"/>
<path d="M671.3 870.2L673.1 872.0L671.3 873.8L669.5 872.0Z" fill="#000"/>
<path d="M667.6 859.7L669.4 861.5L667.6 863.3L665.8 861.5Z" fill="#000"/>
<path d="M670.1 856.0L671.9 857.8L670.1 859.6L668.3 857.8Z" fill="#000"/>
<path d="M670.0 838.0L671.8 839.8L670.0 841.6L668.2 839.8Z" fill="#000"/>
<path d="M668.0 868.6L669.8 870.4L668.0 872.2L666.2 870.4Z" fill="#000"/>
<path d="M668.7 844.0L670.5 845.8L668.7 847.6L666.9 845.8Z" fill="#000"/>
<path d="M670.8 856.7L672.6 858.5L670.8 860.3L669.0 858.5Z" fill="#000"/>
<path d="M668.3 839.4L670.1 841.2L668.3 843.0L666.5 841.2Z" fill="#000"/>
<path d="M667.0 856.8L668.8 858.6L667.0 860.4L665.2 858.6Z" fill="#000"/>
<path d="M670.6 858.1L672.4 859.9L670.6 861.7L668.8 859.9Z" fill="#000"/>
<path d="M671.6 852.4L673.4 854.2L671.6 856.0L669.8 854.2Z" fill="#000"/>
<path d="M675.0 878.3L676.8 880.1L675.0 881.9L673.2 880.1Z" fill="#000"/>
<path d="M668.1 873.2L669.9 875.0L668.1 876.8L666.3 875.0Z" fill="#000"/>
<path d="M670.0 883.0L671.8 884.8L670.0 886.6L668.2 884.8Z" fill="#000"/>
<path d="M665.8 886.2L667.6 888.0L665.8 889.8L664.0 888.0Z" fill="#000"/>
<path d="M671.2 856.4L673.0 858.2L671.2 860.0L669.4 858.2Z" fill="#000"/>
<path d="M674.1 881.0L675.9 882.8L674.1 884.6L672.3 882.8Z" fill="#000"/>
<path d="M666.1 868.4L667.9 870.2L666.1 872.0L664.3 870.2Z" fill="#000"/>
<path d="M670.8 852.1L672.6 853.9L670.8 855.7L669.0 853.9Z" fill="#000"/>
<path d="M669.7 867.2L671.5 869.0L669.7 870.8L667.9 869.0Z" fill="#000"/>
<path d="M670.5 859.3L672.3 861.1L670.5 862.9L668.7 861.1Z" fill="#000"/>
<path d="M671.0 851.1L672.8 852.9L671.0 854.7L669.2 852.9Z" fill="#000"/>
<path d="M661.7 879.6L663.5 881.4L661.7 883.2L659.9 881.4Z" fill="#000"/>
<path d="M666.0 883.3L667.8 885.1L666.0 886.9L664.2 885.1Z" fill="#000"/>
<path d="M673.5 861.4L675.3 863.2L673.5 865.0L671.7 863.2Z" fill="#000"/>
<path d="M667.8 869.8L669.6 871.6L667.8 873.4L666.0 871.6Z" fill="#000"/>
<path d="M673.5 862.6L675.3 864.4L673.5 866.2L671.7 864.4Z" fill="#000"/>
<path d="M667.6 861.0L669.4 862.8L667.6 864.6L665.8 862.8Z" fill="#000"/>
<path d="M672.3 851.6L674.1 853.4L672.3 855.2L670.5 853.4Z" fill="#000"/>
<path d="M668.9 849.5L670.7 851.3L668.9 853.1L667.1 851.3Z" fill="#000"/>
<path d="M668.8 880.8L670.6 882.6L668.8 884.4L667.0 882.6Z" fill="#000"/>
<path d="M663.0 882.4L664.8 884.2L663.0 886.0L661.2 884.2Z" fill="#000"/>
<path d="M673.4 868.3L675.2 870.1L673.4 871.9L671.6 870.1Z" fill="#000"/>
<path d="M668.8 854.7L670.6 856.5L668.8 858.3L667.0 856.5Z" fill="#000"/>
<path d="M668.2 840.0L670.0 841.8L668.2 843.6L666.4 841.8Z" fill="#000"/>
<path d="M666.0 877.5L667.8 879.3L666.0 881.1L664.2 879.3Z" fill="#000"/>
<path d="M672.9 861.8L674.7 863.6L672.9 865.4L671.1 863.6Z" fill="#000"/>
<path d="M673.5 871.5L675.3 873.3L673.5 875.1L671.7 873.3Z" fill="#000"/>
<path d="M669.3 841.0L671.1 842.8L669.3 844.6L667.5 842.8Z" fill="#000"/>
<path d="M671.0 843.7L672.8 845.5L671.0 847.3L669.2 845.5Z" fill="#000"/>
<path d="M665.9 866.8L667.7 868.6L665.9 870.4L664.1 868.6Z" fill="#000"/>
<path d="M664.7 884.3L666.5 886.1L664.7 887.9L662.9 886.1Z" fill="#000"/>
<path d="M664.0 867.6L665.8 869.4L664.0 871.2L662.2 869.4Z" fill="#000"/>
<path d="M669.3 874.0L671.1 875.8L669.3 877.6L667.5 875.8Z" fill="#000"/>
<path d="M672.5 873.7L674.3 875.5L672.5 877.3L670.7 875.5Z" fill="#000"/>
<path d="M669.7 862.0L671.5 863.8L669.7 865.6L667.9 863.8Z" fill="#000"/>
<path d="M670.1 858.5L671.9 860.3L670.1 862.1L668.3 860.3Z" fill="#000"/>
<path d="M665.4 869.9L667.2 871.7L665.4 873.5L663.6 871.7Z" fill="#000"/>
<path d="M665.5 861.0L667.3 862.8L665.5 864.6L663.7 862.8Z" fill="#000"/>
<path d="M666.5 885.4L668.3 887.2L666.5 889.0L664.7 887.2Z" fill="#000"/>
<path d="M673.3 878.4L675.1 880.2L673.3 882.0L671.5 880.2Z" fill="#000"/>
<path d="M668.4 881.3L670.2 883.1L668.4 884.9L666.6 883.1Z" fill="#000"/>
<path d="M668.8 855.1L670.6 856.9L668.8 858.7L667.0 856.9Z" fill="#000"/>
<path d="M667.4 848.8L669.2 850.6L667.4 852.4L665.6 850.6Z" fill="#000"/>
<path d="M665.7 880.8L667.5 882.6L665.7 884.4L663.9 882.6Z" fill="#000"/>
<path d="M670.2 872.3L672.0 874.1L670.2 875.9L668.4 874.1Z" fill="#000"/>
<path d="M670.3 879.7L672.1 881.5L670.3 883.3L668.5 881.5Z" fill="#000"/>
<path d="M670.4 854.7L672.2 856.5L670.4 858.3L668.6 856.5Z" fill="#000"/>
<path d="M667.3 848.2L669.1 850.0L667.3 851.8L665.5 850.0Z" fill="#000"/>
<path d="M671.0 856.1L672.8 857.9L671.0 859.7L669.2 857.9Z" fill="#000"/>
<path d="M667.7 847.7L669.5 849.5L667.7 851.3L665.9 849.5Z" fill="#000"/>
<path d="M674.0 883.9L675.8 885.7L674.0 887.5L672.2 885.7Z" fill="#000"/>
<path d="M666.8 857.8L668.6 859.6L666.8 861.4L665.0 859.6Z" fill="#000"/>
<path d="M670.4 845.0L672.2 846.8L670.4 848.6L668.6 846.8Z" fill="#000"/>
<path d="M671.5 859.5L673.3 861.3L671.5 863.1L669.7 861.3Z" fill="#000"/>
<path d="M668.1 859.7L669.9 861.5L668.1 863.3L666.3 861.5Z" fill="#000"/>
<path d="M666.5 885.0L668.3 886.8L666.5 888.6L664.7 886.8Z" fill="#000"/>
<path d="M666.9 859.0L668.7 860.8L666.9 862.6L665.1 860.8Z" fill="#000"/>
<path d="M663.0 880.5L664.8 882.3L663.0 884.1L661.2 882.3Z" fill="#000"/>
<path d="M674.2 865.8L676.0 867.6L674.2 869.4L672.4 867.6Z" fill="#000"/>
<path d="M715.7 804.1L717.5 805.9L715.7 807.7L713.9 805.9Z" fill="#000"/>
<path d="M713.5 818.8L715.3 820.6L713.5 822.4L711.7 820.6Z" fill="#000"/>
<path d="M714.6 821.8L716.4 823.6L714.6 825.4L712.8 823.6Z" fill="#000"/>
<path d="M710.8 860.9L712.6 862.7L710.8 864.5L709.0 862.7Z" fill="#000"/>
<path d="M713.0 850.2L714.8 852.0L713.0 853.8L711.2 852.0Z" fill="#000"/>
<path d="M719.6 876.8L721.4 878.6L719.6 880.4L717.8 878.6Z" fill="#000"/>
<path d="M712.7 841.4L714.5 843.2L712.7 845.0L710.9 843.2Z" fill="#000"/>
<path d="M717.6 847.8L719.4 849.6L717.6 851.4L715.8 849.6Z" fill="#000"/>
<path d="M716.8 845.5L718.6 847.3L716.8 849.1L715.0 847.3Z" fill="#000"/>
<path d="M711.9 879.9L713.7 881.7L711.9 883.5L710.1 881.7Z" fill="#000"/>
<path d="M713.0 886.1L714.8 887.9L713.0 889.7L711.2 887.9Z" fill="#000"/>
<path d="M709.0 882.4L710.8 884.2L709.0 886.0L707.2 884.2Z" fill="#000"/>
<path d="M716.6 832.8L718.4 834.6L716.6 836.4L714.8 834.6Z" fill="#000"/>
<path d="M713.5 848.7L715.3 850.5L713.5 852.3L711.7 850.5Z" fill="#000"/>
<path d="M713.6 885.7L715.4 887.5L713.6 889.3L711.8 887.5Z" fill="#000"/>
<path d="M712.2 886.1L714.0 887.9L712.2 889.7L710.4 887.9Z" fill="#000"/>
<path d="M712.8 866.9L714.6 868.7L712.8 870.5L711.0 868.7Z" fill="#000"/>
<path d="M712.0 881.3L713.8 883.1L712.0 884.9L710.2 883.1Z" fill="#000"/>
<path d="M711.9 846.6L713.7 848.4L711.9 850.2L710.1 848.4Z" fill="#000"/>
<path d="M715.8 848.2L717.6 850.0L715.8 851.8L714.0 850.0Z" fill="#000"/>
<path d="M717.6 870.9L719.4 872.7L717.6 874.5L715.8 872.7Z" fill="#000"/>
<path d="M721.9 886.2L723.7 888.0L721.9 889.8L720.1 888.0Z" fill="#000"/>
<path d="M713.2 882.7L715.0 884.5L713.2 886.3L711.4 884.5Z" fill="#000"/>
<path d="M720.7 873.1L722.5 874.9L720.7 876.7L718.9 874.9Z" fill="#000"/>
<path d="M715.4 884.2L717.2 886.0L715.4 887.8L713.6 886.0Z" fill="#000"/>
<path d="M714.0 826.4L715.8 828.2L714.0 830.0L712.2 828.2Z" fill="#000"/>
<path d="M711.2 863.7L713.0 865.5L711.2 867.3L709.4 865.5Z" fill="#000"/>
<path d="M714.1 869.6L715.9 871.4L714.1 873.2L712.3 871.4Z" fill="#000"/>
<path d="M708.8 869.8L710.6 871.6L708.8 873.4L707.0 871.6Z" fill="#000"/>
<path d="M722.4 884.7L724.2 886.5L722.4 888.3L720.6 886.5Z" fill="#000"/>
<path d="M711.3 885.0L713.1 886.8L711.3 888.6L709.5 886.8Z" fill="#000"/>
<path d="M714.1 826.7L715.9 828.5L714.1 830.3L712.3 828.5Z" fill="#000"/>
<path d="M714.1 868.8L715.9 870.6L714.1 872.4L712.3 870.6Z" fill="#000"/>
<path d="M717.7 886.2L719.5 888.0L717.7 889.8L715.9 888.0Z" fill="#000"/>
<path d="M721.3 873.6L723.1 875.4L721.3 877.2L719.5 875.4Z" fill="#000"/>
<path d="M713.5 828.4L715.3 830.2L713.5 832.0L711.7 830.2Z" fill="#000"/>
<path d="M713.0 868.2L714.8 870.0L713.0 871.8L711.2 870.0Z" fill="#000"/>
<path d="M722.8 885.6L724.6 887.4L722.8 889.2L721.0 887.4Z" fill="#000"/>
<path d="M715.0 886.0L716.8 887.8L715.0 889.6L713.2 887.8Z" fill="#000"/>
<path d="M716.3 884.1L718.1 885.9L716.3 887.7L714.5 885.9Z" fill="#000"/>
<path d="M721.5 884.5L723.3 886.3L721.5 888.1L719.7 886.3Z" fill="#000"/>
<path d="M710.3 877.1L712.1 878.9L710.3 880.7L708.5 878.9Z" fill="#000"/>
<path d="M712.3 849.6L714.1 851.4L712.3 853.2L710.5 851.4Z" fill="#000"/>
<path d="M712.7 855.9L714.5 857.7L712.7 859.5L710.9 857.7Z" fill="#000"/>
<path d="M713.5 845.3L715.3 847.1L713.5 848.9L711.7 847.1Z" fill="#000"/>
<path d="M716.9 863.4L718.7 865.2L716.9 867.0L715.1 865.2Z" fill="#000"/>
<path d="M720.3 873.6L722.1 875.4L720.3 877.2L718.5 875.4Z" fill="#000"/>
<path d="M711.4 871.2L713.2 873.0L711.4 874.8L709.6 873.0Z" fill="#000"/>
<path d="M717.6 872.4L719.4 874.2L717.6 876.0L715.8 874.2Z" fill="#000"/>
<path d="M715.4 877.9L717.2 879.7L715.4 881.5L713.6 879.7Z" fill="#000"/>
<path d="M710.3 886.1L712.1 887.9L710.3 889.7L708.5 887.9Z" fill="#000"/>
<path d="M713.6 853.0L715.4 854.8L713.6 856.6L711.8 854.8Z" fill="#000"/>
<path d="M720.4 884.9L722.2 886.7L720.4 888.5L718.6 886.7Z" fill="#000"/>
<path d="M706.2 886.2L708.0 888.0L706.2 889.8L704.4 888.0Z" fill="#000"/>
<path d="M709.1 886.1L710.9 887.9L709.1 889.7L707.3 887.9Z" fill="#000"/>
<path d="M711.1 886.1L712.9 887.9L711.1 889.7L709.3 887.9Z" fill="#000"/>
<path d="M722.6 883.2L724.4 885.0L722.6 886.8L720.8 885.0Z" fill="#000"/>
<path d="M716.4 883.6L718.2 885.4L716.4 887.2L714.6 885.4Z" fill="#000"/>
<path d="M719.0 882.5L720.8 884.3L719.0 886.1L717.2 884.3Z" fill="#000"/>
<path d="M712.1 885.8L713.9 887.6L712.1 889.4L710.3 887.6Z" fill="#000"/>
<path d="M711.3 885.5L713.1 887.3L711.3 889.1L709.5 887.3Z" fill="#000"/>
<path d="M714.1 883.4L715.9 885.2L714.1 887.0L712.3 885.2Z" fill="#000"/>
<path d="M713.1 832.8L714.9 834.6L713.1 836.4L711.3 834.6Z" fill="#000"/>
<path d="M759.0 821.8L760.8 823.6L759.0 825.4L757.2 823.6Z" fill="#000"/>
<path d="M760.1 830.4L761.9 832.2L760.1 834.0L758.3 832.2Z" fill="#000"/>
<path d="M760.8 861.2L762.6 863.0L760.8 864.8L759.0 863.0Z" fill="#000"/>
<path d="M757.7 882.4L759.5 884.2L757.7 886.0L755.9 884.2Z" fill="#000"/>
<path d="M757.8 883.4L759.6 885.2L757.8 887.0L756.0 885.2Z" fill="#000"/>
<path d="M763.2 879.0L765.0 880.8L763.2 882.6L761.4 880.8Z" fill="#000"/>
<path d="M753.7 886.2L755.5 888.0L753.7 889.8L751.9 888.0Z" fill="#000"/>
<path d="M761.9 884.7L763.7 886.5L761.9 888.3L760.1 886.5Z" fill="#000"/>
<path d="M756.7 872.8L758.5 874.6L756.7 876.4L754.9 874.6Z" fill="#000"/>
<path d="M752.5 886.2L754.3 888.0L752.5 889.8L750.7 888.0Z" fill="#000"/>
<path d="M762.5 881.3L764.3 883.1L762.5 884.9L760.7 883.1Z" fill="#000"/>
<path d="M759.3 865.3L761.1 867.1L759.3 868.9L757.5 867.1Z" fill="#000"/>
<path d="M765.2 881.5L767.0 883.3L765.2 885.1L763.4 883.3Z" fill="#000"/>
<path d="M762.7 872.5L764.5 874.3L762.7 876.1L760.9 874.3Z" fill="#000"/>
<path d="M763.4 884.2L765.2 886.0L763.4 887.8L761.6 886.0Z" fill="#000"/>
<path d="M758.4 871.2L760.2 873.0L758.4 874.8L756.6 873.0Z" fill="#000"/>
<path d="M767.2 884.5L769.0 886.3L767.2 888.1L765.4 886.3Z" fill="#000"/>
<path d="M756.8 884.8L758.6 886.6L756.8 888.4L755.0 886.6Z" fill="#000"/>
<path d="M766.8 885.8L768.6 887.6L766.8 889.4L765.0 887.6Z" fill="#000"/>
<path d="M757.2 876.9L759.0 878.7L757.2 880.5L755.4 878.7Z" fill="#000"/>
<path d="M759.0 881.1L760.8 882.9L759.0 884.7L757.2 882.9Z" fill="#000"/>
<path d="M764.4 886.2L766.2 888.0L764.4 889.8L762.6 888.0Z" fill="#000"/>
<path d="M757.6 886.0L759.4 887.8L757.6 889.6L755.8 887.8Z" fill="#000"/>
<path d="M758.1 873.5L759.9 875.3L758.1 877.1L756.3 875.3Z" fill="#000"/>
<path d="M762.7 872.6L764.5 874.4L762.7 876.2L760.9 874.4Z" fill="#000"/>
<path d="M759.2 874.5L761.0 876.3L759.2 878.1L757.4 876.3Z" fill="#000"/>
<path d="M759.1 866.9L760.9 868.7L759.1 870.5L757.3 868.7Z" fill="#000"/>
<path d="M760.2 864.3L762.0 866.1L760.2 867.9L758.4 866.1Z" fill="#000"/>
<path d="M764.3 879.1L766.1 880.9L764.3 882.7L762.5 880.9Z" fill="#000"/>
<path d="M755.8 885.8L757.6 887.6L755.8 889.4L754.0 887.6Z" fill="#000"/>
<path d="M756.8 872.3L758.6 874.1L756.8 875.9L755.0 874.1Z" fill="#000"/>
<path d="M759.6 867.1L761.4 868.9L759.6 870.7L757.8 868.9Z" fill="#000"/>
<path d="M766.2 880.1L768.0 881.9L766.2 883.7L764.4 881.9Z" fill="#000"/>
<path d="M750.8 885.9L752.6 887.7L750.8 889.5L749.0 887.7Z" fill="#000"/>
<path d="M761.3 878.4L763.1 880.2L761.3 882.0L759.5 880.2Z" fill="#000"/>
<path d="M758.2 869.3L760.0 871.1L758.2 872.9L756.4 871.1Z" fill="#000"/>
<path d="M760.6 868.6L762.4 870.4L760.6 872.2L758.8 870.4Z" fill="#000"/>
<path d="M754.4 878.0L756.2 879.8L754.4 881.6L752.6 879.8Z" fill="#000"/>
<path d="M758.0 871.5L759.8 873.3L758.0 875.1L756.2 873.3Z" fill="#000"/>
<path d="M764.3 875.6L766.1 877.4L764.3 879.2L762.5 877.4Z" fill="#000"/>
<path d="M758.5 886.2L760.3 888.0L758.5 889.8L756.7 888.0Z" fill="#000"/>
<path d="M759.0 866.6L760.8 868.4L759.0 870.2L757.2 868.4Z" fill="#000"/>
<path d="M761.6 870.2L763.4 872.0L761.6 873.8L759.8 872.0Z" fill="#000"/>
<path d="M764.1 874.9L765.9 876.7L764.1 878.5L762.3 876.7Z" fill="#000"/>
<path d="M756.5 874.5L758.3 876.3L756.5 878.1L754.7 876.3Z" fill="#000"/>
<path d="M761.2 870.1L763.0 871.9L761.2 873.7L759.4 871.9Z" fill="#000"/>
<path d="M753.8 882.2L755.6 884.0L753.8 885.8L752.0 884.0Z" fill="#000"/>
<path d="M760.2 884.1L762.0 885.9L760.2 887.7L758.4 885.9Z" fill="#000"/>
<g transform="translate(632.5,903.5) rotate(-58.5)">
<text x="0.0" y="0.0" font-size="14.8" font-weight="normal" font-style="normal" text-anchor="end" fill="#111" stroke="#111" stroke-width="0.3">N2</text>
</g>
<g transform="translate(677.8,902.5) rotate(-58.5)">
<text x="0.0" y="0.0" font-size="14.8" font-weight="normal" font-style="italic" text-anchor="end" fill="#111" stroke="#111" stroke-width="0.3">nlp-99(syb4021)</text>
</g>
<g transform="translate(723.3,902.5) rotate(-58.5)">
<text x="0.0" y="0.0" font-size="14.8" font-weight="normal" font-style="italic" text-anchor="end" fill="#111" stroke="#111" stroke-width="0.3">flp-11p::nlp-99</text>
</g>
<g transform="translate(762.0,902.0) rotate(-58.5)">
<text x="0.0" y="0.0" font-size="14.8" font-weight="normal" font-style="italic" text-anchor="end" fill="#111" stroke="#111" stroke-width="0.3">nlp-99(syb4021);</text>
<text x="0.0" y="19.5" font-size="14.8" font-weight="normal" font-style="italic" text-anchor="end" fill="#111" stroke="#111" stroke-width="0.3">flp-11p::nlp-99</text>
</g>
</svg>
</body></html>
